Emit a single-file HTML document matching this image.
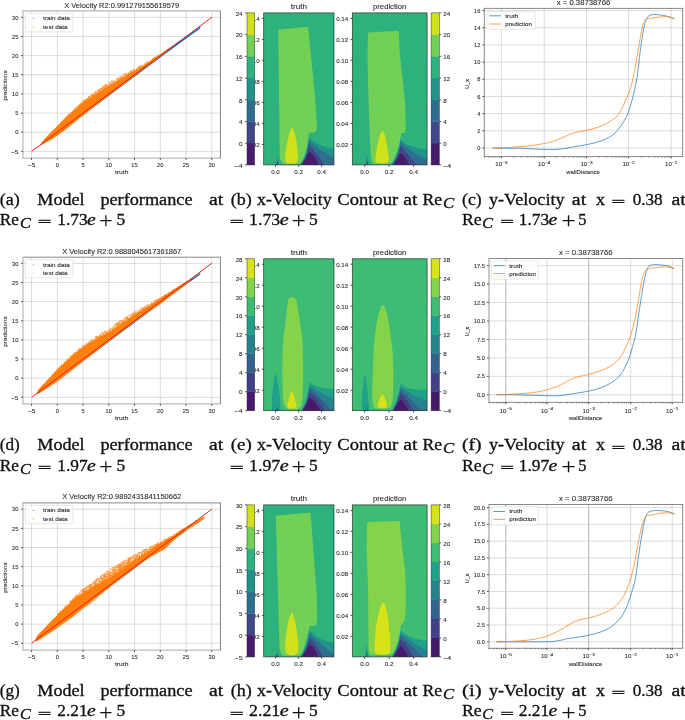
<!DOCTYPE html>
<html lang="en">
<head>
<meta charset="utf-8">
<title>Velocity model results</title>
<style>
html,body{margin:0;padding:0;background:#fff;}
body{width:685px;height:720px;overflow:hidden;font-family:"Liberation Sans",sans-serif;}
svg{display:block;will-change:transform;font-family:"Liberation Sans",sans-serif;}
</style>
</head>
<body>
<svg width="685" height="720" viewBox="0 0 685 720">
<rect x="0" y="0" width="685" height="720" fill="#ffffff"/>
<g id="scatter1">
<rect x="23" y="10.9" width="197.4" height="147.2" fill="#ffffff"/>
<line x1="31.55" y1="10.9" x2="31.55" y2="158.1" stroke="#c4c4c4" stroke-width="0.6"/>
<line x1="23" y1="151.35" x2="220.4" y2="151.35" stroke="#c4c4c4" stroke-width="0.6"/>
<line x1="57.3" y1="10.9" x2="57.3" y2="158.1" stroke="#c4c4c4" stroke-width="0.6"/>
<line x1="23" y1="132.2" x2="220.4" y2="132.2" stroke="#c4c4c4" stroke-width="0.6"/>
<line x1="83.05" y1="10.9" x2="83.05" y2="158.1" stroke="#c4c4c4" stroke-width="0.6"/>
<line x1="23" y1="113.05" x2="220.4" y2="113.05" stroke="#c4c4c4" stroke-width="0.6"/>
<line x1="108.8" y1="10.9" x2="108.8" y2="158.1" stroke="#c4c4c4" stroke-width="0.6"/>
<line x1="23" y1="93.9" x2="220.4" y2="93.9" stroke="#c4c4c4" stroke-width="0.6"/>
<line x1="134.55" y1="10.9" x2="134.55" y2="158.1" stroke="#c4c4c4" stroke-width="0.6"/>
<line x1="23" y1="74.75" x2="220.4" y2="74.75" stroke="#c4c4c4" stroke-width="0.6"/>
<line x1="160.3" y1="10.9" x2="160.3" y2="158.1" stroke="#c4c4c4" stroke-width="0.6"/>
<line x1="23" y1="55.6" x2="220.4" y2="55.6" stroke="#c4c4c4" stroke-width="0.6"/>
<line x1="186.05" y1="10.9" x2="186.05" y2="158.1" stroke="#c4c4c4" stroke-width="0.6"/>
<line x1="23" y1="36.45" x2="220.4" y2="36.45" stroke="#c4c4c4" stroke-width="0.6"/>
<line x1="211.8" y1="10.9" x2="211.8" y2="158.1" stroke="#c4c4c4" stroke-width="0.6"/>
<line x1="23" y1="17.3" x2="220.4" y2="17.3" stroke="#c4c4c4" stroke-width="0.6"/>
<clipPath id="cs1"><rect x="23" y="10.9" width="197.4" height="147.2"/></clipPath>
<g clip-path="url(#cs1)">
<polygon points="42.36,142.92 83.05,111.9 119.1,85.09 150,62.49 170.6,47.56 186.05,36.45 199.95,26.87 200.47,26.87 200.47,27.83 199.95,28.79 186.05,38.75 170.6,50.05 150,65.17 119.1,88.15 83.05,115.16 42.36,143.69" fill="#1f77b4"/>
<path d="M40.56 144.26C40.71 143.93 41.34 142.83 41.85 142.16C42.36 141.49 44.04 139.5 44.94 138.52C45.84 137.54 48.13 135.18 49.57 133.73C51.02 132.28 54.9 128.4 57.3 126.07C59.7 123.75 67.17 116.54 70.17 113.82C73.18 111.09 80.05 105.03 83.05 102.71C86.05 100.39 92.92 95.82 95.92 93.9C98.93 91.98 105.8 88.03 108.8 86.24C111.8 84.45 118.67 80.39 121.67 78.58C124.68 76.77 131.55 72.56 134.55 70.73C137.55 68.9 144.42 64.8 147.43 62.88C150.43 60.96 157.9 55.89 160.3 54.26C162.7 52.63 166.34 50.04 168.03 48.9C169.71 47.76 173.94 44.94 174.72 44.49C175.5 44.05 175.5 44.37 174.72 45.07C173.94 45.76 169.71 49.07 168.03 50.43C166.34 51.79 162.7 54.89 160.3 56.75C157.9 58.6 150.43 64.09 147.43 66.32C144.42 68.56 137.55 73.62 134.55 75.9C131.55 78.18 124.68 83.56 121.67 85.86C118.67 88.16 111.8 93.32 108.8 95.62C105.8 97.92 98.93 103.26 95.92 105.58C92.92 107.91 86.05 113.17 83.05 115.54C80.05 117.91 73.18 123.53 70.17 125.88C67.17 128.23 59.7 133.95 57.3 135.65C54.9 137.34 51.02 139.59 49.57 140.43C48.13 141.28 45.84 142.43 44.94 142.92C44.04 143.42 42.36 144.4 41.85 144.65C41.34 144.89 40.71 145.08 40.56 145.03C40.41 144.99 40.41 144.6 40.56 144.26Z" fill="#ff7f0e"/>
<path d="M51.41 132.19h0M52.43 131.11h0M54.41 129.49h0M49.68 133.75h0M51.58 132.22h0M57.27 126.33h0M68.07 115.81h0M65.53 118.7h0M65.47 117.67h0M64.04 119.33h0M65.94 118.38h0M67.06 116.6h0M61.18 122.94h0M68.44 115.45h0M66.55 116.57h0M66.49 116.55h0M62.39 120.87h0M63.02 120.01h0M68.62 115.8h0M59.05 124.85h0M69.73 114.26h0M65.37 118.68h0M63.83 120.06h0M61.82 121.75h0M64.82 118.26h0M66.08 116.95h0M68.33 114.56h0M65.94 118.29h0M68.38 114.56h0M68.95 114.79h0M66.49 117.71h0M68.01 115.7h0M60.97 123.13h0M68.29 114.59h0M58.44 124.8h0M62.58 121.52h0M61.08 122.22h0M81.41 104.66h0M78.09 107.53h0M79.42 105.84h0M81.52 101.94h0M76.68 106.48h0M74.16 110.89h0M77.9 107.71h0M72.72 111.62h0M78.03 107.41h0M70.72 112.46h0M74.22 108.94h0M81.72 103.69h0M76.1 108.34h0M78.47 106.01h0M77.38 106.94h0M82.29 102.82h0M75.73 108.18h0M73.23 111.36h0M82.76 102.35h0M77.24 108.29h0M75.52 108.72h0M70.43 113.26h0M78.31 107.31h0M78.25 106.55h0M78.92 106.23h0M79.28 104.86h0M70.46 114.1h0M78.88 104.5h0M73.41 110.9h0M77.81 107.29h0M74.86 109.9h0M74.93 109.22h0M74.04 110.5h0M80.12 105.79h0M77.5 106.5h0M74.17 110.67h0M80.52 105.08h0M72.59 111.68h0M79.16 106.52h0M74.32 110.34h0M80.91 104.25h0M81.19 104.64h0M74.51 109.47h0M81.57 103.63h0M73.07 111.78h0M76.99 108.26h0M80.56 103.34h0M72.54 112.01h0M80.57 103.97h0M80.56 104.8h0M71.84 112.59h0M80.4 105.12h0M74.63 109.89h0M75.58 109.07h0M82.03 103.94h0M70.24 112.74h0M81.5 101.93h0M75.77 107.49h0M82.11 103.72h0M79.77 104.08h0M78.71 106h0M73.9 110.7h0M85.98 101.2h0M90.63 97.48h0M93.48 96.09h0M94.68 93.15h0M94.94 92.06h0M94.63 93.66h0M83.22 101.23h0M85.26 101.18h0M91.58 96.03h0M88.38 96.71h0M90.93 97.11h0M86.3 98.55h0M89.19 96.76h0M87.58 99.83h0M89.93 96.08h0M85.26 99.58h0M94.92 92.49h0M93.65 96.02h0M91.14 95h0M83.69 102.34h0M86.51 99.62h0M88.5 98.39h0M93.05 96.44h0M83.76 102.62h0M84.65 102.11h0M95.6 91.77h0M84.16 101.37h0M87.12 99.85h0M87.57 98.44h0M90.6 97.28h0M85.51 100.93h0M84.64 100.85h0M92.27 96.05h0M84.08 102.29h0M87.86 98.39h0M93.13 95.45h0M93.36 94.39h0M88.61 98.64h0M89.44 96.89h0M88.46 97.63h0M88.98 98.74h0M89.95 96.55h0M83.97 101.73h0M88.53 96.84h0M95.11 94.08h0M94.61 92.78h0M86.43 99.88h0M84.64 99.95h0M91.58 94.57h0M93.25 94.29h0M92.5 95.24h0M84.38 100.93h0M83.11 103.03h0M93.02 96.41h0M84.23 102.34h0M94.39 95.18h0M83.35 100.79h0M84.61 99.86h0M91.72 94.69h0M95.31 93.17h0M93.33 96.21h0M92.93 95.12h0M92.26 96.82h0M92.69 93.54h0M83.84 102.11h0M90.31 95.75h0M86.17 100.85h0M86.27 99.49h0M92.75 95.67h0M87.78 99.14h0M87.56 99.23h0M84.12 101.4h0M95.58 93.62h0M92.67 96.41h0M91.94 94.87h0M91.73 95.96h0M89.28 97.24h0M94.6 95.11h0M84.28 100.45h0M94.85 93.74h0M88.75 97.32h0M85.45 101.14h0M85.61 100.06h0M99.98 91.52h0M104.82 85.27h0M99.73 89.8h0M101.24 88.12h0M103.45 89.31h0M98.73 92.78h0M102.1 89.71h0M98.14 92.2h0M100.07 89.26h0M97.77 89.67h0M102.1 88.8h0M101.95 87.76h0M106.5 86.24h0M102.12 88.21h0M106.95 86.66h0M105.37 84.88h0M101.94 90.35h0M98.95 90.24h0M104.62 85.38h0M106.92 87.3h0M98.37 92.41h0M98.34 90.68h0M106.98 84.17h0M99.21 89.37h0M99.96 90.86h0M105.31 88.74h0M97.12 90.86h0M99.68 91.28h0M103.4 87.63h0M96.01 93.59h0M101.54 89.63h0M98.63 91.02h0M108.22 85.93h0M102.93 90.08h0M99.46 90.15h0M97.37 90.44h0M107.63 87.33h0M108.04 86.11h0M105.87 85.65h0M99.73 89.93h0M104.35 86.37h0M99.34 89.81h0M108.3 84.55h0M102.83 90.15h0M102.28 89.71h0M105.17 86.49h0M103.22 89.73h0M104.24 87.31h0M98.23 89.88h0M104.36 89.21h0M107.92 87.03h0M100.19 89.43h0M103.62 88.05h0M104.26 88.08h0M99.95 91.71h0M96.81 91.6h0M105.64 86.85h0M105.45 87.75h0M99.35 91.39h0M107.16 87.73h0M102.42 90h0M105.82 87.54h0M100.21 90.78h0M102.9 87.47h0M100.47 88.65h0M97.37 92.98h0M97.21 93.52h0M105.95 85.75h0M98.3 92.66h0M101.29 88.63h0M106.43 85.34h0M103.55 89.63h0M101.05 90.99h0M102.72 88.55h0M98.53 92.34h0M105.99 88.45h0M106.27 84.68h0M108.15 86.01h0M103.04 88.28h0M104.08 85.62h0M104.77 88.4h0M107 86.27h0M103.67 87.2h0M95.96 91.9h0M104.45 87.81h0M102.67 89.05h0M98.42 91.39h0M96.4 92.75h0M104.24 88.14h0M103.21 86.29h0M107.41 87.35h0M106.13 86.16h0M96.58 93.16h0M98.93 92.56h0M102.86 86.67h0M100.09 88.78h0M104.87 88.88h0M106.98 85.74h0M107.86 84.6h0M105.45 87.81h0M106.31 84.43h0M107.02 86.47h0M105.67 87.09h0M97.33 93.59h0M96.93 93.46h0M110.87 83.92h0M117.8 79.78h0M114.23 81.3h0M112.72 83h0M118.55 79.9h0M111.13 81.73h0M118.07 80.31h0M113.58 82.23h0M116.48 81.72h0M108.83 86.26h0M118.88 80.54h0M114.72 82.84h0M111.49 84.82h0M114 83.35h0M109.15 86.38h0M110.97 83.89h0M109.57 86.33h0M114.57 82.17h0M117.86 81.36h0M113.99 82.55h0M109.14 82.43h0M111.62 84.96h0M114.91 82.82h0M116.81 81.11h0M110.4 85.79h0M118.17 80.57h0M118.94 79.43h0M120.81 78.94h0M112.02 84.2h0M119.29 78.55h0M113.24 84h0M117.59 77.87h0M116.43 82.28h0M109.19 86.41h0M110.99 85.46h0M109.49 83.94h0M120.39 79.49h0M121.34 78.01h0M119.15 77.29h0M120.9 79.57h0M112.72 82.35h0M120.99 79.43h0M112.58 81.21h0M110.28 84.73h0M113.1 81.79h0M120.75 79.35h0M118.32 78.62h0M119.56 78.72h0M120.69 78.8h0M114.14 83.08h0M118.84 79.43h0M112.27 84.37h0M118.08 79.34h0M117.95 80.3h0M115.07 82.76h0M117.95 81.35h0M114.81 80.45h0M117.52 81.46h0M111.85 81.64h0M117.07 78.61h0M120.03 78.86h0M120.35 77.5h0M113.1 83.17h0M109.73 85h0M121.1 79.32h0M116.12 82.25h0M109.84 83.77h0M111.9 84.9h0M110.77 83.28h0M116.34 82.32h0M111.76 81.01h0M111.63 83.18h0M114.2 80.67h0M116.58 79.32h0M115.69 82.3h0M111.09 85.32h0M119.43 80.29h0M109.11 82.44h0M111.37 81.64h0M109.9 84.61h0M111.67 81.82h0M116.72 79.94h0M118.6 77.81h0M113.26 82.07h0M114.54 83.19h0M119.56 78.55h0M119.29 80.13h0M115.74 81.27h0M118.17 81.12h0M113.26 82.61h0M109.72 84.31h0M118.27 79.98h0M117.15 79.86h0M111.56 84.14h0M121.62 78.35h0M114.35 83.37h0M111.61 84.77h0M120.79 77.29h0M120.06 76.45h0M116.68 78.55h0M115.7 81.48h0M121.01 76.35h0M121.03 78.16h0M118.76 79.76h0M121.64 75.92h0M125.44 73.9h0M124.05 77.56h0M130.98 72.97h0M128.36 73.47h0M122.2 76.43h0M125.23 75.93h0M126.11 74.32h0M131.29 72.8h0M123.01 77.66h0M126.97 75.83h0M123.65 75.57h0M130.69 71.04h0M134.29 69.52h0M126.47 75.96h0M125.69 75.57h0M128.45 73.74h0M126.31 73.78h0M125.35 75.76h0M133.09 70.36h0M125.5 76.34h0M132.06 72.82h0M123.37 76.65h0M128.57 74.69h0M122.32 78.34h0M131.59 72.18h0M134.28 69.79h0M134.28 71.44h0M124.06 77.69h0M127.24 75.05h0M122.34 77.17h0M122.88 77.69h0M124.86 74.76h0M127.06 75.37h0M122.24 77.67h0M129.75 72.58h0M133.42 70.18h0M124.86 76.99h0M131.44 71.29h0M128.23 72.86h0M128.78 74.3h0M123.85 77.82h0M129.95 71.71h0M133.34 71.17h0M130.24 71.44h0M132.16 71.48h0M127.01 74.63h0M123.87 77.47h0M130.48 71.09h0M128.72 73.99h0M126.21 75.3h0M132.01 71.97h0M134.03 71.43h0M125.73 75.34h0M126.98 73.44h0M132.33 70.36h0M129.56 74.32h0M129.07 73.36h0M127.95 74.79h0M130.81 71.21h0M122.99 76.32h0M126.46 74.96h0M133.21 69.81h0M129.96 73.8h0M133.53 71.69h0M126.61 73.72h0M125.75 76.12h0M133.91 69.51h0M125.76 75.75h0M125.31 76.73h0M124.9 73.97h0M122.7 78.05h0M124.25 77.47h0M128.45 73.06h0M132.47 71.22h0M132.2 72.73h0M125.31 73.85h0M122.57 78.01h0M127.89 74.86h0M128.71 74.82h0M124.71 74.17h0M123.53 75.01h0M123.97 74.39h0M130.36 72.34h0M136.38 70.14h0M144.33 65.16h0M136.99 68.13h0M145.81 64.4h0M146.92 63.01h0M139.47 68.2h0M139.57 66.2h0M138.16 68.96h0M136.42 70.03h0M139.09 66.68h0M135.54 70.46h0M146.64 62.18h0M147.17 63.35h0M139.11 66.56h0M140.8 66.24h0M138.58 68.83h0M139 67.17h0M144.62 64.3h0M140.52 66.78h0M140.24 66.95h0M145.27 64.56h0M142.2 64.86h0M145.47 64.46h0M146.95 62.36h0M136.71 69.62h0M137.16 69.67h0M147.15 63.1h0M145.79 64.35h0M134.73 69.3h0M144.77 63.25h0M143.38 65.12h0M144.41 65.21h0M141.51 66.4h0M136.43 69.04h0M138.71 67.92h0M139.36 67.93h0M139.16 67.44h0M147.17 62.02h0M145.65 63.12h0M138.24 66.98h0M138.02 69.06h0M141 66.05h0M138.94 67.46h0M138.19 67.04h0M140.38 67h0M141.39 65.47h0M147.25 62.83h0M153.11 58.88h0M148.32 62.32h0M158.34 55.27h0M148.19 61.57h0M152.37 58.68h0M152.15 60.1h0M154.49 57.53h0M152.98 58.52h0M156.58 56.99h0M151.3 60.24h0M152.56 59.62h0M155.82 56.71h0M154.95 58.31h0M150.26 61.14h0M155.34 58.06h0M148.47 62.39h0M151.07 61h0M154.36 57.54h0M154.3 57.91h0M158.09 55.33h0M159.18 55.19h0M156.21 57.49h0M158.75 55.54h0M153.55 58.12h0M151.12 60.81h0M158.03 55.73h0M148.52 62.71h0M151.95 60.42h0M158.14 56.15h0M150.95 60.65h0M154.01 58.58h0M165.16 50.95h0M163.67 52.45h0M167.86 49.11h0M160.95 54.02h0M166.12 49.94h0M160.81 54.48h0M164.01 51.96h0M167.21 49.41h0M162.86 52.74h0M171.93 46.35h0M169.38 48.38h0" stroke="#ff7f0e" stroke-width="0.75" stroke-linecap="round" fill="none" opacity="0.9"/>
<line x1="31.55" y1="151.35" x2="211.8" y2="17.3" stroke="#ee1414" stroke-width="0.95" stroke-linecap="butt"/>
</g>
<line x1="22.38" y1="10.9" x2="220.78" y2="10.9" stroke="#b4b4b4" stroke-width="1.2"/>
<line x1="22.38" y1="158.1" x2="220.78" y2="158.1" stroke="#bababa" stroke-width="1.25"/>
<line x1="23" y1="10.9" x2="23" y2="158.1" stroke="#bababa" stroke-width="1.25"/>
<line x1="220.4" y1="10.9" x2="220.4" y2="158.1" stroke="#5a5a5a" stroke-width="0.75"/>
<line x1="31.55" y1="158.1" x2="31.55" y2="160" stroke="#222222" stroke-width="0.75"/>
<text x="31.55" y="166.7" font-size="5.4" fill="#2a2a2a" text-anchor="middle" textLength="7.37" lengthAdjust="spacingAndGlyphs" stroke="#2a2a2a" stroke-width="0.09">−5</text>
<line x1="21.1" y1="151.35" x2="23" y2="151.35" stroke="#222222" stroke-width="0.75"/>
<text x="18.4" y="153.55" font-size="5.4" fill="#2a2a2a" text-anchor="end" textLength="7.37" lengthAdjust="spacingAndGlyphs" stroke="#2a2a2a" stroke-width="0.09">−5</text>
<line x1="57.3" y1="158.1" x2="57.3" y2="160" stroke="#222222" stroke-width="0.75"/>
<text x="57.3" y="166.7" font-size="5.4" fill="#2a2a2a" text-anchor="middle" textLength="3.18" lengthAdjust="spacingAndGlyphs" stroke="#2a2a2a" stroke-width="0.09">0</text>
<line x1="21.1" y1="132.2" x2="23" y2="132.2" stroke="#222222" stroke-width="0.75"/>
<text x="18.4" y="134.4" font-size="5.4" fill="#2a2a2a" text-anchor="end" textLength="3.18" lengthAdjust="spacingAndGlyphs" stroke="#2a2a2a" stroke-width="0.09">0</text>
<line x1="83.05" y1="158.1" x2="83.05" y2="160" stroke="#222222" stroke-width="0.75"/>
<text x="83.05" y="166.7" font-size="5.4" fill="#2a2a2a" text-anchor="middle" textLength="3.18" lengthAdjust="spacingAndGlyphs" stroke="#2a2a2a" stroke-width="0.09">5</text>
<line x1="21.1" y1="113.05" x2="23" y2="113.05" stroke="#222222" stroke-width="0.75"/>
<text x="18.4" y="115.25" font-size="5.4" fill="#2a2a2a" text-anchor="end" textLength="3.18" lengthAdjust="spacingAndGlyphs" stroke="#2a2a2a" stroke-width="0.09">5</text>
<line x1="108.8" y1="158.1" x2="108.8" y2="160" stroke="#222222" stroke-width="0.75"/>
<text x="108.8" y="166.7" font-size="5.4" fill="#2a2a2a" text-anchor="middle" textLength="6.36" lengthAdjust="spacingAndGlyphs" stroke="#2a2a2a" stroke-width="0.09">10</text>
<line x1="21.1" y1="93.9" x2="23" y2="93.9" stroke="#222222" stroke-width="0.75"/>
<text x="18.4" y="96.1" font-size="5.4" fill="#2a2a2a" text-anchor="end" textLength="6.36" lengthAdjust="spacingAndGlyphs" stroke="#2a2a2a" stroke-width="0.09">10</text>
<line x1="134.55" y1="158.1" x2="134.55" y2="160" stroke="#222222" stroke-width="0.75"/>
<text x="134.55" y="166.7" font-size="5.4" fill="#2a2a2a" text-anchor="middle" textLength="6.36" lengthAdjust="spacingAndGlyphs" stroke="#2a2a2a" stroke-width="0.09">15</text>
<line x1="21.1" y1="74.75" x2="23" y2="74.75" stroke="#222222" stroke-width="0.75"/>
<text x="18.4" y="76.95" font-size="5.4" fill="#2a2a2a" text-anchor="end" textLength="6.36" lengthAdjust="spacingAndGlyphs" stroke="#2a2a2a" stroke-width="0.09">15</text>
<line x1="160.3" y1="158.1" x2="160.3" y2="160" stroke="#222222" stroke-width="0.75"/>
<text x="160.3" y="166.7" font-size="5.4" fill="#2a2a2a" text-anchor="middle" textLength="6.36" lengthAdjust="spacingAndGlyphs" stroke="#2a2a2a" stroke-width="0.09">20</text>
<line x1="21.1" y1="55.6" x2="23" y2="55.6" stroke="#222222" stroke-width="0.75"/>
<text x="18.4" y="57.8" font-size="5.4" fill="#2a2a2a" text-anchor="end" textLength="6.36" lengthAdjust="spacingAndGlyphs" stroke="#2a2a2a" stroke-width="0.09">20</text>
<line x1="186.05" y1="158.1" x2="186.05" y2="160" stroke="#222222" stroke-width="0.75"/>
<text x="186.05" y="166.7" font-size="5.4" fill="#2a2a2a" text-anchor="middle" textLength="6.36" lengthAdjust="spacingAndGlyphs" stroke="#2a2a2a" stroke-width="0.09">25</text>
<line x1="21.1" y1="36.45" x2="23" y2="36.45" stroke="#222222" stroke-width="0.75"/>
<text x="18.4" y="38.65" font-size="5.4" fill="#2a2a2a" text-anchor="end" textLength="6.36" lengthAdjust="spacingAndGlyphs" stroke="#2a2a2a" stroke-width="0.09">25</text>
<line x1="211.8" y1="158.1" x2="211.8" y2="160" stroke="#222222" stroke-width="0.75"/>
<text x="211.8" y="166.7" font-size="5.4" fill="#2a2a2a" text-anchor="middle" textLength="6.36" lengthAdjust="spacingAndGlyphs" stroke="#2a2a2a" stroke-width="0.09">30</text>
<line x1="21.1" y1="17.3" x2="23" y2="17.3" stroke="#222222" stroke-width="0.75"/>
<text x="18.4" y="19.5" font-size="5.4" fill="#2a2a2a" text-anchor="end" textLength="6.36" lengthAdjust="spacingAndGlyphs" stroke="#2a2a2a" stroke-width="0.09">30</text>
<text x="121.7" y="174.3" font-size="5.89" fill="#2a2a2a" text-anchor="middle" textLength="13.42" lengthAdjust="spacingAndGlyphs" stroke="#2a2a2a" stroke-width="0.09">truth</text>
<text x="7.4" y="85.5" font-size="5.89" fill="#2a2a2a" text-anchor="middle" textLength="30.18" lengthAdjust="spacingAndGlyphs" stroke="#2a2a2a" stroke-width="0.09" transform="rotate(-90 7.4 85.5)">predictions</text>
<text x="121.7" y="7.8" font-size="7.13" fill="#2a2a2a" text-anchor="middle" textLength="114.9" lengthAdjust="spacingAndGlyphs" stroke="#2a2a2a" stroke-width="0.09">X Velocity R2:0.991279155619579</text>
<rect x="25.3" y="13.4" width="47.6" height="18.3" rx="1.2" fill="#ffffff" fill-opacity="0.8" stroke="#d0d0d0" stroke-width="0.5"/>
<circle cx="33.6" cy="18.5" r="0.55" fill="#1f77b4"/>
<circle cx="33.6" cy="26.9" r="0.55" fill="#ff7f0e"/>
<text x="43.1" y="20.4" font-size="5.89" fill="#2a2a2a" textLength="26.69" lengthAdjust="spacingAndGlyphs" stroke="#2a2a2a" stroke-width="0.09">train data</text>
<text x="43.1" y="28.8" font-size="5.89" fill="#2a2a2a" textLength="24.47" lengthAdjust="spacingAndGlyphs" stroke="#2a2a2a" stroke-width="0.09">test data</text>
</g>
<g id="scatter2">
<rect x="23" y="257.2" width="197.4" height="146.7" fill="#ffffff"/>
<line x1="31.55" y1="257.2" x2="31.55" y2="403.9" stroke="#c4c4c4" stroke-width="0.6"/>
<line x1="23" y1="397.35" x2="220.4" y2="397.35" stroke="#c4c4c4" stroke-width="0.6"/>
<line x1="57.3" y1="257.2" x2="57.3" y2="403.9" stroke="#c4c4c4" stroke-width="0.6"/>
<line x1="23" y1="378.2" x2="220.4" y2="378.2" stroke="#c4c4c4" stroke-width="0.6"/>
<line x1="83.05" y1="257.2" x2="83.05" y2="403.9" stroke="#c4c4c4" stroke-width="0.6"/>
<line x1="23" y1="359.05" x2="220.4" y2="359.05" stroke="#c4c4c4" stroke-width="0.6"/>
<line x1="108.8" y1="257.2" x2="108.8" y2="403.9" stroke="#c4c4c4" stroke-width="0.6"/>
<line x1="23" y1="339.9" x2="220.4" y2="339.9" stroke="#c4c4c4" stroke-width="0.6"/>
<line x1="134.55" y1="257.2" x2="134.55" y2="403.9" stroke="#c4c4c4" stroke-width="0.6"/>
<line x1="23" y1="320.75" x2="220.4" y2="320.75" stroke="#c4c4c4" stroke-width="0.6"/>
<line x1="160.3" y1="257.2" x2="160.3" y2="403.9" stroke="#c4c4c4" stroke-width="0.6"/>
<line x1="23" y1="301.6" x2="220.4" y2="301.6" stroke="#c4c4c4" stroke-width="0.6"/>
<line x1="186.05" y1="257.2" x2="186.05" y2="403.9" stroke="#c4c4c4" stroke-width="0.6"/>
<line x1="23" y1="282.45" x2="220.4" y2="282.45" stroke="#c4c4c4" stroke-width="0.6"/>
<line x1="211.8" y1="257.2" x2="211.8" y2="403.9" stroke="#c4c4c4" stroke-width="0.6"/>
<line x1="23" y1="263.3" x2="220.4" y2="263.3" stroke="#c4c4c4" stroke-width="0.6"/>
<clipPath id="cs2"><rect x="23" y="257.2" width="197.4" height="146.7"/></clipPath>
<g clip-path="url(#cs2)">
<polygon points="38.76,391.61 83.05,357.9 119.1,331.09 150,308.49 170.6,293.56 186.05,282.45 199.95,272.88 200.47,272.88 200.47,273.83 199.95,274.79 186.05,284.75 170.6,296.05 150,311.17 119.1,334.15 83.05,361.16 38.76,392.37" fill="#1f77b4"/>
<path d="M37.21 391.99C37.37 391.43 37.96 390.04 38.5 389.31C39.04 388.57 40.86 386.7 41.85 385.67C42.84 384.64 45.2 382.35 47 380.5C48.8 378.64 54.6 372.45 57.3 369.77C60 367.09 67.17 360.11 70.17 357.52C73.18 354.93 80.05 349.66 83.05 347.56C86.05 345.46 92.92 341.26 95.92 339.52C98.93 337.77 105.8 334.46 108.8 332.62C111.8 330.79 118.67 325.87 121.67 323.81C124.68 321.76 131.55 316.93 134.55 315C137.55 313.08 144.42 309.27 147.43 307.34C150.43 305.42 157.3 300.55 160.3 298.54C163.3 296.53 170.47 291.9 173.18 290.11C175.88 288.32 181.55 284.44 183.48 283.22C185.4 281.99 188.93 279.78 189.66 279.58C190.38 279.38 190.38 280.69 189.66 281.49C188.93 282.3 185.4 284.97 183.48 286.47C181.55 287.97 175.88 292.27 173.18 294.32C170.47 296.38 163.3 301.94 160.3 304.09C157.3 306.23 150.43 310.61 147.43 312.71C144.42 314.81 137.55 319.86 134.55 322.09C131.55 324.32 124.68 329.58 121.67 331.86C118.67 334.14 111.8 339.32 108.8 341.62C105.8 343.92 98.93 349.26 95.92 351.58C92.92 353.91 86.05 359.19 83.05 361.54C80.05 363.89 73.18 369.37 70.17 371.69C67.17 374.01 60 379.51 57.3 381.46C54.6 383.4 48.8 387.14 47 388.35C45.2 389.56 42.84 391.15 41.85 391.8C40.86 392.44 39.04 393.63 38.5 393.9C37.96 394.17 37.37 394.32 37.21 394.09C37.06 393.87 37.06 392.55 37.21 391.99Z" fill="#ff7f0e"/>
<path d="M53.42 373.69h0M55.19 371.45h0M54.62 372.11h0M47.3 380.55h0M56.72 370.23h0M56.28 371.34h0M51.83 375.9h0M52.6 374.77h0M47.14 380.86h0M49.88 377.37h0M54.89 372.76h0M55.21 372.44h0M53.36 374.39h0M47.02 380.58h0M49.16 378.73h0M57.12 369.43h0M61.02 365.43h0M64.24 362.82h0M59.94 366.53h0M66.19 360.35h0M68.81 359.07h0M61.95 365.79h0M59.18 368.53h0M61.18 365.92h0M57.34 369.51h0M61.65 365.9h0M67.84 359.7h0M61.37 365.93h0M66.37 361.68h0M69.85 358.39h0M66.95 359.86h0M57.53 369.15h0M62.01 365.15h0M57.42 370.22h0M59.63 366.81h0M59.83 366.97h0M69.27 357.39h0M61.73 365.76h0M64.06 362.82h0M58.69 368.09h0M67.56 359.24h0M57.77 368.64h0M58.47 368.91h0M65.16 361.46h0M61.68 364.86h0M64.32 363.35h0M61.38 366.32h0M71.18 357.18h0M79.05 348.99h0M72.25 356.45h0M82.88 347.21h0M75.4 353.76h0M77.82 350.49h0M76.04 352.91h0M70.89 355.97h0M70.6 357.09h0M80.97 349.59h0M79.6 348.68h0M78.29 350.22h0M71.55 356.44h0M72.1 355.14h0M73.97 354.49h0M83.04 346.14h0M82.74 347.52h0M76.46 351.86h0M76.34 352.93h0M75.37 353.92h0M75.03 352.36h0M82.53 347.23h0M76.6 352.63h0M71.32 356.9h0M80.24 348.39h0M74.83 353.05h0M80.15 348.96h0M78.72 349.94h0M74.85 353.23h0M73.79 354.56h0M80.09 349.02h0M73.96 353.36h0M78.54 350.56h0M70.32 357.21h0M73.4 354.48h0M76.14 351.9h0M78.51 350.01h0M74.65 353.53h0M79.67 348.97h0M74.68 353.03h0M81.38 347.99h0M82.74 346.05h0M76.85 352.03h0M72.31 354.98h0M82.24 347.86h0M79.08 349.76h0M79.58 350.61h0M80.22 349.21h0M78.74 350.77h0M78.21 350.32h0M78.37 350.33h0M70.53 357.67h0M88.73 342.91h0M85.87 344.72h0M91.17 343.02h0M89.12 343.93h0M83.75 347.53h0M87.14 345.3h0M85.54 346.55h0M89.04 343.57h0M90.93 341.65h0M86.11 343.81h0M83.06 347.39h0M86.64 345.05h0M84.53 345.17h0M87.86 345.09h0M90.95 343.07h0M90.07 343.02h0M90.53 340.48h0M93.59 340.49h0M93.52 339.71h0M87.81 344.95h0M90.72 341.88h0M95.37 337h0M90.89 342.46h0M94.55 340.95h0M84.44 346.05h0M90.97 342.96h0M91.15 340.32h0M87.89 344.17h0M85.96 345.79h0M95.57 339.34h0M95.42 337.22h0M90.72 342.83h0M95.68 338.84h0M88.4 344.16h0M95.72 338.83h0M86.74 344.79h0M84.62 345.77h0M88.76 344h0M93.11 339.23h0M83.22 346.96h0M86.58 343.37h0M93.12 341.34h0M86.5 345.76h0M95.78 339.49h0M90.88 342.08h0M91.35 341.31h0M92.62 341.97h0M92.84 341.35h0M89.92 343.13h0M86.87 344.55h0M89.03 343.64h0M92.64 340.5h0M83.52 347.45h0M88.92 341.79h0M94.48 339.44h0M83.24 346.23h0M88.56 343.28h0M92.17 340.66h0M89.25 341.57h0M88.01 344.21h0M94.02 340.9h0M86.87 343.55h0M83.9 345.59h0M91.99 341.49h0M86.74 343.81h0M94.77 340.55h0M89.21 342.93h0M89.46 343.44h0M85.03 345.6h0M93.5 341.51h0M86.01 344.18h0M93.24 339.81h0M83.38 346.3h0M95.65 336.66h0M92.08 342.44h0M93.89 340.92h0M91.36 339.92h0M92.22 342.18h0M86.82 343.26h0M84.98 345.56h0M88.38 344.55h0M91.06 343.08h0M84.44 346.56h0M96.85 339.52h0M103.33 333.25h0M107.24 333.73h0M101.48 336.25h0M103.65 334.3h0M108.01 332.37h0M96.64 337.43h0M97.87 337h0M102.44 332.89h0M103.07 334.02h0M99.31 336.51h0M99.2 335.67h0M102.58 336.25h0M98.94 337.45h0M105.41 334.57h0M105.11 332.66h0M97.02 337.34h0M97.1 339.24h0M103.57 335.37h0M107.22 332.32h0M100.09 334.91h0M96.3 337.51h0M96.62 339.43h0M108.18 330.71h0M98.8 338.34h0M108.45 330.64h0M106.49 334.11h0M103.97 334.71h0M98.95 337.58h0M103.83 334.81h0M100.89 337.15h0M106.63 331.81h0M106.28 333.07h0M106.89 332.32h0M103.56 333.97h0M105.45 333.71h0M97.17 339.39h0M98.53 338.65h0M107.37 332.23h0M105.71 334.85h0M101.98 333.28h0M103.9 334.43h0M101.92 336.7h0M97.92 338.71h0M100.75 336.38h0M107.26 333.66h0M99.2 337.64h0M98 338.27h0M98.95 337.01h0M96.34 336.56h0M100.68 333.82h0M104.78 332.75h0M102 332.96h0M97.44 337.09h0M99.67 335.75h0M105.31 334.68h0M98.51 338.68h0M98.89 338.38h0M101.09 333.37h0M100.61 336.74h0M101.95 336.1h0M105.35 332.18h0M98.03 338.41h0M104.58 331.4h0M104.24 334.23h0M108.48 333.36h0M96.71 337.02h0M101.21 337.2h0M102.99 332.1h0M102.61 335.49h0M97.13 339.34h0M107.5 332.11h0M107.97 333.55h0M99.06 338.34h0M101.04 337.26h0M99.21 337.16h0M99.86 337.91h0M96.41 336.29h0M98.23 337.31h0M101.11 335.57h0M97.01 338.73h0M97.32 337.7h0M107.79 331.39h0M106.96 333.61h0M96.15 338.38h0M102.19 334.77h0M100.77 335.34h0M105.27 331.13h0M99.89 336.62h0M106.57 333.79h0M97.41 338.51h0M97.05 336.85h0M106.48 333.49h0M97.6 339.07h0M99.08 338.26h0M101.44 335.17h0M99.08 338.31h0M104.95 335.19h0M98.5 338h0M100.74 337.34h0M101.34 336.33h0M105.61 332.87h0M107.46 331.28h0M105.71 332.72h0M101.62 333.89h0M104.36 331.45h0M105.3 332.3h0M99.37 335.27h0M100.85 337.19h0M96.77 339.3h0M99.31 335.96h0M99.6 338.03h0M105.76 332.78h0M96.28 339.84h0M97.6 338.25h0M119.87 321.16h0M116.68 327.14h0M114.32 328.2h0M113.05 330.27h0M116.32 324.35h0M118.16 326.59h0M115.63 328.08h0M117.93 325.34h0M120.88 321.42h0M110.32 331.14h0M120.58 323.45h0M114.39 327.79h0M118.68 322.06h0M115.66 323.91h0M116.47 327.72h0M119.28 324.54h0M109.47 328.09h0M109.22 330.63h0M115.01 324.91h0M113.86 329.13h0M112.37 330.21h0M116.04 327.05h0M118.47 325.88h0M113.33 329.37h0M121.45 320.76h0M119.74 323.21h0M113.96 329.32h0M119.51 324.04h0M109.29 332.43h0M110.07 329.27h0M120.39 324.73h0M119.06 325.13h0M117.59 323.26h0M116.82 324.16h0M113.65 329.87h0M115.39 326.36h0M111.18 330.23h0M112.88 330.37h0M112.82 329.14h0M114.93 326.03h0M113.94 325.01h0M119.3 321.71h0M117.72 324.31h0M115.71 324.94h0M113.47 327.63h0M117.55 325.22h0M112.46 330.54h0M109.92 331.24h0M116.27 324.78h0M118 325.93h0M120.76 324.18h0M118.02 326.75h0M118.5 323.77h0M121.12 320.63h0M117.65 323.37h0M118.31 324.23h0M111.49 329.4h0M120.34 324.61h0M121.35 322.51h0M113.87 329.73h0M113.82 329.29h0M117.21 323.29h0M120.52 322.7h0M113.78 329.55h0M117.67 324.98h0M118.01 325.63h0M120.22 324.79h0M112.73 329.7h0M116.81 323.58h0M110.96 329.14h0M118.67 325.81h0M109.61 330.43h0M119.49 321.86h0M118.17 325.32h0M114.28 327.42h0M120.45 324.28h0M112.41 328.29h0M121.24 324.18h0M109.19 332.67h0M116.04 325.82h0M111.17 331.07h0M116.45 325.3h0M117.69 323.99h0M109.59 330.86h0M119.55 321.33h0M112.9 326.55h0M117.11 323.19h0M111.75 328.24h0M119.62 324.03h0M110.1 331.79h0M110.82 331.62h0M110.76 329.37h0M110.15 328.98h0M118.28 323.07h0M119.15 323.08h0M120.7 320.55h0M116.85 323.13h0M110.13 332.07h0M109.63 332.06h0M113.62 328.23h0M117.56 324h0M109.88 331.05h0M115.8 327.14h0M110.31 329.78h0M113.62 327.03h0M115.18 324.28h0M120.97 324.73h0M118.58 323.42h0M112.61 330.33h0M114.97 327.8h0M118.29 322.43h0M113.72 328.93h0M115.22 325.86h0M118.96 323.98h0M112.61 329.49h0M132.59 315.21h0M122.32 322.47h0M124.74 319.63h0M122.62 322.93h0M122.91 321.8h0M134.35 313.95h0M126.65 316.89h0M122.86 322.41h0M132.11 317.24h0M131.54 316.58h0M121.89 323.51h0M127.57 319.14h0M128.33 319.75h0M124.49 318h0M127.37 318.88h0M122.77 322.79h0M133.97 313.53h0M128.21 319.83h0M126.73 317.73h0M127.27 318.36h0M133.29 314.17h0M129.86 318.74h0M121.98 320.83h0M127 317.02h0M132.31 313.43h0M126.55 316.56h0M131.41 314.12h0M123.58 319.74h0M127.11 316.37h0M134.47 315.12h0M127.1 319.91h0M127.72 319.43h0M130.26 318.26h0M123.85 321.28h0M122.63 322.45h0M133.23 313h0M124.21 322.64h0M132.34 313.16h0M129.39 318.82h0M124.72 318.19h0M133.75 316.09h0M124.05 321.28h0M125.11 318.91h0M126.48 317.91h0M123.63 321.13h0M134.23 313.29h0M122.83 323.35h0M129.96 317.58h0M126.42 319.48h0M129.16 315.12h0M124.78 320.12h0M125.06 320.05h0M131.09 317.67h0M127.87 317.39h0M121.78 320.95h0M127.07 318.93h0M129.54 315.85h0M122.4 322.03h0M122.17 322.74h0M126.13 321.32h0M125.51 320.21h0M130.11 314.76h0M126.44 319.21h0M130.86 314.22h0M133.9 312.03h0M125.56 321.32h0M133.67 316.05h0M127.45 317.5h0M128.48 318.51h0M133.58 315.44h0M128.78 316.14h0M123.45 322.03h0M128.04 317.99h0M124.34 320.97h0M122.45 323.68h0M126.08 321.04h0M134.13 315.2h0M125.23 318.67h0M131.22 317.17h0M132.35 314.88h0M126.68 318.57h0M124.84 321.46h0M132.96 315.31h0M133.23 316.09h0M123.44 323.09h0M131.2 315.94h0M121.8 324.23h0M132.28 315.52h0M132.89 316.66h0M129.26 318.96h0M130.96 315.86h0M129.56 318.43h0M133.89 315.82h0M122.5 320.99h0M122.87 323.45h0M127.6 317.86h0M133.16 313.89h0M122.57 321.17h0M132.54 316.72h0M131.39 317.06h0M125.52 321.76h0M131.44 315.99h0M133.29 314.98h0M123.68 322.43h0M125.07 317.81h0M124.32 322.41h0M126.22 321.13h0M127.15 318.29h0M130.05 318.25h0M123.46 321.37h0M130.52 316.9h0M129.06 315.5h0M123.54 322.32h0M128.03 318.14h0M133.26 314.61h0M143.08 309.42h0M144.65 306.89h0M138.33 313.14h0M137.89 312.64h0M146 308.21h0M142.65 308.82h0M146.86 308.07h0M144.46 308.89h0M135.88 312.67h0M145.42 307.48h0M135.19 311.36h0M139.5 310.61h0M143.87 309.47h0M139.81 311.62h0M135.79 314.75h0M143.78 309.04h0M145.75 308.84h0M138.43 312.9h0M146.7 305.95h0M146.09 307.38h0M135.89 313.57h0M137.46 313.82h0M141.82 310.58h0M135.94 313.16h0M146.56 305.36h0M140.55 311.84h0M144.45 309.51h0M141.47 311.34h0M147.26 306.59h0M140.18 311.59h0M141.64 307.89h0M140.06 311.85h0M141.18 308.4h0M139.47 310.64h0M146.38 307.81h0M144.99 307.93h0M136.35 314.44h0M146.64 307.21h0M140.26 308.91h0M141.94 309.78h0M138.21 310.85h0M137.85 312.23h0M144.32 308.02h0M136.28 314.1h0M143.5 307.98h0M135.87 310.86h0M136.27 314.21h0M135.71 313.56h0M142.53 307.95h0M136.65 311.93h0M135.9 312.88h0M137.79 312.7h0M135.23 312.62h0M136.12 311.91h0M138.88 311.15h0M142.78 309.34h0M145.8 305.89h0M138.18 312.55h0M145.84 308.64h0M139.96 311.23h0M147.12 307.9h0M142.98 308.14h0M143.93 310h0M146.7 307.67h0M145.53 307.12h0M139.97 309.44h0M143.25 309.59h0M143.97 308.6h0M143.71 308.33h0M144.8 309.2h0M140.92 311.79h0M144.73 307.12h0M145.33 309.12h0M141.44 310.14h0M136.09 314.21h0M147.09 305.47h0M137.62 310.77h0M142.93 309.62h0M142.85 310.16h0M138.07 313.47h0M143 308.86h0M144.12 308.52h0M140.15 311.5h0M144.02 309.03h0M142.23 308.56h0M140.27 309.96h0M135.34 314.46h0M145.37 308.89h0M135.28 315.13h0M144.41 309.54h0M140.45 310.86h0M144.89 308.18h0M141.27 311.56h0M144.79 307.1h0M155.45 300.62h0M155.33 301.04h0M158.38 299.41h0M147.69 305.01h0M160.17 299h0M148.28 306.6h0M148.71 306.23h0M148.57 306.73h0M147.47 306.85h0M151.29 303.45h0M152.43 304.26h0M159.7 297.98h0M156.3 301.57h0M152.61 303.47h0M152.69 304.3h0M153.29 302.12h0M156.35 300.02h0M156.22 300.37h0M158.64 298.54h0M157.64 300.31h0M155.92 300.83h0M158.79 298.94h0M153.13 303.74h0M151.64 304.61h0M156.2 300.36h0M149.9 304.96h0M158.24 300.01h0M148.64 305.5h0M152.09 304.53h0M151.13 305.38h0M149.34 305.65h0M148.78 306.99h0M154.51 300.8h0M158.16 300.14h0M159.33 299.72h0M149.36 306.59h0M148.18 305.81h0M157.17 300.48h0M157.77 300.15h0M159.25 298.88h0M154.34 302.97h0M152.92 303.3h0M158.02 300.4h0M151.22 303.19h0M148.34 305.94h0M150.25 304.3h0M155.08 302.59h0M156.83 300.85h0M151.55 302.85h0M157.45 300.64h0M156.15 301.82h0M154.11 303.26h0M155.67 300.26h0M155.62 302.28h0M154.03 302.51h0M153.13 303.82h0M151.01 304.51h0M148.34 305.44h0M150.56 305.23h0M148.59 306.5h0M159.41 299.37h0M148.66 306.33h0M159.59 299.53h0M151.83 304.57h0M156.2 301.13h0M148.69 304.51h0M151.65 303.37h0M153.26 301.8h0M148.17 306.98h0M151.1 304.94h0M158.01 299.89h0M151.89 303.78h0M158.31 299.55h0M166.11 294.48h0M168.22 293.52h0M165.79 295.42h0M165.95 294.17h0M164.24 296.13h0M168.07 293.35h0M162.56 297.09h0M169.75 292.91h0M161.7 297.06h0M171.95 291.45h0M161.35 297.53h0M163.96 295.83h0M160.74 298.23h0M162.38 297.38h0M169.23 292.73h0M171.29 290.94h0M168.27 292.8h0M162.58 297.02h0M164.41 295.6h0M161.73 296.76h0M165.07 294.9h0M172.44 290.08h0M165.32 294.61h0M173.14 290.64h0M169.92 291.97h0M166.19 294.99h0M162.53 297.16h0M172.3 290.91h0M163.59 296.13h0M165.93 294.66h0M166.15 295.01h0M173.54 289.58h0M179.96 286.03h0M178.32 286.83h0M178.36 286.47h0M181.19 285.17h0M176.66 287.86h0M174.85 288.6h0M173.64 289.93h0M175.99 288.38h0M173.64 290.22h0M183.36 283.44h0M175.45 288.81h0" stroke="#ff7f0e" stroke-width="0.75" stroke-linecap="round" fill="none" opacity="0.9"/>
<line x1="31.55" y1="397.35" x2="211.8" y2="263.3" stroke="#ee1414" stroke-width="0.95" stroke-linecap="butt"/>
</g>
<line x1="22.38" y1="257.2" x2="220.78" y2="257.2" stroke="#6a6a6a" stroke-width="0.8"/>
<line x1="22.38" y1="403.9" x2="220.78" y2="403.9" stroke="#bababa" stroke-width="1.25"/>
<line x1="23" y1="257.2" x2="23" y2="403.9" stroke="#bababa" stroke-width="1.25"/>
<line x1="220.4" y1="257.2" x2="220.4" y2="403.9" stroke="#5a5a5a" stroke-width="0.75"/>
<line x1="31.55" y1="403.9" x2="31.55" y2="405.8" stroke="#222222" stroke-width="0.75"/>
<text x="31.55" y="412.5" font-size="5.4" fill="#2a2a2a" text-anchor="middle" textLength="7.37" lengthAdjust="spacingAndGlyphs" stroke="#2a2a2a" stroke-width="0.09">−5</text>
<line x1="21.1" y1="397.35" x2="23" y2="397.35" stroke="#222222" stroke-width="0.75"/>
<text x="18.4" y="399.55" font-size="5.4" fill="#2a2a2a" text-anchor="end" textLength="7.37" lengthAdjust="spacingAndGlyphs" stroke="#2a2a2a" stroke-width="0.09">−5</text>
<line x1="57.3" y1="403.9" x2="57.3" y2="405.8" stroke="#222222" stroke-width="0.75"/>
<text x="57.3" y="412.5" font-size="5.4" fill="#2a2a2a" text-anchor="middle" textLength="3.18" lengthAdjust="spacingAndGlyphs" stroke="#2a2a2a" stroke-width="0.09">0</text>
<line x1="21.1" y1="378.2" x2="23" y2="378.2" stroke="#222222" stroke-width="0.75"/>
<text x="18.4" y="380.4" font-size="5.4" fill="#2a2a2a" text-anchor="end" textLength="3.18" lengthAdjust="spacingAndGlyphs" stroke="#2a2a2a" stroke-width="0.09">0</text>
<line x1="83.05" y1="403.9" x2="83.05" y2="405.8" stroke="#222222" stroke-width="0.75"/>
<text x="83.05" y="412.5" font-size="5.4" fill="#2a2a2a" text-anchor="middle" textLength="3.18" lengthAdjust="spacingAndGlyphs" stroke="#2a2a2a" stroke-width="0.09">5</text>
<line x1="21.1" y1="359.05" x2="23" y2="359.05" stroke="#222222" stroke-width="0.75"/>
<text x="18.4" y="361.25" font-size="5.4" fill="#2a2a2a" text-anchor="end" textLength="3.18" lengthAdjust="spacingAndGlyphs" stroke="#2a2a2a" stroke-width="0.09">5</text>
<line x1="108.8" y1="403.9" x2="108.8" y2="405.8" stroke="#222222" stroke-width="0.75"/>
<text x="108.8" y="412.5" font-size="5.4" fill="#2a2a2a" text-anchor="middle" textLength="6.36" lengthAdjust="spacingAndGlyphs" stroke="#2a2a2a" stroke-width="0.09">10</text>
<line x1="21.1" y1="339.9" x2="23" y2="339.9" stroke="#222222" stroke-width="0.75"/>
<text x="18.4" y="342.1" font-size="5.4" fill="#2a2a2a" text-anchor="end" textLength="6.36" lengthAdjust="spacingAndGlyphs" stroke="#2a2a2a" stroke-width="0.09">10</text>
<line x1="134.55" y1="403.9" x2="134.55" y2="405.8" stroke="#222222" stroke-width="0.75"/>
<text x="134.55" y="412.5" font-size="5.4" fill="#2a2a2a" text-anchor="middle" textLength="6.36" lengthAdjust="spacingAndGlyphs" stroke="#2a2a2a" stroke-width="0.09">15</text>
<line x1="21.1" y1="320.75" x2="23" y2="320.75" stroke="#222222" stroke-width="0.75"/>
<text x="18.4" y="322.95" font-size="5.4" fill="#2a2a2a" text-anchor="end" textLength="6.36" lengthAdjust="spacingAndGlyphs" stroke="#2a2a2a" stroke-width="0.09">15</text>
<line x1="160.3" y1="403.9" x2="160.3" y2="405.8" stroke="#222222" stroke-width="0.75"/>
<text x="160.3" y="412.5" font-size="5.4" fill="#2a2a2a" text-anchor="middle" textLength="6.36" lengthAdjust="spacingAndGlyphs" stroke="#2a2a2a" stroke-width="0.09">20</text>
<line x1="21.1" y1="301.6" x2="23" y2="301.6" stroke="#222222" stroke-width="0.75"/>
<text x="18.4" y="303.8" font-size="5.4" fill="#2a2a2a" text-anchor="end" textLength="6.36" lengthAdjust="spacingAndGlyphs" stroke="#2a2a2a" stroke-width="0.09">20</text>
<line x1="186.05" y1="403.9" x2="186.05" y2="405.8" stroke="#222222" stroke-width="0.75"/>
<text x="186.05" y="412.5" font-size="5.4" fill="#2a2a2a" text-anchor="middle" textLength="6.36" lengthAdjust="spacingAndGlyphs" stroke="#2a2a2a" stroke-width="0.09">25</text>
<line x1="21.1" y1="282.45" x2="23" y2="282.45" stroke="#222222" stroke-width="0.75"/>
<text x="18.4" y="284.65" font-size="5.4" fill="#2a2a2a" text-anchor="end" textLength="6.36" lengthAdjust="spacingAndGlyphs" stroke="#2a2a2a" stroke-width="0.09">25</text>
<line x1="211.8" y1="403.9" x2="211.8" y2="405.8" stroke="#222222" stroke-width="0.75"/>
<text x="211.8" y="412.5" font-size="5.4" fill="#2a2a2a" text-anchor="middle" textLength="6.36" lengthAdjust="spacingAndGlyphs" stroke="#2a2a2a" stroke-width="0.09">30</text>
<line x1="21.1" y1="263.3" x2="23" y2="263.3" stroke="#222222" stroke-width="0.75"/>
<text x="18.4" y="265.5" font-size="5.4" fill="#2a2a2a" text-anchor="end" textLength="6.36" lengthAdjust="spacingAndGlyphs" stroke="#2a2a2a" stroke-width="0.09">30</text>
<text x="121.7" y="420.1" font-size="5.89" fill="#2a2a2a" text-anchor="middle" textLength="13.42" lengthAdjust="spacingAndGlyphs" stroke="#2a2a2a" stroke-width="0.09">truth</text>
<text x="7.4" y="331.55" font-size="5.89" fill="#2a2a2a" text-anchor="middle" textLength="30.18" lengthAdjust="spacingAndGlyphs" stroke="#2a2a2a" stroke-width="0.09" transform="rotate(-90 7.4 331.55)">predictions</text>
<text x="121.7" y="253.6" font-size="7.13" fill="#2a2a2a" text-anchor="middle" textLength="119.1" lengthAdjust="spacingAndGlyphs" stroke="#2a2a2a" stroke-width="0.09">X Velocity R2:0.9888045617361867</text>
<rect x="25.3" y="259.7" width="47.6" height="18.3" rx="1.2" fill="#ffffff" fill-opacity="0.8" stroke="#d0d0d0" stroke-width="0.5"/>
<circle cx="33.6" cy="264.8" r="0.55" fill="#1f77b4"/>
<circle cx="33.6" cy="273.2" r="0.55" fill="#ff7f0e"/>
<text x="43.1" y="266.7" font-size="5.89" fill="#2a2a2a" textLength="26.69" lengthAdjust="spacingAndGlyphs" stroke="#2a2a2a" stroke-width="0.09">train data</text>
<text x="43.1" y="275.1" font-size="5.89" fill="#2a2a2a" textLength="24.47" lengthAdjust="spacingAndGlyphs" stroke="#2a2a2a" stroke-width="0.09">test data</text>
</g>
<g id="scatter3">
<rect x="23" y="502.9" width="197.4" height="147.3" fill="#ffffff"/>
<line x1="31.55" y1="502.9" x2="31.55" y2="650.2" stroke="#c4c4c4" stroke-width="0.6"/>
<line x1="23" y1="643.25" x2="220.4" y2="643.25" stroke="#c4c4c4" stroke-width="0.6"/>
<line x1="57.3" y1="502.9" x2="57.3" y2="650.2" stroke="#c4c4c4" stroke-width="0.6"/>
<line x1="23" y1="624.1" x2="220.4" y2="624.1" stroke="#c4c4c4" stroke-width="0.6"/>
<line x1="83.05" y1="502.9" x2="83.05" y2="650.2" stroke="#c4c4c4" stroke-width="0.6"/>
<line x1="23" y1="604.95" x2="220.4" y2="604.95" stroke="#c4c4c4" stroke-width="0.6"/>
<line x1="108.8" y1="502.9" x2="108.8" y2="650.2" stroke="#c4c4c4" stroke-width="0.6"/>
<line x1="23" y1="585.8" x2="220.4" y2="585.8" stroke="#c4c4c4" stroke-width="0.6"/>
<line x1="134.55" y1="502.9" x2="134.55" y2="650.2" stroke="#c4c4c4" stroke-width="0.6"/>
<line x1="23" y1="566.65" x2="220.4" y2="566.65" stroke="#c4c4c4" stroke-width="0.6"/>
<line x1="160.3" y1="502.9" x2="160.3" y2="650.2" stroke="#c4c4c4" stroke-width="0.6"/>
<line x1="23" y1="547.5" x2="220.4" y2="547.5" stroke="#c4c4c4" stroke-width="0.6"/>
<line x1="186.05" y1="502.9" x2="186.05" y2="650.2" stroke="#c4c4c4" stroke-width="0.6"/>
<line x1="23" y1="528.35" x2="220.4" y2="528.35" stroke="#c4c4c4" stroke-width="0.6"/>
<line x1="211.8" y1="502.9" x2="211.8" y2="650.2" stroke="#c4c4c4" stroke-width="0.6"/>
<line x1="23" y1="509.2" x2="220.4" y2="509.2" stroke="#c4c4c4" stroke-width="0.6"/>
<clipPath id="cs3"><rect x="23" y="502.9" width="197.4" height="147.3"/></clipPath>
<g clip-path="url(#cs3)">
<polygon points="37.21,638.65 83.05,603.8 119.1,576.99 150,554.39 170.6,539.46 186.05,528.35 196.35,521.46 196.87,521.46 196.87,522.41 196.35,523.37 186.05,530.65 170.6,541.95 150,557.08 119.1,580.06 83.05,607.06 37.21,639.42" fill="#1f77b4"/>
<path d="M35.67 638.85C35.82 638.22 36.36 636.8 36.96 635.97C37.56 635.15 39.65 632.97 40.82 631.76C41.99 630.55 45.08 627.55 47 625.63C48.92 623.71 54.6 617.93 57.3 615.29C60 612.65 67.17 605.63 70.17 603.03C73.18 600.44 80.05 595.11 83.05 593.08C86.05 591.04 92.92 587.37 95.92 585.61C98.93 583.84 105.8 579.87 108.8 577.95C111.8 576.03 118.67 571.17 121.67 569.14C124.68 567.11 131.55 562.51 134.55 560.52C137.55 558.53 144.72 553.91 147.43 552.1C150.13 550.29 155.62 546.4 157.73 545.01C159.83 543.63 163.65 541.3 165.45 540.22C167.25 539.15 170.77 537.34 173.18 535.82C175.58 534.3 183.35 528.97 186.05 527.2C188.75 525.44 194.31 521.92 196.35 520.69C198.39 519.46 202.6 517.12 203.56 516.67C204.52 516.22 204.47 516.7 204.59 516.86C204.71 517.02 204.71 517.72 204.59 518.01C204.47 518.3 204.52 518.61 203.56 519.35C202.6 520.09 198.39 522.99 196.35 524.33C194.31 525.67 188.75 528.9 186.05 530.84C183.35 532.78 175.58 538.93 173.18 540.99C170.77 543.04 167.25 547.05 165.45 548.46C163.65 549.87 159.83 551.82 157.73 553.05C155.62 554.28 150.13 557.23 147.43 558.99C144.72 560.75 137.55 565.97 134.55 568.18C131.55 570.39 124.68 575.65 121.67 577.95C118.67 580.25 111.8 585.54 108.8 587.91C105.8 590.27 98.93 595.83 95.92 598.25C92.92 600.66 86.05 606.22 83.05 608.59C80.05 610.96 73.18 616.29 70.17 618.55C67.17 620.8 60 626.03 57.3 627.93C54.6 629.83 48.92 633.55 47 634.82C45.08 636.1 41.99 638.11 40.82 638.85C39.65 639.58 37.56 640.85 36.96 641.14C36.36 641.43 35.82 641.6 35.67 641.34C35.52 641.07 35.52 639.47 35.67 638.85Z" fill="#ff7f0e"/>
<path d="M51.77 621.17h0M48.43 624.21h0M47.07 625.91h0M56.25 616.87h0M52.71 619.95h0M47.42 625.62h0M54.25 618.55h0M54.47 618.62h0M49.45 623.71h0M52.21 620.11h0M53.08 619.37h0M50.95 621.65h0M48.05 625.03h0M53.94 618.53h0M51.34 621.81h0M49.75 623.35h0M60.92 611.17h0M59.87 612.09h0M68.62 605.04h0M62.18 610.54h0M57.6 615.15h0M68.97 604.63h0M64.98 608.43h0M64.75 607.05h0M59.91 613.37h0M58.38 614.22h0M57.52 615.6h0M63.7 608.07h0M62.71 610.19h0M65.52 607.95h0M64.76 608.57h0M65.14 606.48h0M58 614.57h0M65.11 608.28h0M60.75 610.94h0M70.15 603.49h0M66.38 605.21h0M60.35 612.13h0M57.85 614.98h0M65.98 606.57h0M67.27 606.29h0M61.77 610.18h0M64.82 608.02h0M62.48 609.17h0M64.7 608.82h0M67.59 605.57h0M62.88 610.32h0M63.02 610.02h0M58.44 614h0M58.63 613.55h0M57.63 614.57h0M67.7 605.08h0M66.43 606.84h0M66.8 606.14h0M60.27 611.51h0M62.46 610.48h0M68.37 604.72h0M65.89 607.49h0M68.16 605.16h0M57.95 613.89h0M59.52 612.32h0M70 602.52h0M57.45 615.69h0M59.99 612.87h0M65.17 606.42h0M61.86 611.4h0M64.53 608.84h0M58.41 614.15h0M79.14 596.58h0M75.99 596.92h0M80.01 594.84h0M81.6 594.36h0M79.39 593.57h0M81.51 593.1h0M71.45 602.58h0M76.98 598h0M78.28 597.2h0M80.22 595.28h0M70.34 603.24h0M76.05 597.45h0M75.17 599.43h0M76.38 595.47h0M77.07 594.85h0M70.55 600.79h0M81.62 592.76h0M76.92 596.8h0M81.89 594.44h0M78.45 595.47h0M74.04 598.56h0M79.45 596.24h0M79.18 595.23h0M76.49 596.76h0M70.86 601.76h0M74.98 597.08h0M73.15 598.99h0M79.57 594.14h0M81.45 594.84h0M77.86 595.67h0M78.9 595.66h0M71.06 602.64h0M78 597.17h0M71.01 602.31h0M76.23 597.39h0M70.51 601.54h0M74.47 597.95h0M70.29 601.17h0M77.77 594.01h0M82.87 590.07h0M71.54 601.89h0M73.15 599.15h0M72.65 601.31h0M71.6 602.35h0M82.25 589.77h0M74.97 597.67h0M76.19 597.47h0M74.93 598.12h0M73.22 600.78h0M76.84 598.04h0M75.83 596h0M70.46 603.27h0M80.47 595.55h0M73.41 598.64h0M77.97 597.08h0M70.93 602.57h0M74.04 598.27h0M82.74 590.47h0M81.79 590.49h0M81.46 590.86h0M82.63 593.78h0M74.27 599.96h0M77.95 596.11h0M74.64 597.57h0M75.31 599.22h0M73.73 599.76h0M78.03 595.71h0M75.84 598.87h0M75.35 598.86h0M72.37 600.64h0M72.6 599.89h0M78.66 596.77h0M78.23 596.47h0M75.93 597.37h0M79.98 592.44h0M79.62 595.79h0M77.15 597.36h0M70.42 602.28h0M76.23 595.98h0M74.34 597.86h0M76.79 598.33h0M79.41 595.71h0M77.04 598.19h0M70.31 601.25h0M70.72 602.99h0M72.28 601.86h0M80.78 591.05h0M78.53 596.01h0M81.61 592.96h0M71.91 600.57h0M74.8 599.47h0M74.3 599.53h0M72.52 600.29h0M81.36 592.86h0M70.3 602.01h0M70.43 602.47h0M81.32 592.34h0M81.87 591.44h0M73.69 600.67h0M75.99 597.02h0M73.16 600.62h0M79.81 595.15h0M77.91 595.92h0M82.13 594.33h0M72.58 599.67h0M78.79 596.78h0M71.91 601.93h0M77.17 594.95h0M72.96 601.11h0M79 595.51h0M81.08 590.75h0M82.23 591.33h0M76.56 598.59h0M80.58 594.31h0M76.14 597.08h0M95.46 583.53h0M94.87 580.73h0M84.14 591.8h0M94.49 582.6h0M95.53 585.75h0M89.89 584.49h0M90 586.29h0M95.6 585.76h0M83.78 589.28h0M90.53 588.65h0M93.77 586.3h0M84.72 591.71h0M83.51 591.95h0M93.09 585.72h0M95.47 586.36h0M85.28 591.99h0M90.45 588.7h0M91.64 586.19h0M90.53 584.7h0M93.22 582.24h0M85.01 591.15h0M95.42 584.63h0M86.73 589.55h0M85.38 588.22h0M91.24 588.66h0M95.47 583.78h0M86.32 589.06h0M95.28 585.02h0M83.23 593.01h0M83.81 591.15h0M87.06 587.04h0M85.71 592.09h0M89.03 589.85h0M87.05 590.62h0M85.34 589.55h0M95.1 584.99h0M91.27 587.6h0M94.83 583.96h0M83.43 590.2h0M85.75 592h0M83.3 589.7h0M92.19 586.85h0M90.23 585.9h0M84.02 590.02h0M92.18 582.81h0M83.81 590.91h0M89.59 585.34h0M87.74 587.83h0M94.6 585.42h0M89.69 584.93h0M83.49 588.72h0M87.08 589.46h0M86.75 587.61h0M89.91 585.82h0M84.39 588.69h0M93.62 583.83h0M85.92 591.15h0M88.87 590.14h0M95.33 584.61h0M95.32 585.88h0M91.39 584.45h0M91.35 586.99h0M83.3 591.94h0M88.07 585.68h0M95.58 580.29h0M95.67 585.74h0M83.43 592.51h0M83.15 593.32h0M90.48 588.68h0M90.91 587.5h0M86.58 586.56h0M85.45 587.95h0M89.83 586.45h0M84.9 589.19h0M94.5 586.3h0M89.14 586.97h0M89.16 586.29h0M91.35 587.6h0M91.82 584.35h0M89.02 587.45h0M91.22 586.75h0M84.19 591.52h0M93.07 583.88h0M84.01 591.28h0M90.62 586.78h0M84.98 589.73h0M92.03 585.86h0M95.15 583.58h0M83.21 592.68h0M92.09 588.21h0M95.47 582.47h0M92.9 587.38h0M83.14 589.61h0M89.63 587.95h0M89.72 585.8h0M87.85 587.04h0M85.13 587.51h0M92.01 587.18h0M89.19 585.36h0M87.24 587.92h0M94.76 580.84h0M86.34 587.91h0M90.89 584.72h0M83.94 591.65h0M88.86 586.06h0M88.87 590.2h0M85.74 588.08h0M94.42 584.08h0M84.08 589.58h0M94.2 586.02h0M89.25 588.99h0M83.74 590.04h0M85.1 592.28h0M94.76 586.59h0M92.83 583.35h0M86.28 590.4h0M85.92 588.74h0M95.58 582.04h0M89.4 587.53h0M88.3 587.12h0M86.52 590.85h0M92.02 587.5h0M95.77 582.05h0M85.42 592.25h0M90.75 588.8h0M89.49 587.08h0M93.46 585.89h0M90.08 585.23h0M84.78 591.49h0M93.46 586.07h0M95.03 586.48h0M84.14 591.76h0M89.02 588.74h0M85.89 590.26h0M94.56 581.17h0M91.11 588.04h0M90.55 588.82h0M83.86 589.59h0M86.49 591.21h0M93.61 587.16h0M86.1 591.48h0M94.54 583.22h0M85.38 592.15h0M94.73 586.48h0M92.25 584.67h0M90.62 587.11h0M88.4 589.55h0M91.37 588.36h0M89.19 589.18h0M87.78 586.27h0M90.35 586.22h0M91.38 588.82h0M93.13 582.68h0M92.66 585.55h0M93.94 581.56h0M86.61 591.13h0M87.4 591.11h0M86.08 591.72h0M83.16 592.19h0M83.13 591.82h0M94 583.34h0M83.72 590.08h0M98.37 579.54h0M104.21 577.74h0M101.54 575.53h0M98.63 578.52h0M98.56 584.33h0M98.7 584.45h0M106.62 578.96h0M103.3 580.43h0M100.54 578.14h0M103 580.67h0M105.52 579.88h0M96.45 581.83h0M106.9 573.75h0M104.9 573.48h0M107.85 575.07h0M98.21 581.51h0M101.42 578.21h0M100.42 583.3h0M98.42 584.2h0M105.36 575.62h0M102.79 580.45h0M105.31 577.83h0M102.29 581.55h0M108.76 575.62h0M101.99 581.66h0M101.69 580.02h0M101.4 577.9h0M100.24 579.77h0M104.55 580.51h0M106.52 579.65h0M99.24 578.68h0M97.46 584.08h0M101.24 576.1h0M108.4 577.65h0M104.18 575.07h0M102.54 580.63h0M97.89 584.83h0M96.5 585.73h0M105.25 576.62h0M96.79 579.57h0M108.62 575.96h0M100.59 577.27h0M104.49 575.68h0M98.27 580.27h0M101.62 582.64h0M96.54 584.72h0M98.94 583.19h0M107.66 576.72h0M98.6 584.26h0M96.64 583.79h0M101.34 582.72h0M102.58 580.4h0M96.17 583.65h0M97.95 584.3h0M105.61 577.8h0M100.52 580.14h0M105.37 576.2h0M108.15 573.38h0M100.32 576.73h0M96.13 585.38h0M97.49 583.4h0M100.48 581.43h0M104.07 579.42h0M102.14 577.98h0M107.85 570.94h0M100.67 581.33h0M108.69 571.65h0M107.22 579h0M99.65 581.71h0M99.9 581.26h0M108.08 576.54h0M102.44 580.63h0M103.51 578.2h0M98.27 584.64h0M105.61 574.01h0M100.28 582.76h0M97.23 581.85h0M103.38 574.59h0M104.65 577.18h0M103.58 574.7h0M107.78 578.36h0M97.5 584.82h0M96.09 580.82h0M108.33 575.38h0M105.71 575.62h0M104.37 578.89h0M108.25 577.08h0M97.21 585.29h0M106.07 574.19h0M106.9 573.39h0M98.84 582.66h0M99.54 578.15h0M95.95 584.86h0M104.34 576.82h0M95.96 585.82h0M98.1 584h0M102.51 582.19h0M106.58 576.85h0M104.32 579.16h0M106.84 579.29h0M107.08 578.26h0M102.55 578.71h0M104.58 577.51h0M105.19 580.52h0M102.81 579.05h0M103.9 581.05h0M105.03 580.49h0M96.52 585.7h0M108.53 577.93h0M104.73 580.78h0M103.72 580.54h0M103.64 576.35h0M104.64 577.48h0M105.16 580.68h0M96.63 584.82h0M101.74 577.47h0M96.26 585.2h0M102.68 580.47h0M96.99 584.33h0M96.26 585.96h0M106.74 577.97h0M105.14 579.47h0M105.45 573.58h0M96.15 582.74h0M107.62 573.19h0M97.49 580.81h0M105.64 579.71h0M104.39 576.9h0M98.49 579.32h0M106.96 579.36h0M102 578.86h0M96.03 583.44h0M108 577.04h0M102.3 575.38h0M107.18 571.51h0M97.09 578.77h0M100.19 581.81h0M98.3 579.58h0M103.51 578.93h0M102.3 579.28h0M103.43 581.11h0M105.19 579.33h0M96.19 579.84h0M97.19 580.43h0M105.8 577.67h0M103.77 580.35h0M98.7 578.6h0M105.57 574.68h0M101.82 582.59h0M105.88 572.42h0M100.02 579.91h0M97.83 578.55h0M105.06 580.55h0M104.95 576.03h0M101.54 579.2h0M107.92 573.89h0M102.02 575.28h0M104.14 575.63h0M103.08 576.58h0M105.89 577.01h0M101.91 581.77h0M104.33 575.97h0M101.21 582.84h0M105.01 576.25h0M104.26 580.59h0M107.33 573.83h0M106.23 579.42h0M99.42 581.05h0M96 579.85h0M98.17 584.31h0M106.16 578.91h0M103.33 577.39h0M98.54 584.51h0M104.98 574.01h0M106.33 579.6h0M100.23 581.13h0M96.35 580.35h0M106.59 571.77h0M107.71 572.39h0M99.76 579.86h0M107.17 579.48h0M96.87 579.06h0M97.1 579.58h0M100.81 582.17h0M100.77 577.07h0M104.26 580.74h0M106.5 577.88h0M106.55 576.54h0M107.02 575.8h0M100.47 576.24h0M108.56 574.78h0M102.65 578.28h0M104.62 579.62h0M107.9 576.37h0M108.76 574.39h0M107.73 571.44h0M99.47 584h0M103.4 578.03h0M100.26 581.81h0M99.45 583.8h0M101.83 579.52h0M101.56 576.84h0M101.54 577.71h0M105.64 577.11h0M101.91 581.55h0M104.76 574.26h0M108.43 572.26h0M108.4 574.54h0M101.75 575.35h0M104.57 580.81h0M106.92 575.44h0M106.94 577.12h0M104.06 577.38h0M103.84 574.79h0M101.01 578.81h0M108.03 578.65h0M106.95 574.48h0M101.59 582.72h0M102.29 581.72h0M98.43 581.93h0M104 574.15h0M104.04 575.78h0M102.95 581.95h0M100.17 583.25h0M103.72 579.96h0M116.66 571.22h0M109.38 576.94h0M120.81 567.55h0M117.34 569.07h0M114.74 569.4h0M120.46 566.18h0M118.95 569.59h0M112.36 576.07h0M115.68 573.62h0M112.26 573.12h0M113.6 574.21h0M114.21 567.25h0M116.04 568.77h0M121.66 565.32h0M121.05 565.19h0M119.22 567.21h0M121.66 566.14h0M113.14 570.73h0M110 574.95h0M120.93 569.63h0M114.06 573.22h0M116.75 566.34h0M112.93 571.7h0M109.2 576.98h0M114.2 570.18h0M120.11 563.86h0M115.35 572.67h0M119.39 564.75h0M119 566.79h0M116.92 570.6h0M116.16 571.32h0M117.87 565.38h0M112.7 570.19h0M110.11 577.3h0M111.23 575.23h0M114.39 572.33h0M120.46 570.39h0M119.95 569.71h0M112.68 572.79h0M114.53 570.63h0M109.22 573.88h0M109.34 577.4h0M112.43 572.56h0M118.19 572.02h0M109.19 575.6h0M111.75 571h0M119.27 564.21h0M121.5 562.19h0M111.89 572.4h0M110.47 573.54h0M117.81 567.9h0M121.44 567.73h0M114.26 567.41h0M119.08 570.64h0M113.89 569.02h0M109.57 571.34h0M120.32 566.12h0M110.33 573.57h0M110.78 569.75h0M112.02 576.17h0M114.61 573.34h0M119.91 570.13h0M110.34 575.16h0M114.47 570.96h0M121.18 567.72h0M120.07 570.29h0M115 567.07h0M119.56 566.67h0M109.93 569.02h0M113.43 570.44h0M110.08 577.26h0M114.13 568.69h0M118.53 569.59h0M112.09 572.18h0M114.52 573.32h0M110.43 577.23h0M109.93 571.53h0M121.1 564.11h0M117.43 569.82h0M112.35 572.91h0M113.97 568.37h0M121.18 567.69h0M112.35 570.47h0M120.67 562.63h0M121.41 563.99h0M119.48 568.25h0M117.73 571.38h0M121.62 568.61h0M118.66 565.83h0M120.11 568.67h0M115.07 574.2h0M120.09 566.91h0M110.62 575.25h0M113.78 572h0M112.73 574.4h0M115.53 568.17h0M114.85 571.55h0M113.73 567.34h0M118.59 566.82h0M109.55 571.94h0M114.38 569.53h0M114.84 574.1h0M115.84 568.25h0M110.99 572.53h0M112.27 576.13h0M109.42 575.64h0M111.99 575.51h0M113.04 569.46h0M115.41 570.03h0M120.43 569.4h0M120.3 565.85h0M118.08 564.8h0M110.85 574.59h0M115.73 570.21h0M121.5 568.69h0M112.29 570.02h0M119.01 569.76h0M109.48 574.64h0M116.04 566.76h0M116.19 569.79h0M118.85 566.93h0M116.87 572.97h0M117.9 569.57h0M115.78 570.08h0M118.86 570.93h0M120.06 570.24h0M119.36 564.77h0M109.26 574.29h0M119.38 569.56h0M110.78 569.16h0M111.64 568.01h0M113.19 567.61h0M115.96 573.36h0M111.79 572.05h0M108.94 577.22h0M113.54 574.87h0M120.95 566.88h0M113.48 573.14h0M110.22 573.15h0M117.39 567.05h0M119.91 564.23h0M113.6 574.06h0M109.98 572.38h0M117.08 572.43h0M118.07 565.16h0M109.18 573.58h0M118.83 566.2h0M112.32 573.82h0M109.89 576.64h0M116.26 566.22h0M113.19 570.6h0M120.86 565.14h0M111.57 574.68h0M120.82 570.27h0M115.14 572.02h0M111.08 572.99h0M112.84 574.26h0M119.43 566.18h0M120.22 570.7h0M119.17 568.45h0M115.28 566.57h0M115.54 566.63h0M119.01 571.31h0M119.98 569.21h0M115.73 570.41h0M116.89 572.78h0M115.54 569.05h0M112.47 569.78h0M115.42 571.1h0M111.22 576.12h0M113.37 572.23h0M120.81 565.4h0M110.88 575.85h0M120.63 570.36h0M120.8 564.28h0M119.89 570.08h0M119.69 567.99h0M114.44 573.22h0M113.17 570.38h0M112.38 567.85h0M118.86 564.68h0M117.47 567.16h0M112.04 575.72h0M110.04 572.98h0M120.45 568.47h0M115.77 572.35h0M117.22 565.56h0M118.02 569.14h0M120.5 567.81h0M121.03 564.01h0M118.12 567.36h0M113.93 572.67h0M113.15 570.47h0M120.04 569.83h0M115.11 572.61h0M112.65 574.89h0M119.91 568.12h0M119.09 570.73h0M118.44 568.11h0M120.91 567.73h0M112.75 575.59h0M119 565.75h0M109.02 574.82h0M117.74 570.37h0M110.27 575.22h0M116.39 570.22h0M116.89 572.98h0M114.81 572h0M120.42 564.43h0M120.26 567.88h0M118.23 567.33h0M120.22 568.49h0M117.81 569.21h0M114.19 573.38h0M109.85 575.93h0M116.06 565.76h0M111.06 569.61h0M118.94 566.09h0M114.95 571.18h0M116.36 567.51h0M120.24 570.68h0M120.27 564.62h0M120.1 569.14h0M112.8 568.93h0M119.84 568.5h0M127.1 564.8h0M123.69 567.67h0M125.66 566.25h0M129.39 559.71h0M128.5 563.82h0M124.63 565.06h0M123.81 565.93h0M123.72 563.45h0M131.36 562.94h0M123.72 566.63h0M124.36 561.2h0M127.71 565.64h0M126.21 562.46h0M133.42 560.33h0M133.48 561.19h0M124.85 562.78h0M129.36 562.6h0M123.38 565.28h0M124.66 561.16h0M134.17 557.72h0M129.64 564.05h0M122.84 566.49h0M126.57 561.91h0M133.72 559.37h0M130.83 556.97h0M124.5 567.72h0M123.29 563.12h0M128.88 560.44h0M134.2 560.94h0M129.33 561.85h0M127.66 562.87h0M128.74 559.93h0M128.3 559.8h0M126.2 560.17h0M129.12 560.44h0M128.17 560.97h0M127.5 561.34h0M132.27 562.61h0M127.68 564.12h0M122.64 568.9h0M131.21 563.26h0M130.17 563.88h0M123.82 565.66h0M130.97 559.24h0M127.16 563.11h0M129.81 564.15h0M127.02 563.39h0M121.82 566.32h0M128.18 560.89h0M123.3 562.66h0M129.98 562.52h0M122.06 563.22h0M130 557.26h0M134.23 560.31h0M129.68 561.69h0M131.75 560.89h0M128.86 564.77h0M133.58 561.62h0M127.77 560.18h0M124.48 566.44h0M130.09 563.83h0M128.12 558.35h0M125.14 562.46h0M128.25 563.11h0M128.04 558.43h0M123.37 564.85h0M126.24 566.16h0M125.75 560.59h0M127.62 563.28h0M133.98 561.4h0M129.14 558.49h0M134.49 559.81h0M125.64 562.14h0M127.64 565.57h0M123.49 562.05h0M128.87 559.01h0M132 561.47h0M126.95 564.03h0M127.86 564.42h0M126.42 565.41h0M126.2 562.44h0M127.61 565.59h0M129.45 558.19h0M133.86 556.79h0M132.87 561.57h0M132.1 561.09h0M125.61 564.9h0M133.65 557.65h0M130.56 562.31h0M130.85 562.73h0M127.46 560.39h0M134.37 558.15h0M128.8 562.69h0M123.2 564.5h0M129.63 564.25h0M126.09 565.21h0M133.23 557.21h0M125.4 565.71h0M126.18 566.27h0M124.83 566.32h0M124.08 563.66h0M122.42 563.43h0M131.21 562.31h0M126.25 562.78h0M134.01 561.09h0M131.55 561.86h0M131.61 558.69h0M126.37 565.86h0M126.12 562.34h0M129.79 563.46h0M124.95 565.44h0M121.84 565.85h0M132.88 561.97h0M122.53 563.9h0M130.81 558.02h0M127.86 558.71h0M132.6 561.11h0M126.31 566.49h0M128.44 561.33h0M128.87 561.68h0M133.5 556.24h0M125.45 567.11h0M123.16 561.36h0M124.9 560.28h0M129.8 564.27h0M127.9 564.74h0M125.91 565.05h0M124.2 568.01h0M122.35 561.79h0M126.82 563.24h0M122.97 565.91h0M131.69 557.22h0M124.86 560.2h0M131.2 562.01h0M123.3 567.46h0M124.46 567.35h0M129.55 558.58h0M127.98 560.42h0M132.93 555.75h0M128.39 561.39h0M130.43 557.78h0M130.04 559.45h0M129 559.59h0M132.34 562.21h0M133.63 559.86h0M129.98 558.96h0M122.49 564.95h0M130.23 560.79h0M128.38 560.97h0M127.27 562.91h0M132.53 557.78h0M129.85 557.69h0M130.24 559.38h0M129.38 561.19h0M131.42 557.71h0M128.23 565.22h0M126.76 564.72h0M132.48 558.06h0M130.51 558.61h0M128.52 562.49h0M122.12 567.02h0M131.66 562.4h0M128.33 563.94h0M124.68 566.52h0M124.84 562.66h0M124.88 560.8h0M122.25 561.58h0M132.3 556.85h0M125.08 567.44h0M131.6 560.2h0M123.86 561.65h0M125.59 566.45h0M131.82 558.62h0M123.77 566.83h0M129.32 560.68h0M132.46 561.84h0M133.79 560.28h0M123.78 563.48h0M129.19 561.67h0M128.76 560.66h0M129.25 562.65h0M126.14 566.16h0M122.98 567.07h0M122.85 563.01h0M122.32 565.17h0M128.25 559.56h0M130.28 561.75h0M124.42 563.85h0M123.2 567.6h0M133 556.89h0M133.81 555.81h0M128.8 564.66h0M130.92 557.88h0M122.75 566.49h0M132.38 561.64h0M125.39 565.88h0M132.95 562.1h0M123.6 566.85h0M127.63 562.83h0M133.86 561.47h0M125.56 564.01h0M122.54 567.73h0M134.2 555.14h0M128.99 558.1h0M137.87 554.49h0M144.27 549.94h0M137.18 556.56h0M146.8 549.7h0M142.27 554.25h0M145.95 549.5h0M136.69 554.95h0M138.59 554.02h0M137.75 556h0M146.96 552.52h0M141.4 556.11h0M135.68 560.35h0M138.29 558.03h0M144.62 554.26h0M139.8 557.62h0M135.11 557.11h0M144.33 552.03h0M142.19 556.09h0M139.95 556.77h0M143.98 551.76h0M139.85 556.04h0M134.84 558.69h0M135.03 555.22h0M135.42 556.11h0M142.16 553.48h0M137.39 557.27h0M139.62 556.56h0M143.51 554.57h0M136.5 556.54h0M135.87 554.56h0M142.02 555.98h0M146.2 551.27h0M136.14 557.67h0M145.23 553.2h0M142.68 554.69h0M135.43 558.31h0M139.59 556.1h0M145.88 549.33h0M141.18 553.19h0M145.17 552.85h0M144.2 554.59h0M137.55 558.04h0M142.24 555.92h0M146.97 550.72h0M145.03 552.84h0M145.89 550.8h0M144.2 553.13h0M139.53 553.94h0M136.42 558.72h0M139.8 555.51h0M135.45 559.35h0M137.85 554.41h0M144.94 550.21h0M145.48 549.38h0M146.33 551.62h0M136.62 558.45h0M139.95 556.43h0M134.86 558.9h0M147.31 552.61h0M139.52 557.3h0M138.24 554.18h0M141.63 552.88h0M136.25 557.86h0M141.45 556.09h0M139.44 555.98h0M144.72 549.49h0M143.76 550.29h0M141.28 555.56h0M134.9 560.22h0M145.52 550.22h0M144.28 554.7h0M142.11 555.91h0M137.02 556.53h0M141.88 551.96h0M141.04 552.11h0M145.82 550.39h0M135.97 557.71h0M135.05 559.41h0M144.65 553.25h0M146.2 550.07h0M141.95 555.26h0M138.88 553.46h0M144.26 552.7h0M139.09 556.01h0M139.28 557.95h0M139.44 552.41h0M146.13 551.85h0M143.55 551.91h0M136.45 554.47h0M142.23 556.06h0M141.69 555.65h0M142.87 550.32h0M137.55 555.4h0M145.07 551.79h0M140.61 552.87h0M141.43 554.56h0M142.36 555.68h0M145.54 549.37h0M139.05 555.93h0M136.94 557.22h0M136.52 559.25h0M139.27 552.62h0M143.64 554.64h0M141.69 553.26h0M139.36 552.43h0M146.76 551.58h0M143.11 550.46h0M146.27 549.31h0M138.98 552.53h0M143.46 554.33h0M141.67 554.56h0M142.6 551.58h0M135.6 556.29h0M146.85 552.76h0M144.46 552.14h0M142.59 553.92h0M143.07 554.61h0M135 560.14h0M134.96 560.55h0M135.98 560.03h0M142.04 552.22h0M137.25 555.76h0M141.87 556.16h0M137.01 556.81h0M144.06 550.16h0M135.25 558.56h0M144.42 552.84h0M138.64 557.9h0M137.6 555.65h0M135.96 559.6h0M137.1 555.42h0M135.45 555.33h0M142.31 550.8h0M141.82 554.27h0M141.79 552.15h0M136.8 559.48h0M139.34 557.15h0M147.29 548.05h0M141.47 553.98h0M136.17 559.47h0M138.06 556.96h0M144.46 553.44h0M139.85 557.53h0M144.55 552.2h0M143.78 554.52h0M139.57 555.83h0M142.99 555.44h0M143.22 553.11h0M138.49 557.22h0M147.01 552.73h0M144.58 551.24h0M140.56 557h0M138.56 552.95h0M147.05 552.65h0M143.29 550.18h0M136.23 554.15h0M142.36 555.57h0M150.41 548.55h0M148.72 551.04h0M156 546.4h0M155.39 544.33h0M156.87 546.1h0M150.54 549.49h0M152.07 549.45h0M152.82 548.71h0M156.48 544.77h0M150.63 548.34h0M149.35 547.52h0M152.38 548.04h0M152.68 548.47h0M150.14 546.89h0M155.82 545.45h0M147.77 550.02h0M156.47 546.43h0M150.74 546.42h0M157 545.52h0M147.59 551.61h0M150.76 549.99h0M152.79 546.96h0M155.44 545h0M154.31 547.79h0M151.16 548.77h0M154.26 547.97h0M153.3 546.77h0M153.56 545.48h0M155.46 547.11h0M156.82 545.73h0M150.22 549.27h0M156.69 545.72h0M149.64 550.27h0M147.51 551.62h0M150.87 546.97h0M155.7 546.86h0M152.8 546.27h0M147.91 551.95h0M153.51 547.62h0M156.33 545.35h0M156.65 545.1h0M154.19 548h0M153.34 547.68h0M151.69 548.88h0M155.31 546.54h0M151.75 547h0M152.68 548.11h0M153.3 548.61h0M153.35 548.59h0M154.65 547.29h0M148.64 549.84h0M154 545.32h0M155.68 546.81h0M149.84 549.19h0M156.84 545.29h0M154.22 547.21h0M154.82 547.57h0M150.63 548.35h0M155.13 546.28h0M149.33 549.29h0M157.6 544.58h0M153.65 545.65h0M155.15 544.82h0M154.12 546.54h0M156.54 544.45h0M153.13 548.46h0M149.03 550.39h0M157.65 543.44h0M154.21 546.28h0M150.67 550.19h0M148.24 549.55h0M151.55 549.77h0M153.86 547.22h0M155.59 544.68h0M147.43 552.65h0M152.5 548.9h0M152.13 546.24h0M150.72 550.09h0M154.58 547.53h0M157.46 543.67h0M155.86 545.53h0M150.37 547.55h0M148.72 549.35h0M148.62 551.83h0M157.2 543.25h0M157.58 544.95h0M150.75 547.76h0M150.64 547.16h0M156.85 545.93h0M147.78 551.45h0M151.29 547.16h0M152.38 548.23h0M165.06 541.03h0M158.28 545.23h0M157.73 543.32h0M163.15 540.11h0M159.34 542.42h0M158.9 543.82h0M164.94 540.28h0M158.06 544.29h0M160.83 542.68h0M159.16 544.25h0M163.23 542.1h0M158.16 542.8h0M160.7 543.26h0M160.56 542.61h0M157.96 544.19h0M165.41 540.02h0M164.94 539.15h0M160.9 543.04h0M157.98 544.36h0M164.44 539.29h0M162.64 542.48h0M163.01 542.22h0M160.84 542.2h0M162.44 541.35h0M161.07 542.43h0M163.5 540.09h0M159.02 544.14h0M162.98 542.32h0M160.58 543.29h0M164.9 540.65h0M161.24 541.5h0M158.79 543.64h0M157.95 545.3h0M164.45 541.27h0M165.85 540.28h0M172.38 536.74h0M172.02 536.66h0M166.97 539.65h0M171.2 536.51h0M168.63 538.79h0M165.49 539.94h0M171.89 537.03h0M167.34 539.04h0M170.46 537.91h0M166.35 538.94h0M169.47 536.51h0M167.01 539.38h0M168.26 537.93h0M166.85 538.94h0M167.06 539.43h0M168.35 537.78h0M171.35 536.49h0M167.56 539.37h0M168.49 537.45h0M172.74 534.99h0M171.53 536.93h0M165.63 539.91h0M169.4 538.38h0M171.5 536.43h0M175.3 533.85h0M180.81 530.33h0M176.13 532.98h0M182.84 529.73h0M180.83 531.11h0M178.83 531.72h0M183.9 528.58h0M177.69 533.21h0M181.35 530.17h0M182.47 529.28h0M182.46 529.08h0M180.74 531.21h0M177.32 533.49h0M182.91 529.15h0M173.33 535.27h0M180.49 531.24h0M183.4 529.38h0M182.82 529.75h0M181.14 530.7h0M176.94 532.76h0M179.18 530.98h0M174.86 534.53h0M176.56 532.77h0M182.81 529.61h0M176.41 534.05h0M174.35 534.69h0M185.44 528.04h0M180.11 531.47h0M181.9 529.73h0M184.5 528.32h0M185.08 528.42h0M183.22 529.63h0M179.16 532.35h0M181.85 530.32h0M178.32 531.55h0M178.79 532.2h0M188.93 525.94h0M187.27 526.41h0M191.15 524.55h0M195.09 522.01h0M188.4 526h0M194.8 521.89h0M188.2 526.25h0M189.88 525.27h0" stroke="#ff7f0e" stroke-width="0.75" stroke-linecap="round" fill="none" opacity="0.9"/>
<path d="M93.15 598.05h0M79.96 607.31h0M69.82 615.48h0M90.68 603.43h0M89.5 602.19h0M92.13 600.75h0M58.91 624.99h0M60.42 622.15h0M90.33 602.01h0M57.69 624h0M59.03 625.71h0M103.55 589.94h0M86.68 606.12h0M90.45 601.8h0M93.04 597.68h0M100.6 594.15h0M94.08 600.4h0M74.69 615.09h0M65.49 622.02h0M59.74 623.96h0M58.82 624.17h0M100.51 594.63h0M67.45 620.26h0M85.29 604.2h0M62.44 620.59h0M78.35 609.37h0M69.04 615.91h0M68.86 618.57h0M70.43 618.75h0M78.35 609.8h0M71.86 617.4h0M65.79 618.51h0M80.71 608.75h0M69.37 618.17h0M73.87 614.64h0M65.56 619.66h0M95.59 596.97h0M94.03 598.2h0M71.29 616.9h0M94.59 600.39h0M60.6 624.11h0M96.2 598.66h0M76.19 614.27h0M64.46 620.53h0M73.06 616.58h0M85.2 606.08h0M89.3 600.4h0M66.53 618.39h0M80.7 607.24h0M76.64 610.48h0M80.31 610.26h0M65.71 620.26h0M74.62 612.43h0M58.46 623.58h0M95.72 599.98h0M63.73 622.42h0M68.09 616.45h0M72.55 616.46h0M72.5 613.2h0M86.49 605.95h0" stroke="#ff7f0e" stroke-width="0.8" stroke-linecap="round" fill="none"/>
<line x1="31.55" y1="643.25" x2="211.8" y2="509.2" stroke="#ee1414" stroke-width="0.95" stroke-linecap="butt"/>
</g>
<line x1="22.38" y1="502.9" x2="220.78" y2="502.9" stroke="#6a6a6a" stroke-width="0.8"/>
<line x1="22.38" y1="650.2" x2="220.78" y2="650.2" stroke="#bababa" stroke-width="1.25"/>
<line x1="23" y1="502.9" x2="23" y2="650.2" stroke="#bababa" stroke-width="1.25"/>
<line x1="220.4" y1="502.9" x2="220.4" y2="650.2" stroke="#5a5a5a" stroke-width="0.75"/>
<line x1="31.55" y1="650.2" x2="31.55" y2="652.1" stroke="#222222" stroke-width="0.75"/>
<text x="31.55" y="658.8" font-size="5.4" fill="#2a2a2a" text-anchor="middle" textLength="7.37" lengthAdjust="spacingAndGlyphs" stroke="#2a2a2a" stroke-width="0.09">−5</text>
<line x1="21.1" y1="643.25" x2="23" y2="643.25" stroke="#222222" stroke-width="0.75"/>
<text x="18.4" y="645.45" font-size="5.4" fill="#2a2a2a" text-anchor="end" textLength="7.37" lengthAdjust="spacingAndGlyphs" stroke="#2a2a2a" stroke-width="0.09">−5</text>
<line x1="57.3" y1="650.2" x2="57.3" y2="652.1" stroke="#222222" stroke-width="0.75"/>
<text x="57.3" y="658.8" font-size="5.4" fill="#2a2a2a" text-anchor="middle" textLength="3.18" lengthAdjust="spacingAndGlyphs" stroke="#2a2a2a" stroke-width="0.09">0</text>
<line x1="21.1" y1="624.1" x2="23" y2="624.1" stroke="#222222" stroke-width="0.75"/>
<text x="18.4" y="626.3" font-size="5.4" fill="#2a2a2a" text-anchor="end" textLength="3.18" lengthAdjust="spacingAndGlyphs" stroke="#2a2a2a" stroke-width="0.09">0</text>
<line x1="83.05" y1="650.2" x2="83.05" y2="652.1" stroke="#222222" stroke-width="0.75"/>
<text x="83.05" y="658.8" font-size="5.4" fill="#2a2a2a" text-anchor="middle" textLength="3.18" lengthAdjust="spacingAndGlyphs" stroke="#2a2a2a" stroke-width="0.09">5</text>
<line x1="21.1" y1="604.95" x2="23" y2="604.95" stroke="#222222" stroke-width="0.75"/>
<text x="18.4" y="607.15" font-size="5.4" fill="#2a2a2a" text-anchor="end" textLength="3.18" lengthAdjust="spacingAndGlyphs" stroke="#2a2a2a" stroke-width="0.09">5</text>
<line x1="108.8" y1="650.2" x2="108.8" y2="652.1" stroke="#222222" stroke-width="0.75"/>
<text x="108.8" y="658.8" font-size="5.4" fill="#2a2a2a" text-anchor="middle" textLength="6.36" lengthAdjust="spacingAndGlyphs" stroke="#2a2a2a" stroke-width="0.09">10</text>
<line x1="21.1" y1="585.8" x2="23" y2="585.8" stroke="#222222" stroke-width="0.75"/>
<text x="18.4" y="588" font-size="5.4" fill="#2a2a2a" text-anchor="end" textLength="6.36" lengthAdjust="spacingAndGlyphs" stroke="#2a2a2a" stroke-width="0.09">10</text>
<line x1="134.55" y1="650.2" x2="134.55" y2="652.1" stroke="#222222" stroke-width="0.75"/>
<text x="134.55" y="658.8" font-size="5.4" fill="#2a2a2a" text-anchor="middle" textLength="6.36" lengthAdjust="spacingAndGlyphs" stroke="#2a2a2a" stroke-width="0.09">15</text>
<line x1="21.1" y1="566.65" x2="23" y2="566.65" stroke="#222222" stroke-width="0.75"/>
<text x="18.4" y="568.85" font-size="5.4" fill="#2a2a2a" text-anchor="end" textLength="6.36" lengthAdjust="spacingAndGlyphs" stroke="#2a2a2a" stroke-width="0.09">15</text>
<line x1="160.3" y1="650.2" x2="160.3" y2="652.1" stroke="#222222" stroke-width="0.75"/>
<text x="160.3" y="658.8" font-size="5.4" fill="#2a2a2a" text-anchor="middle" textLength="6.36" lengthAdjust="spacingAndGlyphs" stroke="#2a2a2a" stroke-width="0.09">20</text>
<line x1="21.1" y1="547.5" x2="23" y2="547.5" stroke="#222222" stroke-width="0.75"/>
<text x="18.4" y="549.7" font-size="5.4" fill="#2a2a2a" text-anchor="end" textLength="6.36" lengthAdjust="spacingAndGlyphs" stroke="#2a2a2a" stroke-width="0.09">20</text>
<line x1="186.05" y1="650.2" x2="186.05" y2="652.1" stroke="#222222" stroke-width="0.75"/>
<text x="186.05" y="658.8" font-size="5.4" fill="#2a2a2a" text-anchor="middle" textLength="6.36" lengthAdjust="spacingAndGlyphs" stroke="#2a2a2a" stroke-width="0.09">25</text>
<line x1="21.1" y1="528.35" x2="23" y2="528.35" stroke="#222222" stroke-width="0.75"/>
<text x="18.4" y="530.55" font-size="5.4" fill="#2a2a2a" text-anchor="end" textLength="6.36" lengthAdjust="spacingAndGlyphs" stroke="#2a2a2a" stroke-width="0.09">25</text>
<line x1="211.8" y1="650.2" x2="211.8" y2="652.1" stroke="#222222" stroke-width="0.75"/>
<text x="211.8" y="658.8" font-size="5.4" fill="#2a2a2a" text-anchor="middle" textLength="6.36" lengthAdjust="spacingAndGlyphs" stroke="#2a2a2a" stroke-width="0.09">30</text>
<line x1="21.1" y1="509.2" x2="23" y2="509.2" stroke="#222222" stroke-width="0.75"/>
<text x="18.4" y="511.4" font-size="5.4" fill="#2a2a2a" text-anchor="end" textLength="6.36" lengthAdjust="spacingAndGlyphs" stroke="#2a2a2a" stroke-width="0.09">30</text>
<text x="121.7" y="666.4" font-size="5.89" fill="#2a2a2a" text-anchor="middle" textLength="13.42" lengthAdjust="spacingAndGlyphs" stroke="#2a2a2a" stroke-width="0.09">truth</text>
<text x="7.4" y="577.55" font-size="5.89" fill="#2a2a2a" text-anchor="middle" textLength="30.18" lengthAdjust="spacingAndGlyphs" stroke="#2a2a2a" stroke-width="0.09" transform="rotate(-90 7.4 577.55)">predictions</text>
<text x="121.7" y="499.4" font-size="7.13" fill="#2a2a2a" text-anchor="middle" textLength="119.1" lengthAdjust="spacingAndGlyphs" stroke="#2a2a2a" stroke-width="0.09">X Velocity R2:0.9892431841150662</text>
<rect x="25.3" y="505.4" width="47.6" height="18.3" rx="1.2" fill="#ffffff" fill-opacity="0.8" stroke="#d0d0d0" stroke-width="0.5"/>
<circle cx="33.6" cy="510.5" r="0.55" fill="#1f77b4"/>
<circle cx="33.6" cy="518.9" r="0.55" fill="#ff7f0e"/>
<text x="43.1" y="512.4" font-size="5.89" fill="#2a2a2a" textLength="26.69" lengthAdjust="spacingAndGlyphs" stroke="#2a2a2a" stroke-width="0.09">train data</text>
<text x="43.1" y="520.8" font-size="5.89" fill="#2a2a2a" textLength="24.47" lengthAdjust="spacingAndGlyphs" stroke="#2a2a2a" stroke-width="0.09">test data</text>
</g>
<g id="contour1" transform="translate(0 -0.4)">
<clipPath id="cc1"><rect x="263.7" y="13.3" width="70.3" height="152"/></clipPath>
<rect x="263.7" y="13.3" width="70.3" height="152" fill="#2db27d"/>
<g clip-path="url(#cc1)">
<path d="M278.2 30.1L308.1 27.2L315.3 100C315.52 103.58 316.33 116.92 316.6 121.5C316.87 126.08 316.98 125.92 316.9 127.5C316.82 129.08 316.63 130.03 316.1 131C315.57 131.97 314.48 133 313.7 133.3C312.92 133.6 312.22 132.75 311.4 132.8C310.58 132.85 309.23 133.47 308.8 133.6C308.65 134.92 308.28 139.02 307.9 141.5C307.52 143.98 307.12 145.97 306.5 148.5C305.88 151.03 305.03 154.45 304.2 156.7C303.37 158.95 302.37 160.73 301.5 162C300.63 163.27 299.42 163.92 299 164.3L283.2 164.3C282.72 163.58 280.88 162.38 280.3 160C279.72 157.62 279.87 158.33 279.7 150C279.53 141.67 279.55 129.98 279.3 110C279.05 90.02 278.38 43.42 278.2 30.1Z" fill="#73d056"/>
<path d="M291.8 128.1C292.63 127.87 293.57 130.55 294.3 132.6C295.03 134.65 295.67 137.35 296.2 140.4C296.73 143.45 297.2 147.83 297.5 150.9C297.8 153.97 298.1 156.82 298 158.8C297.9 160.78 297.65 161.95 296.9 162.8C296.15 163.65 294.85 163.72 293.5 163.9C292.15 164.08 290.07 164.08 288.8 163.9C287.53 163.72 286.53 163.65 285.9 162.8C285.27 161.95 285.05 160.6 285 158.8C284.95 157 285.25 154.55 285.6 152C285.95 149.45 286.48 146.5 287.1 143.5C287.72 140.5 288.52 136.57 289.3 134C290.08 131.43 290.97 128.33 291.8 128.1Z" fill="#d0e11c"/>
<path d="M309 138C310.17 138.88 313.27 141.73 316 143.3C318.73 144.87 322.4 146.43 325.4 147.4C328.4 148.37 332.57 148.82 334 149.1L334 165.3L300.4 165.3C301.13 164 303.67 160.13 304.8 157.5C305.93 154.87 306.6 151.92 307.2 149.5C307.8 147.08 308.1 144.92 308.4 143C308.7 141.08 308.9 138.83 309 138Z" fill="#21918c"/>
<path d="M308.9 141.5C309.9 142.28 312.55 144.45 314.9 146.2C317.25 147.95 320.48 150.25 323 152C325.52 153.75 328.17 155.53 330 156.7C331.83 157.87 333.33 158.62 334 159L334 165.3L300.8 165.3C301.52 164.03 304 160.17 305.1 157.7C306.2 155.23 306.83 152.62 307.4 150.5C307.97 148.38 308.25 146.5 308.5 145C308.75 143.5 308.83 142.08 308.9 141.5Z" fill="#2e6e8e"/>
<path d="M308.8 145C309.43 145.78 311 147.75 312.6 149.7C314.2 151.65 316.67 154.47 318.4 156.7C320.13 158.93 322.03 161.67 323 163.1C323.97 164.53 324 164.93 324.2 165.3L301.2 165.3C301.9 164.08 304.33 160.3 305.4 158C306.47 155.7 307.03 153.67 307.6 151.5C308.17 149.33 308.6 146.08 308.8 145Z" fill="#3f4788"/>
<path d="M309.1 152C309.68 152.5 311.43 153.63 312.6 155C313.77 156.37 315.13 158.48 316.1 160.2C317.07 161.92 318.02 164.45 318.4 165.3L301.8 165.3C302.47 164.22 304.58 161.02 305.8 158.8C307.02 156.58 308.55 153.13 309.1 152Z" fill="#481b6d"/>
<path d="M277.5 155.5C277.6 156.33 277.85 158.87 278.1 160.5C278.35 162.13 278.85 164.5 279 165.3L275.2 165.3C275.47 164.67 276.42 163.13 276.8 161.5C277.18 159.87 277.38 156.5 277.5 155.5Z" fill="#21918c"/>
<polygon points="277.5,161.5 278.4,165.3 276.4,165.3" fill="#3f4788"/>
</g>
<rect x="263.7" y="13.3" width="70.3" height="152" fill="none" stroke="#333333" stroke-width="0.7"/>
<line x1="275.5" y1="165.3" x2="275.5" y2="167.2" stroke="#222222" stroke-width="0.75"/>
<text x="275.5" y="174.5" font-size="5.89" fill="#2a2a2a" text-anchor="middle" textLength="8.67" lengthAdjust="spacingAndGlyphs" stroke="#2a2a2a" stroke-width="0.09">0.0</text>
<line x1="298.7" y1="165.3" x2="298.7" y2="167.2" stroke="#222222" stroke-width="0.75"/>
<text x="298.7" y="174.5" font-size="5.89" fill="#2a2a2a" text-anchor="middle" textLength="8.67" lengthAdjust="spacingAndGlyphs" stroke="#2a2a2a" stroke-width="0.09">0.2</text>
<line x1="321.6" y1="165.3" x2="321.6" y2="167.2" stroke="#222222" stroke-width="0.75"/>
<text x="321.6" y="174.5" font-size="5.89" fill="#2a2a2a" text-anchor="middle" textLength="8.67" lengthAdjust="spacingAndGlyphs" stroke="#2a2a2a" stroke-width="0.09">0.4</text>
<line x1="261.8" y1="144.8" x2="263.7" y2="144.8" stroke="#222222" stroke-width="0.75"/>
<text x="259.7" y="147.55" font-size="5.89" fill="#2a2a2a" text-anchor="end" textLength="12.13" lengthAdjust="spacingAndGlyphs" stroke="#2a2a2a" stroke-width="0.09">0.02</text>
<line x1="261.8" y1="123.8" x2="263.7" y2="123.8" stroke="#222222" stroke-width="0.75"/>
<text x="259.7" y="126.55" font-size="5.89" fill="#2a2a2a" text-anchor="end" textLength="12.13" lengthAdjust="spacingAndGlyphs" stroke="#2a2a2a" stroke-width="0.09">0.04</text>
<line x1="261.8" y1="102.8" x2="263.7" y2="102.8" stroke="#222222" stroke-width="0.75"/>
<text x="259.7" y="105.55" font-size="5.89" fill="#2a2a2a" text-anchor="end" textLength="12.13" lengthAdjust="spacingAndGlyphs" stroke="#2a2a2a" stroke-width="0.09">0.06</text>
<line x1="261.8" y1="81.8" x2="263.7" y2="81.8" stroke="#222222" stroke-width="0.75"/>
<text x="259.7" y="84.55" font-size="5.89" fill="#2a2a2a" text-anchor="end" textLength="12.13" lengthAdjust="spacingAndGlyphs" stroke="#2a2a2a" stroke-width="0.09">0.08</text>
<line x1="261.8" y1="60.8" x2="263.7" y2="60.8" stroke="#222222" stroke-width="0.75"/>
<text x="259.7" y="63.55" font-size="5.89" fill="#2a2a2a" text-anchor="end" textLength="12.13" lengthAdjust="spacingAndGlyphs" stroke="#2a2a2a" stroke-width="0.09">0.10</text>
<line x1="261.8" y1="39.8" x2="263.7" y2="39.8" stroke="#222222" stroke-width="0.75"/>
<text x="259.7" y="42.55" font-size="5.89" fill="#2a2a2a" text-anchor="end" textLength="12.13" lengthAdjust="spacingAndGlyphs" stroke="#2a2a2a" stroke-width="0.09">0.12</text>
<line x1="261.8" y1="18.8" x2="263.7" y2="18.8" stroke="#222222" stroke-width="0.75"/>
<text x="259.7" y="21.55" font-size="5.89" fill="#2a2a2a" text-anchor="end" textLength="12.13" lengthAdjust="spacingAndGlyphs" stroke="#2a2a2a" stroke-width="0.09">0.14</text>
<text x="298.85" y="9.3" font-size="7.18" fill="#2a2a2a" text-anchor="middle" textLength="16.38" lengthAdjust="spacingAndGlyphs" stroke="#2a2a2a" stroke-width="0.09">truth</text>
<rect x="246.4" y="12.9" width="8.6" height="152.8" fill="#ffffff"/>
<rect x="247" y="143.44" width="7.7" height="22.01" fill="#481b6d"/>
<rect x="247" y="121.72" width="7.7" height="22.01" fill="#3f4788"/>
<rect x="247" y="100.01" width="7.7" height="22.01" fill="#2e6e8e"/>
<rect x="247" y="78.29" width="7.7" height="22.01" fill="#21918c"/>
<rect x="247" y="56.58" width="7.7" height="22.01" fill="#2db27d"/>
<rect x="247" y="34.86" width="7.7" height="22.01" fill="#73d056"/>
<rect x="247" y="13.15" width="7.7" height="22.01" fill="#d0e11c"/>
<rect x="247" y="13.3" width="7.7" height="152" fill="none" stroke="#333333" stroke-width="0.5"/>
<line x1="245.1" y1="165.3" x2="247" y2="165.3" stroke="#222222" stroke-width="0.75"/>
<text x="242.6" y="168.05" font-size="5.89" fill="#2a2a2a" text-anchor="end" textLength="8.03" lengthAdjust="spacingAndGlyphs" stroke="#2a2a2a" stroke-width="0.09">−4</text>
<line x1="245.1" y1="143.59" x2="247" y2="143.59" stroke="#222222" stroke-width="0.75"/>
<text x="242.6" y="146.34" font-size="5.89" fill="#2a2a2a" text-anchor="end" textLength="3.47" lengthAdjust="spacingAndGlyphs" stroke="#2a2a2a" stroke-width="0.09">0</text>
<line x1="245.1" y1="121.87" x2="247" y2="121.87" stroke="#222222" stroke-width="0.75"/>
<text x="242.6" y="124.62" font-size="5.89" fill="#2a2a2a" text-anchor="end" textLength="3.47" lengthAdjust="spacingAndGlyphs" stroke="#2a2a2a" stroke-width="0.09">4</text>
<line x1="245.1" y1="100.16" x2="247" y2="100.16" stroke="#222222" stroke-width="0.75"/>
<text x="242.6" y="102.91" font-size="5.89" fill="#2a2a2a" text-anchor="end" textLength="3.47" lengthAdjust="spacingAndGlyphs" stroke="#2a2a2a" stroke-width="0.09">8</text>
<line x1="245.1" y1="78.44" x2="247" y2="78.44" stroke="#222222" stroke-width="0.75"/>
<text x="242.6" y="81.19" font-size="5.89" fill="#2a2a2a" text-anchor="end" textLength="6.93" lengthAdjust="spacingAndGlyphs" stroke="#2a2a2a" stroke-width="0.09">12</text>
<line x1="245.1" y1="56.73" x2="247" y2="56.73" stroke="#222222" stroke-width="0.75"/>
<text x="242.6" y="59.48" font-size="5.89" fill="#2a2a2a" text-anchor="end" textLength="6.93" lengthAdjust="spacingAndGlyphs" stroke="#2a2a2a" stroke-width="0.09">16</text>
<line x1="245.1" y1="35.01" x2="247" y2="35.01" stroke="#222222" stroke-width="0.75"/>
<text x="242.6" y="37.76" font-size="5.89" fill="#2a2a2a" text-anchor="end" textLength="6.93" lengthAdjust="spacingAndGlyphs" stroke="#2a2a2a" stroke-width="0.09">20</text>
<line x1="245.1" y1="13.3" x2="247" y2="13.3" stroke="#222222" stroke-width="0.75"/>
<text x="242.6" y="16.05" font-size="5.89" fill="#2a2a2a" text-anchor="end" textLength="6.93" lengthAdjust="spacingAndGlyphs" stroke="#2a2a2a" stroke-width="0.09">24</text>
<clipPath id="cc2"><rect x="352.3" y="13.3" width="74.8" height="152"/></clipPath>
<rect x="352.3" y="13.3" width="74.8" height="152" fill="#2db27d"/>
<g clip-path="url(#cc2)">
<path d="M368 32.8L398.7 31.2C398.98 36 399.38 48.53 400.4 60C401.42 71.47 403.92 89.17 404.8 100C405.68 110.83 405.6 119.83 405.7 125C405.8 130.17 405.68 129.57 405.4 131C405.12 132.43 404.53 133.23 404 133.6C403.47 133.97 402.7 133 402.2 133.2C401.7 133.4 401.2 134.53 401 134.8C400.87 135.67 400.73 137.53 400.2 140C399.67 142.47 398.78 146.55 397.8 149.6C396.82 152.65 395.27 156.17 394.3 158.3C393.33 160.43 392.72 161.42 392 162.4C391.28 163.38 390.33 163.9 390 164.2L373 164.2C372.72 163.58 371.72 162.87 371.3 160.5C370.88 158.13 370.78 155.08 370.5 150C370.22 144.92 369.95 139.17 369.6 130C369.25 120.83 368.73 106.67 368.4 95C368.07 83.33 367.67 70.37 367.6 60C367.53 49.63 367.93 37.33 368 32.8Z" fill="#73d056"/>
<path d="M382.4 131.2C383.25 131.2 384.17 133.7 384.9 136C385.63 138.3 386.25 142 386.8 145C387.35 148 387.87 151.53 388.2 154C388.53 156.47 388.87 158.33 388.8 159.8C388.73 161.27 388.5 162.13 387.8 162.8C387.1 163.47 386 163.63 384.6 163.8C383.2 163.97 380.8 163.97 379.4 163.8C378 163.63 376.88 163.47 376.2 162.8C375.52 162.13 375.32 161.27 375.3 159.8C375.28 158.33 375.72 156.47 376.1 154C376.48 151.53 376.98 148 377.6 145C378.22 142 379 138.3 379.8 136C380.6 133.7 381.55 131.2 382.4 131.2Z" fill="#d0e11c"/>
<path d="M400.4 140C401.5 140.83 404.23 143.58 407 145C409.77 146.42 413.65 147.73 417 148.5C420.35 149.27 425.42 149.42 427.1 149.6L427.1 165.3L391.6 165.3C392.33 164 394.83 160.12 396 157.5C397.17 154.88 397.95 151.85 398.6 149.6C399.25 147.35 399.6 145.6 399.9 144C400.2 142.4 400.32 140.67 400.4 140Z" fill="#21918c"/>
<path d="M400.4 142.5C401.33 143.33 403.4 145.5 406 147.5C408.6 149.5 412.48 152.42 416 154.5C419.52 156.58 425.25 159.08 427.1 160L427.1 165.3L392.1 165.3C392.82 164.03 395.27 160.17 396.4 157.7C397.53 155.23 398.3 152.45 398.9 150.5C399.5 148.55 399.75 147.33 400 146C400.25 144.67 400.33 143.08 400.4 142.5Z" fill="#2e6e8e"/>
<path d="M400.4 146C401.17 146.92 403.07 149.25 405 151.5C406.93 153.75 410 157.2 412 159.5C414 161.8 416.17 164.33 417 165.3L392.6 165.3C393.3 164.08 395.7 160.3 396.8 158C397.9 155.7 398.6 153.5 399.2 151.5C399.8 149.5 400.2 146.92 400.4 146Z" fill="#3f4788"/>
<path d="M400.4 153.4C401 154 402.9 155.73 404 157C405.1 158.27 406.13 159.62 407 161C407.87 162.38 408.83 164.58 409.2 165.3L393.4 165.3C394.03 164.28 396.03 161.18 397.2 159.2C398.37 157.22 399.87 154.37 400.4 153.4Z" fill="#481b6d"/>
<path d="M367.2 155.2C367.32 156.08 367.62 158.82 367.9 160.5C368.18 162.18 368.73 164.5 368.9 165.3L364.3 165.3C364.65 164.67 365.92 163.18 366.4 161.5C366.88 159.82 367.07 156.25 367.2 155.2Z" fill="#21918c"/>
<polygon points="367.2,161.5 368.2,165.3 366,165.3" fill="#3f4788"/>
</g>
<rect x="352.3" y="13.3" width="74.8" height="152" fill="none" stroke="#333333" stroke-width="0.7"/>
<line x1="364.7" y1="165.3" x2="364.7" y2="167.2" stroke="#222222" stroke-width="0.75"/>
<text x="364.7" y="174.5" font-size="5.89" fill="#2a2a2a" text-anchor="middle" textLength="8.67" lengthAdjust="spacingAndGlyphs" stroke="#2a2a2a" stroke-width="0.09">0.0</text>
<line x1="389.1" y1="165.3" x2="389.1" y2="167.2" stroke="#222222" stroke-width="0.75"/>
<text x="389.1" y="174.5" font-size="5.89" fill="#2a2a2a" text-anchor="middle" textLength="8.67" lengthAdjust="spacingAndGlyphs" stroke="#2a2a2a" stroke-width="0.09">0.2</text>
<line x1="413.6" y1="165.3" x2="413.6" y2="167.2" stroke="#222222" stroke-width="0.75"/>
<text x="413.6" y="174.5" font-size="5.89" fill="#2a2a2a" text-anchor="middle" textLength="8.67" lengthAdjust="spacingAndGlyphs" stroke="#2a2a2a" stroke-width="0.09">0.4</text>
<line x1="350.4" y1="144.8" x2="352.3" y2="144.8" stroke="#222222" stroke-width="0.75"/>
<text x="348.3" y="147.55" font-size="5.89" fill="#2a2a2a" text-anchor="end" textLength="12.13" lengthAdjust="spacingAndGlyphs" stroke="#2a2a2a" stroke-width="0.09">0.02</text>
<line x1="350.4" y1="123.8" x2="352.3" y2="123.8" stroke="#222222" stroke-width="0.75"/>
<text x="348.3" y="126.55" font-size="5.89" fill="#2a2a2a" text-anchor="end" textLength="12.13" lengthAdjust="spacingAndGlyphs" stroke="#2a2a2a" stroke-width="0.09">0.04</text>
<line x1="350.4" y1="102.8" x2="352.3" y2="102.8" stroke="#222222" stroke-width="0.75"/>
<text x="348.3" y="105.55" font-size="5.89" fill="#2a2a2a" text-anchor="end" textLength="12.13" lengthAdjust="spacingAndGlyphs" stroke="#2a2a2a" stroke-width="0.09">0.06</text>
<line x1="350.4" y1="81.8" x2="352.3" y2="81.8" stroke="#222222" stroke-width="0.75"/>
<text x="348.3" y="84.55" font-size="5.89" fill="#2a2a2a" text-anchor="end" textLength="12.13" lengthAdjust="spacingAndGlyphs" stroke="#2a2a2a" stroke-width="0.09">0.08</text>
<line x1="350.4" y1="60.8" x2="352.3" y2="60.8" stroke="#222222" stroke-width="0.75"/>
<text x="348.3" y="63.55" font-size="5.89" fill="#2a2a2a" text-anchor="end" textLength="12.13" lengthAdjust="spacingAndGlyphs" stroke="#2a2a2a" stroke-width="0.09">0.10</text>
<line x1="350.4" y1="39.8" x2="352.3" y2="39.8" stroke="#222222" stroke-width="0.75"/>
<text x="348.3" y="42.55" font-size="5.89" fill="#2a2a2a" text-anchor="end" textLength="12.13" lengthAdjust="spacingAndGlyphs" stroke="#2a2a2a" stroke-width="0.09">0.12</text>
<line x1="350.4" y1="18.8" x2="352.3" y2="18.8" stroke="#222222" stroke-width="0.75"/>
<text x="348.3" y="21.55" font-size="5.89" fill="#2a2a2a" text-anchor="end" textLength="12.13" lengthAdjust="spacingAndGlyphs" stroke="#2a2a2a" stroke-width="0.09">0.14</text>
<text x="389.7" y="9.3" font-size="7.18" fill="#2a2a2a" text-anchor="middle" textLength="33.36" lengthAdjust="spacingAndGlyphs" stroke="#2a2a2a" stroke-width="0.09">prediction</text>
<rect x="431.1" y="143.44" width="8.2" height="22.01" fill="#481b6d"/>
<rect x="431.1" y="121.72" width="8.2" height="22.01" fill="#3f4788"/>
<rect x="431.1" y="100.01" width="8.2" height="22.01" fill="#2e6e8e"/>
<rect x="431.1" y="78.29" width="8.2" height="22.01" fill="#21918c"/>
<rect x="431.1" y="56.58" width="8.2" height="22.01" fill="#2db27d"/>
<rect x="431.1" y="34.86" width="8.2" height="22.01" fill="#73d056"/>
<rect x="431.1" y="13.15" width="8.2" height="22.01" fill="#d0e11c"/>
<rect x="431.1" y="13.3" width="8.2" height="152" fill="none" stroke="#333333" stroke-width="0.5"/>
<line x1="439.3" y1="165.3" x2="441.2" y2="165.3" stroke="#222222" stroke-width="0.75"/>
<text x="443.2" y="168.05" font-size="5.89" fill="#2a2a2a" textLength="8.03" lengthAdjust="spacingAndGlyphs" stroke="#2a2a2a" stroke-width="0.09">−4</text>
<line x1="439.3" y1="143.59" x2="441.2" y2="143.59" stroke="#222222" stroke-width="0.75"/>
<text x="443.2" y="146.34" font-size="5.89" fill="#2a2a2a" textLength="3.47" lengthAdjust="spacingAndGlyphs" stroke="#2a2a2a" stroke-width="0.09">0</text>
<line x1="439.3" y1="121.87" x2="441.2" y2="121.87" stroke="#222222" stroke-width="0.75"/>
<text x="443.2" y="124.62" font-size="5.89" fill="#2a2a2a" textLength="3.47" lengthAdjust="spacingAndGlyphs" stroke="#2a2a2a" stroke-width="0.09">4</text>
<line x1="439.3" y1="100.16" x2="441.2" y2="100.16" stroke="#222222" stroke-width="0.75"/>
<text x="443.2" y="102.91" font-size="5.89" fill="#2a2a2a" textLength="3.47" lengthAdjust="spacingAndGlyphs" stroke="#2a2a2a" stroke-width="0.09">8</text>
<line x1="439.3" y1="78.44" x2="441.2" y2="78.44" stroke="#222222" stroke-width="0.75"/>
<text x="443.2" y="81.19" font-size="5.89" fill="#2a2a2a" textLength="6.93" lengthAdjust="spacingAndGlyphs" stroke="#2a2a2a" stroke-width="0.09">12</text>
<line x1="439.3" y1="56.73" x2="441.2" y2="56.73" stroke="#222222" stroke-width="0.75"/>
<text x="443.2" y="59.48" font-size="5.89" fill="#2a2a2a" textLength="6.93" lengthAdjust="spacingAndGlyphs" stroke="#2a2a2a" stroke-width="0.09">16</text>
<line x1="439.3" y1="35.01" x2="441.2" y2="35.01" stroke="#222222" stroke-width="0.75"/>
<text x="443.2" y="37.76" font-size="5.89" fill="#2a2a2a" textLength="6.93" lengthAdjust="spacingAndGlyphs" stroke="#2a2a2a" stroke-width="0.09">20</text>
<line x1="439.3" y1="13.3" x2="441.2" y2="13.3" stroke="#222222" stroke-width="0.75"/>
<text x="443.2" y="16.05" font-size="5.89" fill="#2a2a2a" textLength="6.93" lengthAdjust="spacingAndGlyphs" stroke="#2a2a2a" stroke-width="0.09">24</text>
</g>
<g id="contour2" transform="translate(0 -0.3)">
<clipPath id="cc3"><rect x="263.7" y="259.1" width="70.3" height="151.9"/></clipPath>
<rect x="263.7" y="259.1" width="70.3" height="151.9" fill="#3fbc73"/>
<g clip-path="url(#cc3)">
<path d="M289.6 297.8C290.37 297.05 291.6 297.65 292.6 297.9C293.6 298.15 294.82 298.03 295.6 299.3C296.38 300.57 296.55 301.45 297.3 305.5C298.05 309.55 299.28 317.85 300.1 323.6C300.92 329.35 301.68 332.88 302.2 340C302.72 347.12 303.1 357.53 303.2 366.3C303.3 375.07 303.1 386.23 302.8 392.6C302.5 398.97 302.15 401.73 301.4 404.5C300.65 407.27 299.7 408.35 298.3 409.2C296.9 410.05 294.75 409.6 293 409.6C291.25 409.6 289.27 410.05 287.8 409.2C286.33 408.35 285.05 407.27 284.2 404.5C283.35 401.73 282.98 400.43 282.7 392.6C282.42 384.77 282.38 366.27 282.5 357.5C282.62 348.73 282.87 346.25 283.4 340C283.93 333.75 284.93 326.27 285.7 320C286.47 313.73 287.35 306.1 288 302.4C288.65 298.7 288.83 298.55 289.6 297.8Z" fill="#84d44b"/>
<path d="M290.4 393.8C290.78 393.07 291.27 392.1 291.7 392.1C292.13 392.1 292.62 393.07 293 393.8C293.38 394.53 293.62 395.22 294 396.5C294.38 397.78 294.93 399.92 295.3 401.5C295.67 403.08 296.28 404.83 296.2 406C296.12 407.17 295.53 408.02 294.8 408.5C294.07 408.98 292.8 408.9 291.8 408.9C290.8 408.9 289.53 408.98 288.8 408.5C288.07 408.02 287.5 407.17 287.4 406C287.3 404.83 287.87 403.08 288.2 401.5C288.53 399.92 289.03 397.78 289.4 396.5C289.77 395.22 290.02 394.53 290.4 393.8Z" fill="#d8e219"/>
<path d="M274.7 375.6C274.97 374.4 275.23 373.8 275.5 373.8C275.77 373.8 276 374.23 276.3 375.6C276.6 376.97 276.82 379.27 277.3 382C277.78 384.73 278.77 389 279.2 392C279.63 395 279.77 396.5 279.9 400C280.03 403.5 281.17 410.83 280 413C278.83 415.17 274.23 415.23 272.9 413C271.57 410.77 272.03 403.43 272 399.6C271.97 395.77 272.38 393.1 272.7 390C273.02 386.9 273.57 383.4 273.9 381C274.23 378.6 274.43 376.8 274.7 375.6Z" fill="#1fa088"/>
<path d="M277.3 404.5C277.45 405.08 277.88 406.92 278.2 408C278.52 409.08 279.03 410.5 279.2 411L275.2 411C275.43 410.5 276.25 409.08 276.6 408C276.95 406.92 277.18 405.08 277.3 404.5Z" fill="#26828e"/>
<polygon points="277.4,408.4 278.3,411 276.5,411" fill="#424086"/>
<path d="M309.2 382.4C310.33 383.08 313.37 385.48 316 386.5C318.63 387.52 322 388.08 325 388.5C328 388.92 332.5 388.92 334 389L334 411L301.3 411C302.02 409.5 304.53 405 305.6 402C306.67 399 307.18 395.5 307.7 393C308.22 390.5 308.45 388.77 308.7 387C308.95 385.23 309.12 383.17 309.2 382.4Z" fill="#1fa088"/>
<path d="M309.6 385.6C310.67 386.33 313.43 388.43 316 390C318.57 391.57 322 393.55 325 395C328 396.45 332.5 398.08 334 398.7L334 411L301.7 411C302.4 409.53 304.85 405.03 305.9 402.2C306.95 399.37 307.48 396.2 308 394C308.52 391.8 308.73 390.4 309 389C309.27 387.6 309.5 386.17 309.6 385.6Z" fill="#26828e"/>
<path d="M309.7 388.2C310.58 389 312.62 390.7 315 393C317.38 395.3 321.08 399 324 402C326.92 405 331.08 409.5 332.5 411L302 411C302.7 409.58 305.15 405.17 306.2 402.5C307.25 399.83 307.72 397.38 308.3 395C308.88 392.62 309.47 389.33 309.7 388.2Z" fill="#33638d"/>
<path d="M309.7 391.7C310.42 392.42 312.28 394.03 314 396C315.72 397.97 318.08 401 320 403.5C321.92 406 324.58 409.75 325.5 411L302.3 411C303 409.67 305.45 405.42 306.5 403C307.55 400.58 308.07 398.38 308.6 396.5C309.13 394.62 309.52 392.5 309.7 391.7Z" fill="#424086"/>
<path d="M309.7 397.8C310.33 398.33 312.2 399.63 313.5 401C314.8 402.37 316.38 404.33 317.5 406C318.62 407.67 319.75 410.17 320.2 411L302.8 411C303.43 409.88 305.45 406.5 306.6 404.3C307.75 402.1 309.18 398.88 309.7 397.8Z" fill="#48186a"/>
<polygon points="332.4,259.1 334,259.1 334,267.8" fill="#1fa088"/>
</g>
<rect x="263.7" y="259.1" width="70.3" height="151.9" fill="none" stroke="#333333" stroke-width="0.7"/>
<line x1="275.5" y1="411" x2="275.5" y2="412.9" stroke="#222222" stroke-width="0.75"/>
<text x="275.5" y="420.2" font-size="5.89" fill="#2a2a2a" text-anchor="middle" textLength="8.67" lengthAdjust="spacingAndGlyphs" stroke="#2a2a2a" stroke-width="0.09">0.0</text>
<line x1="298.7" y1="411" x2="298.7" y2="412.9" stroke="#222222" stroke-width="0.75"/>
<text x="298.7" y="420.2" font-size="5.89" fill="#2a2a2a" text-anchor="middle" textLength="8.67" lengthAdjust="spacingAndGlyphs" stroke="#2a2a2a" stroke-width="0.09">0.2</text>
<line x1="321.6" y1="411" x2="321.6" y2="412.9" stroke="#222222" stroke-width="0.75"/>
<text x="321.6" y="420.2" font-size="5.89" fill="#2a2a2a" text-anchor="middle" textLength="8.67" lengthAdjust="spacingAndGlyphs" stroke="#2a2a2a" stroke-width="0.09">0.4</text>
<line x1="261.8" y1="390.5" x2="263.7" y2="390.5" stroke="#222222" stroke-width="0.75"/>
<text x="259.7" y="393.25" font-size="5.89" fill="#2a2a2a" text-anchor="end" textLength="12.13" lengthAdjust="spacingAndGlyphs" stroke="#2a2a2a" stroke-width="0.09">0.02</text>
<line x1="261.8" y1="369.5" x2="263.7" y2="369.5" stroke="#222222" stroke-width="0.75"/>
<text x="259.7" y="372.25" font-size="5.89" fill="#2a2a2a" text-anchor="end" textLength="12.13" lengthAdjust="spacingAndGlyphs" stroke="#2a2a2a" stroke-width="0.09">0.04</text>
<line x1="261.8" y1="348.5" x2="263.7" y2="348.5" stroke="#222222" stroke-width="0.75"/>
<text x="259.7" y="351.25" font-size="5.89" fill="#2a2a2a" text-anchor="end" textLength="12.13" lengthAdjust="spacingAndGlyphs" stroke="#2a2a2a" stroke-width="0.09">0.06</text>
<line x1="261.8" y1="327.5" x2="263.7" y2="327.5" stroke="#222222" stroke-width="0.75"/>
<text x="259.7" y="330.25" font-size="5.89" fill="#2a2a2a" text-anchor="end" textLength="12.13" lengthAdjust="spacingAndGlyphs" stroke="#2a2a2a" stroke-width="0.09">0.08</text>
<line x1="261.8" y1="306.5" x2="263.7" y2="306.5" stroke="#222222" stroke-width="0.75"/>
<text x="259.7" y="309.25" font-size="5.89" fill="#2a2a2a" text-anchor="end" textLength="12.13" lengthAdjust="spacingAndGlyphs" stroke="#2a2a2a" stroke-width="0.09">0.10</text>
<line x1="261.8" y1="285.5" x2="263.7" y2="285.5" stroke="#222222" stroke-width="0.75"/>
<text x="259.7" y="288.25" font-size="5.89" fill="#2a2a2a" text-anchor="end" textLength="12.13" lengthAdjust="spacingAndGlyphs" stroke="#2a2a2a" stroke-width="0.09">0.12</text>
<line x1="261.8" y1="264.5" x2="263.7" y2="264.5" stroke="#222222" stroke-width="0.75"/>
<text x="259.7" y="267.25" font-size="5.89" fill="#2a2a2a" text-anchor="end" textLength="12.13" lengthAdjust="spacingAndGlyphs" stroke="#2a2a2a" stroke-width="0.09">0.14</text>
<text x="298.85" y="255.3" font-size="7.18" fill="#2a2a2a" text-anchor="middle" textLength="16.38" lengthAdjust="spacingAndGlyphs" stroke="#2a2a2a" stroke-width="0.09">truth</text>
<rect x="246.4" y="258.7" width="8.6" height="152.7" fill="#ffffff"/>
<rect x="247" y="391.86" width="7.7" height="19.29" fill="#48186a"/>
<rect x="247" y="372.88" width="7.7" height="19.29" fill="#424086"/>
<rect x="247" y="353.89" width="7.7" height="19.29" fill="#33638d"/>
<rect x="247" y="334.9" width="7.7" height="19.29" fill="#26828e"/>
<rect x="247" y="315.91" width="7.7" height="19.29" fill="#1fa088"/>
<rect x="247" y="296.93" width="7.7" height="19.29" fill="#3fbc73"/>
<rect x="247" y="277.94" width="7.7" height="19.29" fill="#84d44b"/>
<rect x="247" y="258.95" width="7.7" height="19.29" fill="#d8e219"/>
<rect x="247" y="259.1" width="7.7" height="151.9" fill="none" stroke="#333333" stroke-width="0.5"/>
<line x1="245.1" y1="411" x2="247" y2="411" stroke="#222222" stroke-width="0.75"/>
<text x="242.6" y="413.75" font-size="5.89" fill="#2a2a2a" text-anchor="end" textLength="8.03" lengthAdjust="spacingAndGlyphs" stroke="#2a2a2a" stroke-width="0.09">−4</text>
<line x1="245.1" y1="392.01" x2="247" y2="392.01" stroke="#222222" stroke-width="0.75"/>
<text x="242.6" y="394.76" font-size="5.89" fill="#2a2a2a" text-anchor="end" textLength="3.47" lengthAdjust="spacingAndGlyphs" stroke="#2a2a2a" stroke-width="0.09">0</text>
<line x1="245.1" y1="373.02" x2="247" y2="373.02" stroke="#222222" stroke-width="0.75"/>
<text x="242.6" y="375.77" font-size="5.89" fill="#2a2a2a" text-anchor="end" textLength="3.47" lengthAdjust="spacingAndGlyphs" stroke="#2a2a2a" stroke-width="0.09">4</text>
<line x1="245.1" y1="354.04" x2="247" y2="354.04" stroke="#222222" stroke-width="0.75"/>
<text x="242.6" y="356.79" font-size="5.89" fill="#2a2a2a" text-anchor="end" textLength="3.47" lengthAdjust="spacingAndGlyphs" stroke="#2a2a2a" stroke-width="0.09">8</text>
<line x1="245.1" y1="335.05" x2="247" y2="335.05" stroke="#222222" stroke-width="0.75"/>
<text x="242.6" y="337.8" font-size="5.89" fill="#2a2a2a" text-anchor="end" textLength="6.93" lengthAdjust="spacingAndGlyphs" stroke="#2a2a2a" stroke-width="0.09">12</text>
<line x1="245.1" y1="316.06" x2="247" y2="316.06" stroke="#222222" stroke-width="0.75"/>
<text x="242.6" y="318.81" font-size="5.89" fill="#2a2a2a" text-anchor="end" textLength="6.93" lengthAdjust="spacingAndGlyphs" stroke="#2a2a2a" stroke-width="0.09">16</text>
<line x1="245.1" y1="297.08" x2="247" y2="297.08" stroke="#222222" stroke-width="0.75"/>
<text x="242.6" y="299.83" font-size="5.89" fill="#2a2a2a" text-anchor="end" textLength="6.93" lengthAdjust="spacingAndGlyphs" stroke="#2a2a2a" stroke-width="0.09">20</text>
<line x1="245.1" y1="278.09" x2="247" y2="278.09" stroke="#222222" stroke-width="0.75"/>
<text x="242.6" y="280.84" font-size="5.89" fill="#2a2a2a" text-anchor="end" textLength="6.93" lengthAdjust="spacingAndGlyphs" stroke="#2a2a2a" stroke-width="0.09">24</text>
<line x1="245.1" y1="259.1" x2="247" y2="259.1" stroke="#222222" stroke-width="0.75"/>
<text x="242.6" y="261.85" font-size="5.89" fill="#2a2a2a" text-anchor="end" textLength="6.93" lengthAdjust="spacingAndGlyphs" stroke="#2a2a2a" stroke-width="0.09">28</text>
<clipPath id="cc4"><rect x="352.3" y="259.1" width="74.8" height="151.9"/></clipPath>
<rect x="352.3" y="259.1" width="74.8" height="151.9" fill="#3fbc73"/>
<g clip-path="url(#cc4)">
<path d="M382.6 305.2C383.63 304.92 384.67 307.33 385.6 309.8C386.53 312.27 387.33 315.37 388.2 320C389.07 324.63 390.03 331.77 390.8 337.6C391.57 343.43 392.37 348.77 392.8 355C393.23 361.23 393.38 368 393.4 375C393.42 382 393.2 391.92 392.9 397C392.6 402.08 392.33 403.57 391.6 405.5C390.87 407.43 390.1 408.05 388.5 408.6C386.9 409.15 384.15 408.8 382 408.8C379.85 408.8 377.07 409.15 375.6 408.6C374.13 408.05 373.75 407.43 373.2 405.5C372.65 403.57 372.37 402.08 372.3 397C372.23 391.92 372.55 382.85 372.8 375C373.05 367.15 373.28 357.6 373.8 349.9C374.32 342.2 374.97 335.2 375.9 328.8C376.83 322.4 378.28 315.43 379.4 311.5C380.52 307.57 381.57 305.48 382.6 305.2Z" fill="#84d44b"/>
<path d="M381.1 396.1C381.52 395.4 381.97 394.4 382.4 394.4C382.83 394.4 383.28 395.4 383.7 396.1C384.12 396.8 384.47 397.45 384.9 398.6C385.33 399.75 385.97 401.72 386.3 403C386.63 404.28 387.08 405.42 386.9 406.3C386.72 407.18 385.95 407.92 385.2 408.3C384.45 408.68 383.35 408.6 382.4 408.6C381.45 408.6 380.27 408.68 379.5 408.3C378.73 407.92 377.97 407.18 377.8 406.3C377.63 405.42 378.15 404.28 378.5 403C378.85 401.72 379.47 399.75 379.9 398.6C380.33 397.45 380.68 396.8 381.1 396.1Z" fill="#d8e219"/>
<path d="M364.3 376.8C364.6 375.13 364.77 375 365 375C365.23 375 365.4 375.13 365.7 376.8C366 378.47 366.4 381.5 366.8 385C367.2 388.5 367.73 393.13 368.1 397.8C368.47 402.47 369.95 410.47 369 413C368.05 415.53 363.58 415.53 362.4 413C361.22 410.47 361.77 402.47 361.9 397.8C362.03 393.13 362.8 388.5 363.2 385C363.6 381.5 364 378.47 364.3 376.8Z" fill="#1fa088"/>
<path d="M366.8 404.5C366.93 405.08 367.3 406.92 367.6 408C367.9 409.08 368.43 410.5 368.6 411L364.6 411C364.83 410.5 365.63 409.08 366 408C366.37 406.92 366.67 405.08 366.8 404.5Z" fill="#26828e"/>
<path d="M400.8 383.8C401.83 384.5 404.3 386.97 407 388C409.7 389.03 413.65 389.67 417 390C420.35 390.33 425.42 390 427.1 390L427.1 411L391.8 411C392.52 409.5 394.97 405 396.1 402C397.23 399 397.97 395.42 398.6 393C399.23 390.58 399.53 389.03 399.9 387.5C400.27 385.97 400.65 384.42 400.8 383.8Z" fill="#1fa088"/>
<path d="M400.5 387C401.58 387.75 404.25 389.83 407 391.5C409.75 393.17 413.65 395.37 417 397C420.35 398.63 425.42 400.58 427.1 401.3L427.1 411L392.2 411C392.9 409.53 395.28 405.03 396.4 402.2C397.52 399.37 398.3 396.12 398.9 394C399.5 391.88 399.73 390.67 400 389.5C400.27 388.33 400.42 387.42 400.5 387Z" fill="#26828e"/>
<path d="M400.4 390C401.25 390.75 403.32 392.33 405.5 394.5C407.68 396.67 410.83 400.25 413.5 403C416.17 405.75 420.17 409.67 421.5 411L392.6 411C393.3 409.58 395.7 405.17 396.8 402.5C397.9 399.83 398.6 397.08 399.2 395C399.8 392.92 400.2 390.83 400.4 390Z" fill="#33638d"/>
<path d="M400.4 393.4C401 394 402.57 395.23 404 397C405.43 398.77 407.4 401.67 409 404C410.6 406.33 412.83 409.83 413.6 411L393 411C393.68 409.67 396.02 405.37 397.1 403C398.18 400.63 398.95 398.4 399.5 396.8C400.05 395.2 400.25 393.97 400.4 393.4Z" fill="#424086"/>
<path d="M400.4 399.6C400.92 400.08 402.52 401.35 403.5 402.5C404.48 403.65 405.5 405.08 406.3 406.5C407.1 407.92 407.97 410.25 408.3 411L393.4 411C394.05 409.97 396.13 406.7 397.3 404.8C398.47 402.9 399.88 400.47 400.4 399.6Z" fill="#48186a"/>
</g>
<rect x="352.3" y="259.1" width="74.8" height="151.9" fill="none" stroke="#333333" stroke-width="0.7"/>
<line x1="364.7" y1="411" x2="364.7" y2="412.9" stroke="#222222" stroke-width="0.75"/>
<text x="364.7" y="420.2" font-size="5.89" fill="#2a2a2a" text-anchor="middle" textLength="8.67" lengthAdjust="spacingAndGlyphs" stroke="#2a2a2a" stroke-width="0.09">0.0</text>
<line x1="389.1" y1="411" x2="389.1" y2="412.9" stroke="#222222" stroke-width="0.75"/>
<text x="389.1" y="420.2" font-size="5.89" fill="#2a2a2a" text-anchor="middle" textLength="8.67" lengthAdjust="spacingAndGlyphs" stroke="#2a2a2a" stroke-width="0.09">0.2</text>
<line x1="413.6" y1="411" x2="413.6" y2="412.9" stroke="#222222" stroke-width="0.75"/>
<text x="413.6" y="420.2" font-size="5.89" fill="#2a2a2a" text-anchor="middle" textLength="8.67" lengthAdjust="spacingAndGlyphs" stroke="#2a2a2a" stroke-width="0.09">0.4</text>
<line x1="350.4" y1="390.5" x2="352.3" y2="390.5" stroke="#222222" stroke-width="0.75"/>
<text x="348.3" y="393.25" font-size="5.89" fill="#2a2a2a" text-anchor="end" textLength="12.13" lengthAdjust="spacingAndGlyphs" stroke="#2a2a2a" stroke-width="0.09">0.02</text>
<line x1="350.4" y1="369.5" x2="352.3" y2="369.5" stroke="#222222" stroke-width="0.75"/>
<text x="348.3" y="372.25" font-size="5.89" fill="#2a2a2a" text-anchor="end" textLength="12.13" lengthAdjust="spacingAndGlyphs" stroke="#2a2a2a" stroke-width="0.09">0.04</text>
<line x1="350.4" y1="348.5" x2="352.3" y2="348.5" stroke="#222222" stroke-width="0.75"/>
<text x="348.3" y="351.25" font-size="5.89" fill="#2a2a2a" text-anchor="end" textLength="12.13" lengthAdjust="spacingAndGlyphs" stroke="#2a2a2a" stroke-width="0.09">0.06</text>
<line x1="350.4" y1="327.5" x2="352.3" y2="327.5" stroke="#222222" stroke-width="0.75"/>
<text x="348.3" y="330.25" font-size="5.89" fill="#2a2a2a" text-anchor="end" textLength="12.13" lengthAdjust="spacingAndGlyphs" stroke="#2a2a2a" stroke-width="0.09">0.08</text>
<line x1="350.4" y1="306.5" x2="352.3" y2="306.5" stroke="#222222" stroke-width="0.75"/>
<text x="348.3" y="309.25" font-size="5.89" fill="#2a2a2a" text-anchor="end" textLength="12.13" lengthAdjust="spacingAndGlyphs" stroke="#2a2a2a" stroke-width="0.09">0.10</text>
<line x1="350.4" y1="285.5" x2="352.3" y2="285.5" stroke="#222222" stroke-width="0.75"/>
<text x="348.3" y="288.25" font-size="5.89" fill="#2a2a2a" text-anchor="end" textLength="12.13" lengthAdjust="spacingAndGlyphs" stroke="#2a2a2a" stroke-width="0.09">0.12</text>
<line x1="350.4" y1="264.5" x2="352.3" y2="264.5" stroke="#222222" stroke-width="0.75"/>
<text x="348.3" y="267.25" font-size="5.89" fill="#2a2a2a" text-anchor="end" textLength="12.13" lengthAdjust="spacingAndGlyphs" stroke="#2a2a2a" stroke-width="0.09">0.14</text>
<text x="389.7" y="255.3" font-size="7.18" fill="#2a2a2a" text-anchor="middle" textLength="33.36" lengthAdjust="spacingAndGlyphs" stroke="#2a2a2a" stroke-width="0.09">prediction</text>
<rect x="431.1" y="391.86" width="8.2" height="19.29" fill="#48186a"/>
<rect x="431.1" y="372.88" width="8.2" height="19.29" fill="#424086"/>
<rect x="431.1" y="353.89" width="8.2" height="19.29" fill="#33638d"/>
<rect x="431.1" y="334.9" width="8.2" height="19.29" fill="#26828e"/>
<rect x="431.1" y="315.91" width="8.2" height="19.29" fill="#1fa088"/>
<rect x="431.1" y="296.93" width="8.2" height="19.29" fill="#3fbc73"/>
<rect x="431.1" y="277.94" width="8.2" height="19.29" fill="#84d44b"/>
<rect x="431.1" y="258.95" width="8.2" height="19.29" fill="#d8e219"/>
<rect x="431.1" y="259.1" width="8.2" height="151.9" fill="none" stroke="#333333" stroke-width="0.5"/>
<line x1="439.3" y1="411" x2="441.2" y2="411" stroke="#222222" stroke-width="0.75"/>
<text x="443.2" y="413.75" font-size="5.89" fill="#2a2a2a" textLength="8.03" lengthAdjust="spacingAndGlyphs" stroke="#2a2a2a" stroke-width="0.09">−4</text>
<line x1="439.3" y1="392.01" x2="441.2" y2="392.01" stroke="#222222" stroke-width="0.75"/>
<text x="443.2" y="394.76" font-size="5.89" fill="#2a2a2a" textLength="3.47" lengthAdjust="spacingAndGlyphs" stroke="#2a2a2a" stroke-width="0.09">0</text>
<line x1="439.3" y1="373.02" x2="441.2" y2="373.02" stroke="#222222" stroke-width="0.75"/>
<text x="443.2" y="375.77" font-size="5.89" fill="#2a2a2a" textLength="3.47" lengthAdjust="spacingAndGlyphs" stroke="#2a2a2a" stroke-width="0.09">4</text>
<line x1="439.3" y1="354.04" x2="441.2" y2="354.04" stroke="#222222" stroke-width="0.75"/>
<text x="443.2" y="356.79" font-size="5.89" fill="#2a2a2a" textLength="3.47" lengthAdjust="spacingAndGlyphs" stroke="#2a2a2a" stroke-width="0.09">8</text>
<line x1="439.3" y1="335.05" x2="441.2" y2="335.05" stroke="#222222" stroke-width="0.75"/>
<text x="443.2" y="337.8" font-size="5.89" fill="#2a2a2a" textLength="6.93" lengthAdjust="spacingAndGlyphs" stroke="#2a2a2a" stroke-width="0.09">12</text>
<line x1="439.3" y1="316.06" x2="441.2" y2="316.06" stroke="#222222" stroke-width="0.75"/>
<text x="443.2" y="318.81" font-size="5.89" fill="#2a2a2a" textLength="6.93" lengthAdjust="spacingAndGlyphs" stroke="#2a2a2a" stroke-width="0.09">16</text>
<line x1="439.3" y1="297.08" x2="441.2" y2="297.08" stroke="#222222" stroke-width="0.75"/>
<text x="443.2" y="299.83" font-size="5.89" fill="#2a2a2a" textLength="6.93" lengthAdjust="spacingAndGlyphs" stroke="#2a2a2a" stroke-width="0.09">20</text>
<line x1="439.3" y1="278.09" x2="441.2" y2="278.09" stroke="#222222" stroke-width="0.75"/>
<text x="443.2" y="280.84" font-size="5.89" fill="#2a2a2a" textLength="6.93" lengthAdjust="spacingAndGlyphs" stroke="#2a2a2a" stroke-width="0.09">24</text>
<line x1="439.3" y1="259.1" x2="441.2" y2="259.1" stroke="#222222" stroke-width="0.75"/>
<text x="443.2" y="261.85" font-size="5.89" fill="#2a2a2a" textLength="6.93" lengthAdjust="spacingAndGlyphs" stroke="#2a2a2a" stroke-width="0.09">28</text>
</g>
<g id="contour3" transform="translate(0 -0.3)">
<clipPath id="cc5"><rect x="263.7" y="505.2" width="70.3" height="152"/></clipPath>
<rect x="263.7" y="505.2" width="70.3" height="152" fill="#2db27d"/>
<g clip-path="url(#cc5)">
<path d="M275.9 516L310.6 512.9L316.7 595C316.78 598.33 317.17 610.5 317.2 615C317.23 619.5 317.17 620.23 316.9 622C316.63 623.77 316.25 624.87 315.6 625.6C314.95 626.33 313.77 626.32 313 626.4C312.23 626.48 311.57 625.97 311 626.1C310.43 626.23 309.83 627.02 309.6 627.2C309.22 628.63 308.12 632.62 307.3 635.8C306.48 638.98 305.65 643.35 304.7 646.3C303.75 649.25 302.52 651.88 301.6 653.5C300.68 655.12 299.6 655.58 299.2 656L282.6 656C282.17 655.08 280.55 653.17 280 650.5C279.45 647.83 279.6 648 279.3 640C279 632 278.47 612.07 278.2 602.5C277.93 592.93 278.08 597.02 277.7 582.6C277.32 568.18 276.2 527.1 275.9 516Z" fill="#73d056"/>
<path d="M291.7 613C292.48 613 293.33 615.5 294.1 618C294.87 620.5 295.67 624.33 296.3 628C296.93 631.67 297.53 636.42 297.9 640C298.27 643.58 298.58 647.2 298.5 649.5C298.42 651.8 298.07 652.83 297.4 653.8C296.73 654.77 295.82 655.05 294.5 655.3C293.18 655.55 290.85 655.55 289.5 655.3C288.15 655.05 287.12 654.77 286.4 653.8C285.68 652.83 285.33 651.8 285.2 649.5C285.07 647.2 285.27 643.58 285.6 640C285.93 636.42 286.57 631.67 287.2 628C287.83 624.33 288.65 620.5 289.4 618C290.15 615.5 290.92 613 291.7 613Z" fill="#d0e11c"/>
<path d="M309.7 630.9C310.75 631.83 313.45 634.82 316 636.5C318.55 638.18 322 639.95 325 641C328 642.05 332.5 642.5 334 642.8L334 657.2L300.6 657.2C301.3 655.83 303.65 651.87 304.8 649C305.95 646.13 306.8 642.42 307.5 640C308.2 637.58 308.63 636.02 309 634.5C309.37 632.98 309.58 631.5 309.7 630.9Z" fill="#21918c"/>
<path d="M309.7 634C310.58 634.83 312.78 637 315 639C317.22 641 320.5 643.83 323 646C325.5 648.17 328.17 650.47 330 652C331.83 653.53 333.33 654.67 334 655.2L334 657.2L301 657.2C301.7 655.88 304.07 651.92 305.2 649.3C306.33 646.68 307.05 644.05 307.8 641.5C308.55 638.95 309.38 635.25 309.7 634Z" fill="#2e6e8e"/>
<path d="M309.7 637.6C310.33 638.33 312.03 640.02 313.5 642C314.97 643.98 316.93 646.97 318.5 649.5C320.07 652.03 322.17 655.92 322.9 657.2L301.4 657.2C302.1 655.97 304.47 652.17 305.6 649.8C306.73 647.43 307.52 645.03 308.2 643C308.88 640.97 309.45 638.5 309.7 637.6Z" fill="#3f4788"/>
<path d="M309.7 644.6C310.25 645.08 311.95 646.27 313 647.5C314.05 648.73 315.08 650.38 316 652C316.92 653.62 318.08 656.33 318.5 657.2L301.9 657.2C302.55 656.17 304.5 653.1 305.8 651C307.1 648.9 309.05 645.67 309.7 644.6Z" fill="#481b6d"/>
<path d="M277.3 649.5C277.4 650.17 277.63 652.22 277.9 653.5C278.17 654.78 278.73 656.58 278.9 657.2L275.2 657.2C275.43 656.58 276.25 654.78 276.6 653.5C276.95 652.22 277.18 650.17 277.3 649.5Z" fill="#21918c"/>
<polygon points="277.4,654.2 278.2,657.2 276.4,657.2" fill="#3f4788"/>
</g>
<rect x="263.7" y="505.2" width="70.3" height="152" fill="none" stroke="#333333" stroke-width="0.7"/>
<line x1="275.5" y1="657.2" x2="275.5" y2="659.1" stroke="#222222" stroke-width="0.75"/>
<text x="275.5" y="666.4" font-size="5.89" fill="#2a2a2a" text-anchor="middle" textLength="8.67" lengthAdjust="spacingAndGlyphs" stroke="#2a2a2a" stroke-width="0.09">0.0</text>
<line x1="298.7" y1="657.2" x2="298.7" y2="659.1" stroke="#222222" stroke-width="0.75"/>
<text x="298.7" y="666.4" font-size="5.89" fill="#2a2a2a" text-anchor="middle" textLength="8.67" lengthAdjust="spacingAndGlyphs" stroke="#2a2a2a" stroke-width="0.09">0.2</text>
<line x1="321.6" y1="657.2" x2="321.6" y2="659.1" stroke="#222222" stroke-width="0.75"/>
<text x="321.6" y="666.4" font-size="5.89" fill="#2a2a2a" text-anchor="middle" textLength="8.67" lengthAdjust="spacingAndGlyphs" stroke="#2a2a2a" stroke-width="0.09">0.4</text>
<line x1="261.8" y1="636.7" x2="263.7" y2="636.7" stroke="#222222" stroke-width="0.75"/>
<text x="259.7" y="639.45" font-size="5.89" fill="#2a2a2a" text-anchor="end" textLength="12.13" lengthAdjust="spacingAndGlyphs" stroke="#2a2a2a" stroke-width="0.09">0.02</text>
<line x1="261.8" y1="615.7" x2="263.7" y2="615.7" stroke="#222222" stroke-width="0.75"/>
<text x="259.7" y="618.45" font-size="5.89" fill="#2a2a2a" text-anchor="end" textLength="12.13" lengthAdjust="spacingAndGlyphs" stroke="#2a2a2a" stroke-width="0.09">0.04</text>
<line x1="261.8" y1="594.7" x2="263.7" y2="594.7" stroke="#222222" stroke-width="0.75"/>
<text x="259.7" y="597.45" font-size="5.89" fill="#2a2a2a" text-anchor="end" textLength="12.13" lengthAdjust="spacingAndGlyphs" stroke="#2a2a2a" stroke-width="0.09">0.06</text>
<line x1="261.8" y1="573.7" x2="263.7" y2="573.7" stroke="#222222" stroke-width="0.75"/>
<text x="259.7" y="576.45" font-size="5.89" fill="#2a2a2a" text-anchor="end" textLength="12.13" lengthAdjust="spacingAndGlyphs" stroke="#2a2a2a" stroke-width="0.09">0.08</text>
<line x1="261.8" y1="552.7" x2="263.7" y2="552.7" stroke="#222222" stroke-width="0.75"/>
<text x="259.7" y="555.45" font-size="5.89" fill="#2a2a2a" text-anchor="end" textLength="12.13" lengthAdjust="spacingAndGlyphs" stroke="#2a2a2a" stroke-width="0.09">0.10</text>
<line x1="261.8" y1="531.7" x2="263.7" y2="531.7" stroke="#222222" stroke-width="0.75"/>
<text x="259.7" y="534.45" font-size="5.89" fill="#2a2a2a" text-anchor="end" textLength="12.13" lengthAdjust="spacingAndGlyphs" stroke="#2a2a2a" stroke-width="0.09">0.12</text>
<line x1="261.8" y1="510.7" x2="263.7" y2="510.7" stroke="#222222" stroke-width="0.75"/>
<text x="259.7" y="513.45" font-size="5.89" fill="#2a2a2a" text-anchor="end" textLength="12.13" lengthAdjust="spacingAndGlyphs" stroke="#2a2a2a" stroke-width="0.09">0.14</text>
<text x="298.85" y="501.3" font-size="7.18" fill="#2a2a2a" text-anchor="middle" textLength="16.38" lengthAdjust="spacingAndGlyphs" stroke="#2a2a2a" stroke-width="0.09">truth</text>
<rect x="246.4" y="504.8" width="8.6" height="152.8" fill="#ffffff"/>
<rect x="247" y="635.34" width="7.7" height="22.01" fill="#481b6d"/>
<rect x="247" y="613.62" width="7.7" height="22.01" fill="#3f4788"/>
<rect x="247" y="591.91" width="7.7" height="22.01" fill="#2e6e8e"/>
<rect x="247" y="570.19" width="7.7" height="22.01" fill="#21918c"/>
<rect x="247" y="548.48" width="7.7" height="22.01" fill="#2db27d"/>
<rect x="247" y="526.76" width="7.7" height="22.01" fill="#73d056"/>
<rect x="247" y="505.05" width="7.7" height="22.01" fill="#d0e11c"/>
<rect x="247" y="505.2" width="7.7" height="152" fill="none" stroke="#333333" stroke-width="0.5"/>
<line x1="245.1" y1="657.2" x2="247" y2="657.2" stroke="#222222" stroke-width="0.75"/>
<text x="242.6" y="659.95" font-size="5.89" fill="#2a2a2a" text-anchor="end" textLength="8.03" lengthAdjust="spacingAndGlyphs" stroke="#2a2a2a" stroke-width="0.09">−5</text>
<line x1="245.1" y1="635.49" x2="247" y2="635.49" stroke="#222222" stroke-width="0.75"/>
<text x="242.6" y="638.24" font-size="5.89" fill="#2a2a2a" text-anchor="end" textLength="3.47" lengthAdjust="spacingAndGlyphs" stroke="#2a2a2a" stroke-width="0.09">0</text>
<line x1="245.1" y1="613.77" x2="247" y2="613.77" stroke="#222222" stroke-width="0.75"/>
<text x="242.6" y="616.52" font-size="5.89" fill="#2a2a2a" text-anchor="end" textLength="3.47" lengthAdjust="spacingAndGlyphs" stroke="#2a2a2a" stroke-width="0.09">5</text>
<line x1="245.1" y1="592.06" x2="247" y2="592.06" stroke="#222222" stroke-width="0.75"/>
<text x="242.6" y="594.81" font-size="5.89" fill="#2a2a2a" text-anchor="end" textLength="6.93" lengthAdjust="spacingAndGlyphs" stroke="#2a2a2a" stroke-width="0.09">10</text>
<line x1="245.1" y1="570.34" x2="247" y2="570.34" stroke="#222222" stroke-width="0.75"/>
<text x="242.6" y="573.09" font-size="5.89" fill="#2a2a2a" text-anchor="end" textLength="6.93" lengthAdjust="spacingAndGlyphs" stroke="#2a2a2a" stroke-width="0.09">15</text>
<line x1="245.1" y1="548.63" x2="247" y2="548.63" stroke="#222222" stroke-width="0.75"/>
<text x="242.6" y="551.38" font-size="5.89" fill="#2a2a2a" text-anchor="end" textLength="6.93" lengthAdjust="spacingAndGlyphs" stroke="#2a2a2a" stroke-width="0.09">20</text>
<line x1="245.1" y1="526.91" x2="247" y2="526.91" stroke="#222222" stroke-width="0.75"/>
<text x="242.6" y="529.66" font-size="5.89" fill="#2a2a2a" text-anchor="end" textLength="6.93" lengthAdjust="spacingAndGlyphs" stroke="#2a2a2a" stroke-width="0.09">25</text>
<line x1="245.1" y1="505.2" x2="247" y2="505.2" stroke="#222222" stroke-width="0.75"/>
<text x="242.6" y="507.95" font-size="5.89" fill="#2a2a2a" text-anchor="end" textLength="6.93" lengthAdjust="spacingAndGlyphs" stroke="#2a2a2a" stroke-width="0.09">30</text>
<clipPath id="cc6"><rect x="352.3" y="505.2" width="74.8" height="152"/></clipPath>
<rect x="352.3" y="505.2" width="74.8" height="152" fill="#3fbc73"/>
<g clip-path="url(#cc6)">
<path d="M367.2 522.2L399.6 521.3C400.03 525.68 401.27 538.85 402.2 547.6C403.13 556.35 404.6 564.65 405.2 573.8C405.8 582.95 405.83 595.13 405.8 602.5C405.77 609.87 405.4 614.72 405 618C404.6 621.28 404 621.15 403.4 622.2C402.8 623.25 401.88 623.5 401.4 624.3C400.92 625.1 400.65 626.55 400.5 627C400.42 627.88 400.57 629.37 400 632.3C399.43 635.23 398.17 641.28 397.1 644.6C396.03 647.92 394.53 650.57 393.6 652.2C392.67 653.83 392.17 653.93 391.5 654.4C390.83 654.87 389.92 654.9 389.6 655L370.7 655C370.42 654.33 369.37 653.5 369 651C368.63 648.5 368.67 651 368.5 640C368.33 629 368.32 599.53 368 585C367.68 570.47 366.73 563.27 366.6 552.8C366.47 542.33 367.1 527.3 367.2 522.2Z" fill="#84d44b"/>
<path d="M382.9 603C384 602.42 385.02 604.97 385.9 607.8C386.78 610.63 387.53 615.03 388.2 620C388.87 624.97 389.52 632.85 389.9 637.6C390.28 642.35 390.58 645.93 390.5 648.5C390.42 651.07 390.07 651.93 389.4 653C388.73 654.07 388.23 654.58 386.5 654.9C384.77 655.22 380.82 655.17 379 654.9C377.18 654.63 376.32 654.73 375.6 653.3C374.88 651.87 374.65 650.38 374.7 646.3C374.75 642.22 375.13 634.63 375.9 628.8C376.67 622.97 378.13 615.6 379.3 611.3C380.47 607 381.8 603.58 382.9 603Z" fill="#d8e219"/>
<path d="M400.8 630.9C401.83 631.67 404.3 634.07 407 635.5C409.7 636.93 413.65 638.58 417 639.5C420.35 640.42 425.42 640.75 427.1 641L427.1 657.2L391.8 657.2C392.5 655.83 394.85 651.87 396 649C397.15 646.13 398.05 642.42 398.7 640C399.35 637.58 399.55 636.02 399.9 634.5C400.25 632.98 400.65 631.5 400.8 630.9Z" fill="#1fa088"/>
<path d="M400.5 633.2C401.58 634 404.25 636.03 407 638C409.75 639.97 413.65 642.73 417 645C420.35 647.27 425.42 650.5 427.1 651.6L427.1 657.2L392.2 657.2C392.9 655.87 395.27 651.9 396.4 649.2C397.53 646.5 398.4 643.2 399 641C399.6 638.8 399.75 637.3 400 636C400.25 634.7 400.42 633.67 400.5 633.2Z" fill="#26828e"/>
<path d="M400.4 635.8C401.25 636.58 403.23 638.3 405.5 640.5C407.77 642.7 411.2 646.22 414 649C416.8 651.78 420.92 655.83 422.3 657.2L392.6 657.2C393.3 655.92 395.68 652.03 396.8 649.5C397.92 646.97 398.7 644.28 399.3 642C399.9 639.72 400.22 636.83 400.4 635.8Z" fill="#33638d"/>
<path d="M400.4 639.3C401 639.92 402.57 641.22 404 643C405.43 644.78 407.4 647.63 409 650C410.6 652.37 412.83 656 413.6 657.2L393 657.2C393.68 655.97 396.02 652.08 397.1 649.8C398.18 647.52 398.95 645.25 399.5 643.5C400.05 641.75 400.25 640 400.4 639.3Z" fill="#424086"/>
<path d="M400.4 646.3C400.92 646.75 402.52 647.88 403.5 649C404.48 650.12 405.5 651.63 406.3 653C407.1 654.37 407.97 656.5 408.3 657.2L393.4 657.2C394.05 656.27 396.13 653.42 397.3 651.6C398.47 649.78 399.88 647.18 400.4 646.3Z" fill="#48186a"/>
<path d="M366.6 643.2C366.73 644.33 367 647.67 367.4 650C367.8 652.33 368.73 656 369 657.2L364.3 657.2C364.57 656 365.52 652.33 365.9 650C366.28 647.67 366.48 644.33 366.6 643.2Z" fill="#1fa088"/>
<polygon points="366.8,652 367.8,657.2 365.8,657.2" fill="#33638d"/>
</g>
<rect x="352.3" y="505.2" width="74.8" height="152" fill="none" stroke="#333333" stroke-width="0.7"/>
<line x1="364.7" y1="657.2" x2="364.7" y2="659.1" stroke="#222222" stroke-width="0.75"/>
<text x="364.7" y="666.4" font-size="5.89" fill="#2a2a2a" text-anchor="middle" textLength="8.67" lengthAdjust="spacingAndGlyphs" stroke="#2a2a2a" stroke-width="0.09">0.0</text>
<line x1="389.1" y1="657.2" x2="389.1" y2="659.1" stroke="#222222" stroke-width="0.75"/>
<text x="389.1" y="666.4" font-size="5.89" fill="#2a2a2a" text-anchor="middle" textLength="8.67" lengthAdjust="spacingAndGlyphs" stroke="#2a2a2a" stroke-width="0.09">0.2</text>
<line x1="413.6" y1="657.2" x2="413.6" y2="659.1" stroke="#222222" stroke-width="0.75"/>
<text x="413.6" y="666.4" font-size="5.89" fill="#2a2a2a" text-anchor="middle" textLength="8.67" lengthAdjust="spacingAndGlyphs" stroke="#2a2a2a" stroke-width="0.09">0.4</text>
<line x1="350.4" y1="636.7" x2="352.3" y2="636.7" stroke="#222222" stroke-width="0.75"/>
<text x="348.3" y="639.45" font-size="5.89" fill="#2a2a2a" text-anchor="end" textLength="12.13" lengthAdjust="spacingAndGlyphs" stroke="#2a2a2a" stroke-width="0.09">0.02</text>
<line x1="350.4" y1="615.7" x2="352.3" y2="615.7" stroke="#222222" stroke-width="0.75"/>
<text x="348.3" y="618.45" font-size="5.89" fill="#2a2a2a" text-anchor="end" textLength="12.13" lengthAdjust="spacingAndGlyphs" stroke="#2a2a2a" stroke-width="0.09">0.04</text>
<line x1="350.4" y1="594.7" x2="352.3" y2="594.7" stroke="#222222" stroke-width="0.75"/>
<text x="348.3" y="597.45" font-size="5.89" fill="#2a2a2a" text-anchor="end" textLength="12.13" lengthAdjust="spacingAndGlyphs" stroke="#2a2a2a" stroke-width="0.09">0.06</text>
<line x1="350.4" y1="573.7" x2="352.3" y2="573.7" stroke="#222222" stroke-width="0.75"/>
<text x="348.3" y="576.45" font-size="5.89" fill="#2a2a2a" text-anchor="end" textLength="12.13" lengthAdjust="spacingAndGlyphs" stroke="#2a2a2a" stroke-width="0.09">0.08</text>
<line x1="350.4" y1="552.7" x2="352.3" y2="552.7" stroke="#222222" stroke-width="0.75"/>
<text x="348.3" y="555.45" font-size="5.89" fill="#2a2a2a" text-anchor="end" textLength="12.13" lengthAdjust="spacingAndGlyphs" stroke="#2a2a2a" stroke-width="0.09">0.10</text>
<line x1="350.4" y1="531.7" x2="352.3" y2="531.7" stroke="#222222" stroke-width="0.75"/>
<text x="348.3" y="534.45" font-size="5.89" fill="#2a2a2a" text-anchor="end" textLength="12.13" lengthAdjust="spacingAndGlyphs" stroke="#2a2a2a" stroke-width="0.09">0.12</text>
<line x1="350.4" y1="510.7" x2="352.3" y2="510.7" stroke="#222222" stroke-width="0.75"/>
<text x="348.3" y="513.45" font-size="5.89" fill="#2a2a2a" text-anchor="end" textLength="12.13" lengthAdjust="spacingAndGlyphs" stroke="#2a2a2a" stroke-width="0.09">0.14</text>
<text x="389.7" y="501.3" font-size="7.18" fill="#2a2a2a" text-anchor="middle" textLength="33.36" lengthAdjust="spacingAndGlyphs" stroke="#2a2a2a" stroke-width="0.09">prediction</text>
<rect x="431.1" y="638.05" width="8.2" height="19.3" fill="#48186a"/>
<rect x="431.1" y="619.05" width="8.2" height="19.3" fill="#424086"/>
<rect x="431.1" y="600.05" width="8.2" height="19.3" fill="#33638d"/>
<rect x="431.1" y="581.05" width="8.2" height="19.3" fill="#26828e"/>
<rect x="431.1" y="562.05" width="8.2" height="19.3" fill="#1fa088"/>
<rect x="431.1" y="543.05" width="8.2" height="19.3" fill="#3fbc73"/>
<rect x="431.1" y="524.05" width="8.2" height="19.3" fill="#84d44b"/>
<rect x="431.1" y="505.05" width="8.2" height="19.3" fill="#d8e219"/>
<rect x="431.1" y="505.2" width="8.2" height="152" fill="none" stroke="#333333" stroke-width="0.5"/>
<line x1="439.3" y1="657.2" x2="441.2" y2="657.2" stroke="#222222" stroke-width="0.75"/>
<text x="443.2" y="659.95" font-size="5.89" fill="#2a2a2a" textLength="8.03" lengthAdjust="spacingAndGlyphs" stroke="#2a2a2a" stroke-width="0.09">−4</text>
<line x1="439.3" y1="638.2" x2="441.2" y2="638.2" stroke="#222222" stroke-width="0.75"/>
<text x="443.2" y="640.95" font-size="5.89" fill="#2a2a2a" textLength="3.47" lengthAdjust="spacingAndGlyphs" stroke="#2a2a2a" stroke-width="0.09">0</text>
<line x1="439.3" y1="619.2" x2="441.2" y2="619.2" stroke="#222222" stroke-width="0.75"/>
<text x="443.2" y="621.95" font-size="5.89" fill="#2a2a2a" textLength="3.47" lengthAdjust="spacingAndGlyphs" stroke="#2a2a2a" stroke-width="0.09">4</text>
<line x1="439.3" y1="600.2" x2="441.2" y2="600.2" stroke="#222222" stroke-width="0.75"/>
<text x="443.2" y="602.95" font-size="5.89" fill="#2a2a2a" textLength="3.47" lengthAdjust="spacingAndGlyphs" stroke="#2a2a2a" stroke-width="0.09">8</text>
<line x1="439.3" y1="581.2" x2="441.2" y2="581.2" stroke="#222222" stroke-width="0.75"/>
<text x="443.2" y="583.95" font-size="5.89" fill="#2a2a2a" textLength="6.93" lengthAdjust="spacingAndGlyphs" stroke="#2a2a2a" stroke-width="0.09">12</text>
<line x1="439.3" y1="562.2" x2="441.2" y2="562.2" stroke="#222222" stroke-width="0.75"/>
<text x="443.2" y="564.95" font-size="5.89" fill="#2a2a2a" textLength="6.93" lengthAdjust="spacingAndGlyphs" stroke="#2a2a2a" stroke-width="0.09">16</text>
<line x1="439.3" y1="543.2" x2="441.2" y2="543.2" stroke="#222222" stroke-width="0.75"/>
<text x="443.2" y="545.95" font-size="5.89" fill="#2a2a2a" textLength="6.93" lengthAdjust="spacingAndGlyphs" stroke="#2a2a2a" stroke-width="0.09">20</text>
<line x1="439.3" y1="524.2" x2="441.2" y2="524.2" stroke="#222222" stroke-width="0.75"/>
<text x="443.2" y="526.95" font-size="5.89" fill="#2a2a2a" textLength="6.93" lengthAdjust="spacingAndGlyphs" stroke="#2a2a2a" stroke-width="0.09">24</text>
<line x1="439.3" y1="505.2" x2="441.2" y2="505.2" stroke="#222222" stroke-width="0.75"/>
<text x="443.2" y="507.95" font-size="5.89" fill="#2a2a2a" textLength="6.93" lengthAdjust="spacingAndGlyphs" stroke="#2a2a2a" stroke-width="0.09">28</text>
</g>
<g id="line1">
<rect x="484.3" y="8.4" width="198.4" height="148.2" fill="#ffffff"/>
<line x1="501.4" y1="8.4" x2="501.4" y2="156.6" stroke="#c4c4c4" stroke-width="0.6"/>
<line x1="544.2" y1="8.4" x2="544.2" y2="156.6" stroke="#c4c4c4" stroke-width="0.6"/>
<line x1="586.5" y1="8.4" x2="586.5" y2="156.6" stroke="#c4c4c4" stroke-width="0.6"/>
<line x1="628.6" y1="8.4" x2="628.6" y2="156.6" stroke="#c4c4c4" stroke-width="0.6"/>
<line x1="671.2" y1="8.4" x2="671.2" y2="156.6" stroke="#c4c4c4" stroke-width="0.6"/>
<line x1="484.3" y1="148" x2="682.7" y2="148" stroke="#c4c4c4" stroke-width="0.6"/>
<line x1="484.3" y1="130.82" x2="682.7" y2="130.82" stroke="#c4c4c4" stroke-width="0.6"/>
<line x1="484.3" y1="113.64" x2="682.7" y2="113.64" stroke="#c4c4c4" stroke-width="0.6"/>
<line x1="484.3" y1="96.46" x2="682.7" y2="96.46" stroke="#c4c4c4" stroke-width="0.6"/>
<line x1="484.3" y1="79.28" x2="682.7" y2="79.28" stroke="#c4c4c4" stroke-width="0.6"/>
<line x1="484.3" y1="62.1" x2="682.7" y2="62.1" stroke="#c4c4c4" stroke-width="0.6"/>
<line x1="484.3" y1="44.92" x2="682.7" y2="44.92" stroke="#c4c4c4" stroke-width="0.6"/>
<line x1="484.3" y1="27.74" x2="682.7" y2="27.74" stroke="#c4c4c4" stroke-width="0.6"/>
<line x1="484.3" y1="10.56" x2="682.7" y2="10.56" stroke="#c4c4c4" stroke-width="0.6"/>
<clipPath id="cl1"><rect x="484.3" y="8.4" width="198.4" height="148.2"/></clipPath>
<g clip-path="url(#cl1)" fill="none" stroke-width="0.72" stroke-linejoin="round" stroke-linecap="round">
<path d="M493.2 148.2C496 148.2 505.27 148.18 510 148.2C514.73 148.22 517.63 148.18 521.6 148.3C525.57 148.42 530.4 148.73 533.8 148.9C537.2 149.07 539.3 149.2 542 149.3C544.7 149.4 547.33 149.5 550 149.5C552.67 149.5 555.33 149.5 558 149.3C560.67 149.1 563.08 148.77 566 148.3C568.92 147.83 572.08 147.1 575.5 146.5C578.92 145.9 582.42 145.57 586.5 144.7C590.58 143.83 595.98 142.68 600 141.3C604.02 139.92 607.67 138.23 610.6 136.4C613.53 134.57 615.42 132.78 617.6 130.3C619.78 127.82 621.95 124.42 623.7 121.5C625.45 118.58 626.65 116.58 628.1 112.8C629.55 109.02 630.95 104.47 632.4 98.8C633.85 93.13 635.48 86.8 636.8 78.8C638.12 70.8 639.13 59.27 640.3 50.8C641.47 42.33 642.77 33.25 643.8 28C644.83 22.75 645.62 21.33 646.5 19.3C647.38 17.27 647.8 16.6 649.1 15.8C650.4 15 651.97 14.57 654.3 14.5C656.63 14.43 660.47 14.98 663.1 15.4C665.73 15.82 668.28 16.47 670.1 17C671.92 17.53 673.35 18.33 674 18.6" stroke="#1f77b4"/>
<path d="M493.2 148.1C495.17 148.03 501.15 147.9 505 147.7C508.85 147.5 512.08 147.23 516.3 146.9C520.52 146.57 525.57 146.28 530.3 145.7C535.03 145.12 540.6 144.22 544.7 143.4C548.8 142.58 551.45 141.97 554.9 140.8C558.35 139.63 562.55 137.63 565.4 136.4C568.25 135.17 569.73 134.18 572 133.4C574.27 132.62 576.58 132.22 579 131.7C581.42 131.18 583.58 130.97 586.5 130.3C589.42 129.63 593.08 128.87 596.5 127.7C599.92 126.53 603.78 125.05 607 123.3C610.22 121.55 613.45 119.4 615.8 117.2C618.15 115 619.5 112.88 621.1 110.1C622.7 107.32 623.98 103.68 625.4 100.5C626.82 97.32 628.45 94.17 629.6 91C630.75 87.83 631.38 85.28 632.3 81.5C633.22 77.72 634.05 74 635.1 68.3C636.15 62.6 637.43 54.02 638.6 47.3C639.77 40.58 641.08 32.38 642.1 28C643.12 23.62 643.83 22.55 644.7 21C645.57 19.45 645.4 19.28 647.3 18.7C649.2 18.12 653.17 17.85 656.1 17.5C659.03 17.15 662.57 16.63 664.9 16.6C667.23 16.57 668.58 16.97 670.1 17.3C671.62 17.63 673.35 18.38 674 18.6" stroke="#ff7f0e"/>
</g>
<line x1="483.95" y1="8.4" x2="683.05" y2="8.4" stroke="#555555" stroke-width="0.7"/>
<line x1="483.95" y1="156.6" x2="683.05" y2="156.6" stroke="#555555" stroke-width="0.7"/>
<line x1="484.3" y1="8.4" x2="484.3" y2="156.6" stroke="#555555" stroke-width="0.7"/>
<line x1="682.7" y1="8.4" x2="682.7" y2="156.6" stroke="#555555" stroke-width="0.7"/>
<line x1="482.4" y1="148" x2="484.3" y2="148" stroke="#222222" stroke-width="0.75"/>
<text x="480.4" y="150.1" font-size="5.4" fill="#2a2a2a" text-anchor="end" textLength="3.18" lengthAdjust="spacingAndGlyphs" stroke="#2a2a2a" stroke-width="0.09">0</text>
<line x1="482.4" y1="130.82" x2="484.3" y2="130.82" stroke="#222222" stroke-width="0.75"/>
<text x="480.4" y="132.92" font-size="5.4" fill="#2a2a2a" text-anchor="end" textLength="3.18" lengthAdjust="spacingAndGlyphs" stroke="#2a2a2a" stroke-width="0.09">2</text>
<line x1="482.4" y1="113.64" x2="484.3" y2="113.64" stroke="#222222" stroke-width="0.75"/>
<text x="480.4" y="115.74" font-size="5.4" fill="#2a2a2a" text-anchor="end" textLength="3.18" lengthAdjust="spacingAndGlyphs" stroke="#2a2a2a" stroke-width="0.09">4</text>
<line x1="482.4" y1="96.46" x2="484.3" y2="96.46" stroke="#222222" stroke-width="0.75"/>
<text x="480.4" y="98.56" font-size="5.4" fill="#2a2a2a" text-anchor="end" textLength="3.18" lengthAdjust="spacingAndGlyphs" stroke="#2a2a2a" stroke-width="0.09">6</text>
<line x1="482.4" y1="79.28" x2="484.3" y2="79.28" stroke="#222222" stroke-width="0.75"/>
<text x="480.4" y="81.38" font-size="5.4" fill="#2a2a2a" text-anchor="end" textLength="3.18" lengthAdjust="spacingAndGlyphs" stroke="#2a2a2a" stroke-width="0.09">8</text>
<line x1="482.4" y1="62.1" x2="484.3" y2="62.1" stroke="#222222" stroke-width="0.75"/>
<text x="480.4" y="64.2" font-size="5.4" fill="#2a2a2a" text-anchor="end" textLength="6.36" lengthAdjust="spacingAndGlyphs" stroke="#2a2a2a" stroke-width="0.09">10</text>
<line x1="482.4" y1="44.92" x2="484.3" y2="44.92" stroke="#222222" stroke-width="0.75"/>
<text x="480.4" y="47.02" font-size="5.4" fill="#2a2a2a" text-anchor="end" textLength="6.36" lengthAdjust="spacingAndGlyphs" stroke="#2a2a2a" stroke-width="0.09">12</text>
<line x1="482.4" y1="27.74" x2="484.3" y2="27.74" stroke="#222222" stroke-width="0.75"/>
<text x="480.4" y="29.84" font-size="5.4" fill="#2a2a2a" text-anchor="end" textLength="6.36" lengthAdjust="spacingAndGlyphs" stroke="#2a2a2a" stroke-width="0.09">14</text>
<line x1="482.4" y1="10.56" x2="484.3" y2="10.56" stroke="#222222" stroke-width="0.75"/>
<text x="480.4" y="12.66" font-size="5.4" fill="#2a2a2a" text-anchor="end" textLength="6.36" lengthAdjust="spacingAndGlyphs" stroke="#2a2a2a" stroke-width="0.09">16</text>
<line x1="501.4" y1="156.6" x2="501.4" y2="158.5" stroke="#222222" stroke-width="0.75"/>
<text x="495.3" y="166.2" font-size="5.72" fill="#2a2a2a" textLength="6.74" lengthAdjust="spacingAndGlyphs" stroke="#2a2a2a" stroke-width="0.09">10</text>
<text x="502.14" y="163.6" font-size="4" fill="#2a2a2a" textLength="5.45" lengthAdjust="spacingAndGlyphs" stroke="#2a2a2a" stroke-width="0.09">−5</text>
<line x1="544.2" y1="156.6" x2="544.2" y2="158.5" stroke="#222222" stroke-width="0.75"/>
<text x="538.1" y="166.2" font-size="5.72" fill="#2a2a2a" textLength="6.74" lengthAdjust="spacingAndGlyphs" stroke="#2a2a2a" stroke-width="0.09">10</text>
<text x="544.94" y="163.6" font-size="4" fill="#2a2a2a" textLength="5.45" lengthAdjust="spacingAndGlyphs" stroke="#2a2a2a" stroke-width="0.09">−4</text>
<line x1="586.5" y1="156.6" x2="586.5" y2="158.5" stroke="#222222" stroke-width="0.75"/>
<text x="580.4" y="166.2" font-size="5.72" fill="#2a2a2a" textLength="6.74" lengthAdjust="spacingAndGlyphs" stroke="#2a2a2a" stroke-width="0.09">10</text>
<text x="587.24" y="163.6" font-size="4" fill="#2a2a2a" textLength="5.45" lengthAdjust="spacingAndGlyphs" stroke="#2a2a2a" stroke-width="0.09">−3</text>
<line x1="628.6" y1="156.6" x2="628.6" y2="158.5" stroke="#222222" stroke-width="0.75"/>
<text x="622.5" y="166.2" font-size="5.72" fill="#2a2a2a" textLength="6.74" lengthAdjust="spacingAndGlyphs" stroke="#2a2a2a" stroke-width="0.09">10</text>
<text x="629.34" y="163.6" font-size="4" fill="#2a2a2a" textLength="5.45" lengthAdjust="spacingAndGlyphs" stroke="#2a2a2a" stroke-width="0.09">−2</text>
<line x1="671.2" y1="156.6" x2="671.2" y2="158.5" stroke="#222222" stroke-width="0.75"/>
<text x="665.1" y="166.2" font-size="5.72" fill="#2a2a2a" textLength="6.74" lengthAdjust="spacingAndGlyphs" stroke="#2a2a2a" stroke-width="0.09">10</text>
<text x="671.94" y="163.6" font-size="4" fill="#2a2a2a" textLength="5.45" lengthAdjust="spacingAndGlyphs" stroke="#2a2a2a" stroke-width="0.09">−1</text>
<line x1="484.51" y1="156.6" x2="484.51" y2="157.7" stroke="#222222" stroke-width="0.5"/>
<line x1="488.62" y1="156.6" x2="488.62" y2="157.7" stroke="#222222" stroke-width="0.5"/>
<line x1="491.98" y1="156.6" x2="491.98" y2="157.7" stroke="#222222" stroke-width="0.5"/>
<line x1="494.82" y1="156.6" x2="494.82" y2="157.7" stroke="#222222" stroke-width="0.5"/>
<line x1="497.29" y1="156.6" x2="497.29" y2="157.7" stroke="#222222" stroke-width="0.5"/>
<line x1="499.46" y1="156.6" x2="499.46" y2="157.7" stroke="#222222" stroke-width="0.5"/>
<line x1="514.18" y1="156.6" x2="514.18" y2="157.7" stroke="#222222" stroke-width="0.5"/>
<line x1="521.65" y1="156.6" x2="521.65" y2="157.7" stroke="#222222" stroke-width="0.5"/>
<line x1="526.96" y1="156.6" x2="526.96" y2="157.7" stroke="#222222" stroke-width="0.5"/>
<line x1="531.07" y1="156.6" x2="531.07" y2="157.7" stroke="#222222" stroke-width="0.5"/>
<line x1="534.43" y1="156.6" x2="534.43" y2="157.7" stroke="#222222" stroke-width="0.5"/>
<line x1="537.27" y1="156.6" x2="537.27" y2="157.7" stroke="#222222" stroke-width="0.5"/>
<line x1="539.74" y1="156.6" x2="539.74" y2="157.7" stroke="#222222" stroke-width="0.5"/>
<line x1="541.91" y1="156.6" x2="541.91" y2="157.7" stroke="#222222" stroke-width="0.5"/>
<line x1="556.63" y1="156.6" x2="556.63" y2="157.7" stroke="#222222" stroke-width="0.5"/>
<line x1="564.1" y1="156.6" x2="564.1" y2="157.7" stroke="#222222" stroke-width="0.5"/>
<line x1="569.41" y1="156.6" x2="569.41" y2="157.7" stroke="#222222" stroke-width="0.5"/>
<line x1="573.52" y1="156.6" x2="573.52" y2="157.7" stroke="#222222" stroke-width="0.5"/>
<line x1="576.88" y1="156.6" x2="576.88" y2="157.7" stroke="#222222" stroke-width="0.5"/>
<line x1="579.72" y1="156.6" x2="579.72" y2="157.7" stroke="#222222" stroke-width="0.5"/>
<line x1="582.19" y1="156.6" x2="582.19" y2="157.7" stroke="#222222" stroke-width="0.5"/>
<line x1="584.36" y1="156.6" x2="584.36" y2="157.7" stroke="#222222" stroke-width="0.5"/>
<line x1="599.08" y1="156.6" x2="599.08" y2="157.7" stroke="#222222" stroke-width="0.5"/>
<line x1="606.55" y1="156.6" x2="606.55" y2="157.7" stroke="#222222" stroke-width="0.5"/>
<line x1="611.86" y1="156.6" x2="611.86" y2="157.7" stroke="#222222" stroke-width="0.5"/>
<line x1="615.97" y1="156.6" x2="615.97" y2="157.7" stroke="#222222" stroke-width="0.5"/>
<line x1="619.33" y1="156.6" x2="619.33" y2="157.7" stroke="#222222" stroke-width="0.5"/>
<line x1="622.17" y1="156.6" x2="622.17" y2="157.7" stroke="#222222" stroke-width="0.5"/>
<line x1="624.64" y1="156.6" x2="624.64" y2="157.7" stroke="#222222" stroke-width="0.5"/>
<line x1="626.81" y1="156.6" x2="626.81" y2="157.7" stroke="#222222" stroke-width="0.5"/>
<line x1="641.53" y1="156.6" x2="641.53" y2="157.7" stroke="#222222" stroke-width="0.5"/>
<line x1="649" y1="156.6" x2="649" y2="157.7" stroke="#222222" stroke-width="0.5"/>
<line x1="654.31" y1="156.6" x2="654.31" y2="157.7" stroke="#222222" stroke-width="0.5"/>
<line x1="658.42" y1="156.6" x2="658.42" y2="157.7" stroke="#222222" stroke-width="0.5"/>
<line x1="661.78" y1="156.6" x2="661.78" y2="157.7" stroke="#222222" stroke-width="0.5"/>
<line x1="664.62" y1="156.6" x2="664.62" y2="157.7" stroke="#222222" stroke-width="0.5"/>
<line x1="667.09" y1="156.6" x2="667.09" y2="157.7" stroke="#222222" stroke-width="0.5"/>
<line x1="669.26" y1="156.6" x2="669.26" y2="157.7" stroke="#222222" stroke-width="0.5"/>
<text x="583" y="174.2" font-size="5.72" fill="#2a2a2a" text-anchor="middle" textLength="33.7" lengthAdjust="spacingAndGlyphs" stroke="#2a2a2a" stroke-width="0.09">wallDistance</text>
<text x="469" y="83.9" font-size="5.72" fill="#2a2a2a" text-anchor="middle" textLength="9.67" lengthAdjust="spacingAndGlyphs" stroke="#2a2a2a" stroke-width="0.09" transform="rotate(-90 469 83.9)">U_x</text>
<text x="583.5" y="5.3" font-size="7.13" fill="#2a2a2a" text-anchor="middle" textLength="53.52" lengthAdjust="spacingAndGlyphs" stroke="#2a2a2a" stroke-width="0.09">x = 0.38738766</text>
<rect x="487" y="11.7" width="48.2" height="17.6" rx="1.2" fill="#ffffff" fill-opacity="0.8" stroke="#d0d0d0" stroke-width="0.5"/>
<line x1="489.2" y1="15.8" x2="500.9" y2="15.8" stroke="#1f77b4" stroke-width="0.75"/>
<line x1="489.2" y1="24" x2="500.9" y2="24" stroke="#ff7f0e" stroke-width="0.75"/>
<text x="505.3" y="17.7" font-size="5.72" fill="#2a2a2a" textLength="13.05" lengthAdjust="spacingAndGlyphs" stroke="#2a2a2a" stroke-width="0.09">truth</text>
<text x="505.3" y="25.9" font-size="5.72" fill="#2a2a2a" textLength="26.59" lengthAdjust="spacingAndGlyphs" stroke="#2a2a2a" stroke-width="0.09">prediction</text>
</g>
<g id="line2">
<rect x="488.8" y="258.5" width="193.9" height="143.9" fill="#ffffff"/>
<line x1="505.8" y1="258.5" x2="505.8" y2="402.4" stroke="#9a9a9a" stroke-width="0.75"/>
<line x1="547" y1="258.5" x2="547" y2="402.4" stroke="#c4c4c4" stroke-width="0.6"/>
<line x1="588.7" y1="258.5" x2="588.7" y2="402.4" stroke="#9a9a9a" stroke-width="0.75"/>
<line x1="630.7" y1="258.5" x2="630.7" y2="402.4" stroke="#c4c4c4" stroke-width="0.6"/>
<line x1="672.2" y1="258.5" x2="672.2" y2="402.4" stroke="#c4c4c4" stroke-width="0.6"/>
<line x1="488.8" y1="394.8" x2="682.7" y2="394.8" stroke="#c4c4c4" stroke-width="0.6"/>
<line x1="488.8" y1="376.35" x2="682.7" y2="376.35" stroke="#c4c4c4" stroke-width="0.6"/>
<line x1="488.8" y1="357.9" x2="682.7" y2="357.9" stroke="#c4c4c4" stroke-width="0.6"/>
<line x1="488.8" y1="339.45" x2="682.7" y2="339.45" stroke="#c4c4c4" stroke-width="0.6"/>
<line x1="488.8" y1="321" x2="682.7" y2="321" stroke="#c4c4c4" stroke-width="0.6"/>
<line x1="488.8" y1="302.55" x2="682.7" y2="302.55" stroke="#c4c4c4" stroke-width="0.6"/>
<line x1="488.8" y1="284.1" x2="682.7" y2="284.1" stroke="#c4c4c4" stroke-width="0.6"/>
<line x1="488.8" y1="265.65" x2="682.7" y2="265.65" stroke="#c4c4c4" stroke-width="0.6"/>
<clipPath id="cl2"><rect x="488.8" y="258.5" width="193.9" height="143.9"/></clipPath>
<g clip-path="url(#cl2)" fill="none" stroke-width="0.72" stroke-linejoin="round" stroke-linecap="round">
<path d="M497 394.7C500.22 394.72 510.17 394.7 516.3 394.8C522.43 394.9 528.25 395.13 533.8 395.3C539.35 395.47 545.22 395.75 549.6 395.8C553.98 395.85 557.18 395.78 560.1 395.6C563.02 395.42 564.53 395.08 567.1 394.7C569.67 394.32 571.9 393.9 575.5 393.3C579.1 392.7 584.62 391.97 588.7 391.1C592.78 390.23 596.35 389.42 600 388.1C603.65 386.78 607.38 385.18 610.6 383.2C613.82 381.22 616.83 378.98 619.3 376.2C621.77 373.42 623.65 369.87 625.4 366.5C627.15 363.13 628.48 359.78 629.8 356C631.12 352.22 632.33 347.3 633.3 343.8C634.27 340.3 634.72 339.8 635.6 335C636.48 330.2 637.52 322.12 638.6 315C639.68 307.88 641.08 298.42 642.1 292.3C643.12 286.18 643.83 282.23 644.7 278.3C645.57 274.37 646.42 270.83 647.3 268.7C648.18 266.57 648.53 266.18 650 265.5C651.47 264.82 653.62 264.6 656.1 264.6C658.58 264.6 662.57 265.15 664.9 265.5C667.23 265.85 668.58 266.17 670.1 266.7C671.62 267.23 673.35 268.37 674 268.7" stroke="#1f77b4"/>
<path d="M497 394.7C499.17 394.63 505.32 394.53 510 394.3C514.68 394.07 520.55 393.7 525.1 393.3C529.65 392.9 533.65 392.48 537.3 391.9C540.95 391.32 543.78 390.67 547 389.8C550.22 388.93 553.53 387.95 556.6 386.7C559.67 385.45 562.83 383.62 565.4 382.3C567.97 380.98 569.73 379.77 572 378.8C574.27 377.83 576.22 377.23 579 376.5C581.78 375.77 585.2 375.33 588.7 374.4C592.2 373.47 596.35 372.27 600 370.9C603.65 369.53 607.53 368.1 610.6 366.2C613.67 364.3 616.22 361.93 618.4 359.5C620.58 357.07 622.08 354.52 623.7 351.6C625.32 348.68 626.97 344.6 628.1 342C629.23 339.4 629.63 338.67 630.5 336C631.37 333.33 632.25 330.37 633.3 326C634.35 321.63 635.63 316 636.8 309.8C637.97 303.6 639.27 294.48 640.3 288.8C641.33 283.12 642.12 278.77 643 275.7C643.88 272.63 644.73 271.57 645.6 270.4C646.47 269.23 646.15 269.2 648.2 268.7C650.25 268.2 654.98 267.7 657.9 267.4C660.82 267.1 663.52 266.87 665.7 266.9C667.88 266.93 669.62 267.3 671 267.6C672.38 267.9 673.5 268.52 674 268.7" stroke="#ff7f0e"/>
</g>
<line x1="488.2" y1="258.5" x2="683.05" y2="258.5" stroke="#555555" stroke-width="0.7"/>
<line x1="488.2" y1="402.4" x2="683.05" y2="402.4" stroke="#555555" stroke-width="0.7"/>
<line x1="489" y1="258.5" x2="489" y2="402.4" stroke="#bdbdbd" stroke-width="1.6"/>
<line x1="682.7" y1="258.5" x2="682.7" y2="402.4" stroke="#555555" stroke-width="0.7"/>
<line x1="486.9" y1="394.8" x2="488.8" y2="394.8" stroke="#222222" stroke-width="0.75"/>
<text x="484.9" y="396.9" font-size="5.4" fill="#2a2a2a" text-anchor="end" textLength="7.95" lengthAdjust="spacingAndGlyphs" stroke="#2a2a2a" stroke-width="0.09">0.0</text>
<line x1="486.9" y1="376.35" x2="488.8" y2="376.35" stroke="#222222" stroke-width="0.75"/>
<text x="484.9" y="378.45" font-size="5.4" fill="#2a2a2a" text-anchor="end" textLength="7.95" lengthAdjust="spacingAndGlyphs" stroke="#2a2a2a" stroke-width="0.09">2.5</text>
<line x1="486.9" y1="357.9" x2="488.8" y2="357.9" stroke="#222222" stroke-width="0.75"/>
<text x="484.9" y="360" font-size="5.4" fill="#2a2a2a" text-anchor="end" textLength="7.95" lengthAdjust="spacingAndGlyphs" stroke="#2a2a2a" stroke-width="0.09">5.0</text>
<line x1="486.9" y1="339.45" x2="488.8" y2="339.45" stroke="#222222" stroke-width="0.75"/>
<text x="484.9" y="341.55" font-size="5.4" fill="#2a2a2a" text-anchor="end" textLength="7.95" lengthAdjust="spacingAndGlyphs" stroke="#2a2a2a" stroke-width="0.09">7.5</text>
<line x1="486.9" y1="321" x2="488.8" y2="321" stroke="#222222" stroke-width="0.75"/>
<text x="484.9" y="323.1" font-size="5.4" fill="#2a2a2a" text-anchor="end" textLength="11.13" lengthAdjust="spacingAndGlyphs" stroke="#2a2a2a" stroke-width="0.09">10.0</text>
<line x1="486.9" y1="302.55" x2="488.8" y2="302.55" stroke="#222222" stroke-width="0.75"/>
<text x="484.9" y="304.65" font-size="5.4" fill="#2a2a2a" text-anchor="end" textLength="11.13" lengthAdjust="spacingAndGlyphs" stroke="#2a2a2a" stroke-width="0.09">12.5</text>
<line x1="486.9" y1="284.1" x2="488.8" y2="284.1" stroke="#222222" stroke-width="0.75"/>
<text x="484.9" y="286.2" font-size="5.4" fill="#2a2a2a" text-anchor="end" textLength="11.13" lengthAdjust="spacingAndGlyphs" stroke="#2a2a2a" stroke-width="0.09">15.0</text>
<line x1="486.9" y1="265.65" x2="488.8" y2="265.65" stroke="#222222" stroke-width="0.75"/>
<text x="484.9" y="267.75" font-size="5.4" fill="#2a2a2a" text-anchor="end" textLength="11.13" lengthAdjust="spacingAndGlyphs" stroke="#2a2a2a" stroke-width="0.09">17.5</text>
<line x1="505.8" y1="402.4" x2="505.8" y2="404.3" stroke="#222222" stroke-width="0.75"/>
<text x="499.7" y="412.6" font-size="5.72" fill="#2a2a2a" textLength="6.74" lengthAdjust="spacingAndGlyphs" stroke="#2a2a2a" stroke-width="0.09">10</text>
<text x="506.54" y="410" font-size="4" fill="#2a2a2a" textLength="5.45" lengthAdjust="spacingAndGlyphs" stroke="#2a2a2a" stroke-width="0.09">−5</text>
<line x1="547" y1="402.4" x2="547" y2="404.3" stroke="#222222" stroke-width="0.75"/>
<text x="540.9" y="412.6" font-size="5.72" fill="#2a2a2a" textLength="6.74" lengthAdjust="spacingAndGlyphs" stroke="#2a2a2a" stroke-width="0.09">10</text>
<text x="547.74" y="410" font-size="4" fill="#2a2a2a" textLength="5.45" lengthAdjust="spacingAndGlyphs" stroke="#2a2a2a" stroke-width="0.09">−4</text>
<line x1="588.7" y1="402.4" x2="588.7" y2="404.3" stroke="#222222" stroke-width="0.75"/>
<text x="582.6" y="412.6" font-size="5.72" fill="#2a2a2a" textLength="6.74" lengthAdjust="spacingAndGlyphs" stroke="#2a2a2a" stroke-width="0.09">10</text>
<text x="589.44" y="410" font-size="4" fill="#2a2a2a" textLength="5.45" lengthAdjust="spacingAndGlyphs" stroke="#2a2a2a" stroke-width="0.09">−3</text>
<line x1="630.7" y1="402.4" x2="630.7" y2="404.3" stroke="#222222" stroke-width="0.75"/>
<text x="624.6" y="412.6" font-size="5.72" fill="#2a2a2a" textLength="6.74" lengthAdjust="spacingAndGlyphs" stroke="#2a2a2a" stroke-width="0.09">10</text>
<text x="631.44" y="410" font-size="4" fill="#2a2a2a" textLength="5.45" lengthAdjust="spacingAndGlyphs" stroke="#2a2a2a" stroke-width="0.09">−2</text>
<line x1="672.2" y1="402.4" x2="672.2" y2="404.3" stroke="#222222" stroke-width="0.75"/>
<text x="666.1" y="412.6" font-size="5.72" fill="#2a2a2a" textLength="6.74" lengthAdjust="spacingAndGlyphs" stroke="#2a2a2a" stroke-width="0.09">10</text>
<text x="672.94" y="410" font-size="4" fill="#2a2a2a" textLength="5.45" lengthAdjust="spacingAndGlyphs" stroke="#2a2a2a" stroke-width="0.09">−1</text>
<line x1="489.25" y1="402.4" x2="489.25" y2="403.5" stroke="#222222" stroke-width="0.5"/>
<line x1="493.28" y1="402.4" x2="493.28" y2="403.5" stroke="#222222" stroke-width="0.5"/>
<line x1="496.57" y1="402.4" x2="496.57" y2="403.5" stroke="#222222" stroke-width="0.5"/>
<line x1="499.36" y1="402.4" x2="499.36" y2="403.5" stroke="#222222" stroke-width="0.5"/>
<line x1="501.77" y1="402.4" x2="501.77" y2="403.5" stroke="#222222" stroke-width="0.5"/>
<line x1="503.9" y1="402.4" x2="503.9" y2="403.5" stroke="#222222" stroke-width="0.5"/>
<line x1="518.32" y1="402.4" x2="518.32" y2="403.5" stroke="#222222" stroke-width="0.5"/>
<line x1="525.65" y1="402.4" x2="525.65" y2="403.5" stroke="#222222" stroke-width="0.5"/>
<line x1="530.85" y1="402.4" x2="530.85" y2="403.5" stroke="#222222" stroke-width="0.5"/>
<line x1="534.88" y1="402.4" x2="534.88" y2="403.5" stroke="#222222" stroke-width="0.5"/>
<line x1="538.17" y1="402.4" x2="538.17" y2="403.5" stroke="#222222" stroke-width="0.5"/>
<line x1="540.96" y1="402.4" x2="540.96" y2="403.5" stroke="#222222" stroke-width="0.5"/>
<line x1="543.37" y1="402.4" x2="543.37" y2="403.5" stroke="#222222" stroke-width="0.5"/>
<line x1="545.5" y1="402.4" x2="545.5" y2="403.5" stroke="#222222" stroke-width="0.5"/>
<line x1="559.92" y1="402.4" x2="559.92" y2="403.5" stroke="#222222" stroke-width="0.5"/>
<line x1="567.25" y1="402.4" x2="567.25" y2="403.5" stroke="#222222" stroke-width="0.5"/>
<line x1="572.45" y1="402.4" x2="572.45" y2="403.5" stroke="#222222" stroke-width="0.5"/>
<line x1="576.48" y1="402.4" x2="576.48" y2="403.5" stroke="#222222" stroke-width="0.5"/>
<line x1="579.77" y1="402.4" x2="579.77" y2="403.5" stroke="#222222" stroke-width="0.5"/>
<line x1="582.56" y1="402.4" x2="582.56" y2="403.5" stroke="#222222" stroke-width="0.5"/>
<line x1="584.97" y1="402.4" x2="584.97" y2="403.5" stroke="#222222" stroke-width="0.5"/>
<line x1="587.1" y1="402.4" x2="587.1" y2="403.5" stroke="#222222" stroke-width="0.5"/>
<line x1="601.52" y1="402.4" x2="601.52" y2="403.5" stroke="#222222" stroke-width="0.5"/>
<line x1="608.85" y1="402.4" x2="608.85" y2="403.5" stroke="#222222" stroke-width="0.5"/>
<line x1="614.05" y1="402.4" x2="614.05" y2="403.5" stroke="#222222" stroke-width="0.5"/>
<line x1="618.08" y1="402.4" x2="618.08" y2="403.5" stroke="#222222" stroke-width="0.5"/>
<line x1="621.37" y1="402.4" x2="621.37" y2="403.5" stroke="#222222" stroke-width="0.5"/>
<line x1="624.16" y1="402.4" x2="624.16" y2="403.5" stroke="#222222" stroke-width="0.5"/>
<line x1="626.57" y1="402.4" x2="626.57" y2="403.5" stroke="#222222" stroke-width="0.5"/>
<line x1="628.7" y1="402.4" x2="628.7" y2="403.5" stroke="#222222" stroke-width="0.5"/>
<line x1="643.12" y1="402.4" x2="643.12" y2="403.5" stroke="#222222" stroke-width="0.5"/>
<line x1="650.45" y1="402.4" x2="650.45" y2="403.5" stroke="#222222" stroke-width="0.5"/>
<line x1="655.65" y1="402.4" x2="655.65" y2="403.5" stroke="#222222" stroke-width="0.5"/>
<line x1="659.68" y1="402.4" x2="659.68" y2="403.5" stroke="#222222" stroke-width="0.5"/>
<line x1="662.97" y1="402.4" x2="662.97" y2="403.5" stroke="#222222" stroke-width="0.5"/>
<line x1="665.76" y1="402.4" x2="665.76" y2="403.5" stroke="#222222" stroke-width="0.5"/>
<line x1="668.17" y1="402.4" x2="668.17" y2="403.5" stroke="#222222" stroke-width="0.5"/>
<line x1="670.3" y1="402.4" x2="670.3" y2="403.5" stroke="#222222" stroke-width="0.5"/>
<text x="585.5" y="420.1" font-size="5.72" fill="#2a2a2a" text-anchor="middle" textLength="33.7" lengthAdjust="spacingAndGlyphs" stroke="#2a2a2a" stroke-width="0.09">wallDistance</text>
<text x="469.4" y="331.5" font-size="5.72" fill="#2a2a2a" text-anchor="middle" textLength="9.67" lengthAdjust="spacingAndGlyphs" stroke="#2a2a2a" stroke-width="0.09" transform="rotate(-90 469.4 331.5)">U_x</text>
<text x="585.75" y="255.2" font-size="7.13" fill="#2a2a2a" text-anchor="middle" textLength="53.52" lengthAdjust="spacingAndGlyphs" stroke="#2a2a2a" stroke-width="0.09">x = 0.38738766</text>
<rect x="491.4" y="261.1" width="46.8" height="18.1" rx="1.2" fill="#ffffff" fill-opacity="0.8" stroke="#d0d0d0" stroke-width="0.5"/>
<line x1="493.5" y1="265.7" x2="504.9" y2="265.7" stroke="#1f77b4" stroke-width="0.75"/>
<line x1="493.5" y1="273.6" x2="504.9" y2="273.6" stroke="#ff7f0e" stroke-width="0.75"/>
<text x="509.3" y="267.6" font-size="5.72" fill="#2a2a2a" textLength="13.05" lengthAdjust="spacingAndGlyphs" stroke="#2a2a2a" stroke-width="0.09">truth</text>
<text x="509.3" y="275.5" font-size="5.72" fill="#2a2a2a" textLength="26.59" lengthAdjust="spacingAndGlyphs" stroke="#2a2a2a" stroke-width="0.09">prediction</text>
</g>
<g id="line3">
<rect x="488.8" y="504.5" width="193.9" height="143.8" fill="#ffffff"/>
<line x1="505.8" y1="504.5" x2="505.8" y2="648.3" stroke="#9a9a9a" stroke-width="0.75"/>
<line x1="547" y1="504.5" x2="547" y2="648.3" stroke="#c4c4c4" stroke-width="0.6"/>
<line x1="588.7" y1="504.5" x2="588.7" y2="648.3" stroke="#9a9a9a" stroke-width="0.75"/>
<line x1="630.7" y1="504.5" x2="630.7" y2="648.3" stroke="#c4c4c4" stroke-width="0.6"/>
<line x1="672.2" y1="504.5" x2="672.2" y2="648.3" stroke="#c4c4c4" stroke-width="0.6"/>
<line x1="488.8" y1="641.8" x2="682.7" y2="641.8" stroke="#c4c4c4" stroke-width="0.6"/>
<line x1="488.8" y1="625.02" x2="682.7" y2="625.02" stroke="#c4c4c4" stroke-width="0.6"/>
<line x1="488.8" y1="608.25" x2="682.7" y2="608.25" stroke="#c4c4c4" stroke-width="0.6"/>
<line x1="488.8" y1="591.47" x2="682.7" y2="591.47" stroke="#c4c4c4" stroke-width="0.6"/>
<line x1="488.8" y1="574.7" x2="682.7" y2="574.7" stroke="#c4c4c4" stroke-width="0.6"/>
<line x1="488.8" y1="557.92" x2="682.7" y2="557.92" stroke="#c4c4c4" stroke-width="0.6"/>
<line x1="488.8" y1="541.15" x2="682.7" y2="541.15" stroke="#c4c4c4" stroke-width="0.6"/>
<line x1="488.8" y1="524.38" x2="682.7" y2="524.38" stroke="#c4c4c4" stroke-width="0.6"/>
<line x1="488.8" y1="507.6" x2="682.7" y2="507.6" stroke="#c4c4c4" stroke-width="0.6"/>
<clipPath id="cl3"><rect x="488.8" y="504.5" width="193.9" height="143.8"/></clipPath>
<g clip-path="url(#cl3)" fill="none" stroke-width="0.72" stroke-linejoin="round" stroke-linecap="round">
<path d="M497 641.8C502.5 641.8 521.23 641.82 530 641.8C538.77 641.78 544.58 641.93 549.6 641.7C554.62 641.47 557.18 640.9 560.1 640.4C563.02 639.9 564.53 639.18 567.1 638.7C569.67 638.22 571.9 638.08 575.5 637.5C579.1 636.92 584.62 636.08 588.7 635.2C592.78 634.32 596.35 633.52 600 632.2C603.65 630.88 607.38 629.43 610.6 627.3C613.82 625.17 616.83 622.32 619.3 619.4C621.77 616.48 623.65 613.3 625.4 609.8C627.15 606.3 628.48 602.2 629.8 598.4C631.12 594.6 632.42 590.07 633.3 587C634.18 583.93 634.52 583.03 635.1 580C635.68 576.97 635.93 574.75 636.8 568.8C637.67 562.85 639.27 551.02 640.3 544.3C641.33 537.58 642.12 533.02 643 528.5C643.88 523.98 644.73 519.88 645.6 517.2C646.47 514.52 647.18 513.43 648.2 512.4C649.22 511.37 650.08 511.32 651.7 511C653.32 510.68 655.7 510.5 657.9 510.5C660.1 510.5 662.87 510.72 664.9 511C666.93 511.28 668.58 511.73 670.1 512.2C671.62 512.67 673.35 513.53 674 513.8" stroke="#1f77b4"/>
<path d="M497 641.8C499.17 641.73 505.32 641.63 510 641.4C514.68 641.17 520.55 640.85 525.1 640.4C529.65 639.95 533.65 639.42 537.3 638.7C540.95 637.98 543.78 637.22 547 636.1C550.22 634.98 553.53 633.57 556.6 632C559.67 630.43 562.83 628.22 565.4 626.7C567.97 625.18 569.73 624.03 572 622.9C574.27 621.77 576.22 620.72 579 619.9C581.78 619.08 585.2 618.87 588.7 618C592.2 617.13 596.35 616.07 600 614.7C603.65 613.33 607.67 611.55 610.6 609.8C613.53 608.05 615.42 606.53 617.6 604.2C619.78 601.87 621.95 598.82 623.7 595.8C625.45 592.78 627.05 588.57 628.1 586.1C629.15 583.63 629.28 583.27 630 581C630.72 578.73 631.55 575.98 632.4 572.5C633.25 569.02 634.07 565.38 635.1 560.1C636.13 554.82 637.43 546.65 638.6 540.8C639.77 534.95 641.08 528.8 642.1 525C643.12 521.2 643.83 519.53 644.7 518C645.57 516.47 645.7 516.38 647.3 515.8C648.9 515.22 651.95 514.95 654.3 514.5C656.65 514.05 659.05 513.38 661.4 513.1C663.75 512.82 666.3 512.62 668.4 512.8C670.5 512.98 673.07 513.97 674 514.2" stroke="#ff7f0e"/>
</g>
<line x1="488.2" y1="504.5" x2="683.05" y2="504.5" stroke="#555555" stroke-width="0.7"/>
<line x1="488.2" y1="648.3" x2="683.05" y2="648.3" stroke="#555555" stroke-width="0.7"/>
<line x1="489" y1="504.5" x2="489" y2="648.3" stroke="#bdbdbd" stroke-width="1.6"/>
<line x1="682.7" y1="504.5" x2="682.7" y2="648.3" stroke="#555555" stroke-width="0.7"/>
<line x1="486.9" y1="641.8" x2="488.8" y2="641.8" stroke="#222222" stroke-width="0.75"/>
<text x="484.9" y="643.9" font-size="5.4" fill="#2a2a2a" text-anchor="end" textLength="7.95" lengthAdjust="spacingAndGlyphs" stroke="#2a2a2a" stroke-width="0.09">0.0</text>
<line x1="486.9" y1="625.02" x2="488.8" y2="625.02" stroke="#222222" stroke-width="0.75"/>
<text x="484.9" y="627.12" font-size="5.4" fill="#2a2a2a" text-anchor="end" textLength="7.95" lengthAdjust="spacingAndGlyphs" stroke="#2a2a2a" stroke-width="0.09">2.5</text>
<line x1="486.9" y1="608.25" x2="488.8" y2="608.25" stroke="#222222" stroke-width="0.75"/>
<text x="484.9" y="610.35" font-size="5.4" fill="#2a2a2a" text-anchor="end" textLength="7.95" lengthAdjust="spacingAndGlyphs" stroke="#2a2a2a" stroke-width="0.09">5.0</text>
<line x1="486.9" y1="591.47" x2="488.8" y2="591.47" stroke="#222222" stroke-width="0.75"/>
<text x="484.9" y="593.57" font-size="5.4" fill="#2a2a2a" text-anchor="end" textLength="7.95" lengthAdjust="spacingAndGlyphs" stroke="#2a2a2a" stroke-width="0.09">7.5</text>
<line x1="486.9" y1="574.7" x2="488.8" y2="574.7" stroke="#222222" stroke-width="0.75"/>
<text x="484.9" y="576.8" font-size="5.4" fill="#2a2a2a" text-anchor="end" textLength="11.13" lengthAdjust="spacingAndGlyphs" stroke="#2a2a2a" stroke-width="0.09">10.0</text>
<line x1="486.9" y1="557.92" x2="488.8" y2="557.92" stroke="#222222" stroke-width="0.75"/>
<text x="484.9" y="560.02" font-size="5.4" fill="#2a2a2a" text-anchor="end" textLength="11.13" lengthAdjust="spacingAndGlyphs" stroke="#2a2a2a" stroke-width="0.09">12.5</text>
<line x1="486.9" y1="541.15" x2="488.8" y2="541.15" stroke="#222222" stroke-width="0.75"/>
<text x="484.9" y="543.25" font-size="5.4" fill="#2a2a2a" text-anchor="end" textLength="11.13" lengthAdjust="spacingAndGlyphs" stroke="#2a2a2a" stroke-width="0.09">15.0</text>
<line x1="486.9" y1="524.38" x2="488.8" y2="524.38" stroke="#222222" stroke-width="0.75"/>
<text x="484.9" y="526.48" font-size="5.4" fill="#2a2a2a" text-anchor="end" textLength="11.13" lengthAdjust="spacingAndGlyphs" stroke="#2a2a2a" stroke-width="0.09">17.5</text>
<line x1="486.9" y1="507.6" x2="488.8" y2="507.6" stroke="#222222" stroke-width="0.75"/>
<text x="484.9" y="509.7" font-size="5.4" fill="#2a2a2a" text-anchor="end" textLength="11.13" lengthAdjust="spacingAndGlyphs" stroke="#2a2a2a" stroke-width="0.09">20.0</text>
<line x1="505.8" y1="648.3" x2="505.8" y2="650.2" stroke="#222222" stroke-width="0.75"/>
<text x="499.7" y="658.2" font-size="5.72" fill="#2a2a2a" textLength="6.74" lengthAdjust="spacingAndGlyphs" stroke="#2a2a2a" stroke-width="0.09">10</text>
<text x="506.54" y="655.6" font-size="4" fill="#2a2a2a" textLength="5.45" lengthAdjust="spacingAndGlyphs" stroke="#2a2a2a" stroke-width="0.09">−5</text>
<line x1="547" y1="648.3" x2="547" y2="650.2" stroke="#222222" stroke-width="0.75"/>
<text x="540.9" y="658.2" font-size="5.72" fill="#2a2a2a" textLength="6.74" lengthAdjust="spacingAndGlyphs" stroke="#2a2a2a" stroke-width="0.09">10</text>
<text x="547.74" y="655.6" font-size="4" fill="#2a2a2a" textLength="5.45" lengthAdjust="spacingAndGlyphs" stroke="#2a2a2a" stroke-width="0.09">−4</text>
<line x1="588.7" y1="648.3" x2="588.7" y2="650.2" stroke="#222222" stroke-width="0.75"/>
<text x="582.6" y="658.2" font-size="5.72" fill="#2a2a2a" textLength="6.74" lengthAdjust="spacingAndGlyphs" stroke="#2a2a2a" stroke-width="0.09">10</text>
<text x="589.44" y="655.6" font-size="4" fill="#2a2a2a" textLength="5.45" lengthAdjust="spacingAndGlyphs" stroke="#2a2a2a" stroke-width="0.09">−3</text>
<line x1="630.7" y1="648.3" x2="630.7" y2="650.2" stroke="#222222" stroke-width="0.75"/>
<text x="624.6" y="658.2" font-size="5.72" fill="#2a2a2a" textLength="6.74" lengthAdjust="spacingAndGlyphs" stroke="#2a2a2a" stroke-width="0.09">10</text>
<text x="631.44" y="655.6" font-size="4" fill="#2a2a2a" textLength="5.45" lengthAdjust="spacingAndGlyphs" stroke="#2a2a2a" stroke-width="0.09">−2</text>
<line x1="672.2" y1="648.3" x2="672.2" y2="650.2" stroke="#222222" stroke-width="0.75"/>
<text x="666.1" y="658.2" font-size="5.72" fill="#2a2a2a" textLength="6.74" lengthAdjust="spacingAndGlyphs" stroke="#2a2a2a" stroke-width="0.09">10</text>
<text x="672.94" y="655.6" font-size="4" fill="#2a2a2a" textLength="5.45" lengthAdjust="spacingAndGlyphs" stroke="#2a2a2a" stroke-width="0.09">−1</text>
<line x1="489.25" y1="648.3" x2="489.25" y2="649.4" stroke="#222222" stroke-width="0.5"/>
<line x1="493.28" y1="648.3" x2="493.28" y2="649.4" stroke="#222222" stroke-width="0.5"/>
<line x1="496.57" y1="648.3" x2="496.57" y2="649.4" stroke="#222222" stroke-width="0.5"/>
<line x1="499.36" y1="648.3" x2="499.36" y2="649.4" stroke="#222222" stroke-width="0.5"/>
<line x1="501.77" y1="648.3" x2="501.77" y2="649.4" stroke="#222222" stroke-width="0.5"/>
<line x1="503.9" y1="648.3" x2="503.9" y2="649.4" stroke="#222222" stroke-width="0.5"/>
<line x1="518.32" y1="648.3" x2="518.32" y2="649.4" stroke="#222222" stroke-width="0.5"/>
<line x1="525.65" y1="648.3" x2="525.65" y2="649.4" stroke="#222222" stroke-width="0.5"/>
<line x1="530.85" y1="648.3" x2="530.85" y2="649.4" stroke="#222222" stroke-width="0.5"/>
<line x1="534.88" y1="648.3" x2="534.88" y2="649.4" stroke="#222222" stroke-width="0.5"/>
<line x1="538.17" y1="648.3" x2="538.17" y2="649.4" stroke="#222222" stroke-width="0.5"/>
<line x1="540.96" y1="648.3" x2="540.96" y2="649.4" stroke="#222222" stroke-width="0.5"/>
<line x1="543.37" y1="648.3" x2="543.37" y2="649.4" stroke="#222222" stroke-width="0.5"/>
<line x1="545.5" y1="648.3" x2="545.5" y2="649.4" stroke="#222222" stroke-width="0.5"/>
<line x1="559.92" y1="648.3" x2="559.92" y2="649.4" stroke="#222222" stroke-width="0.5"/>
<line x1="567.25" y1="648.3" x2="567.25" y2="649.4" stroke="#222222" stroke-width="0.5"/>
<line x1="572.45" y1="648.3" x2="572.45" y2="649.4" stroke="#222222" stroke-width="0.5"/>
<line x1="576.48" y1="648.3" x2="576.48" y2="649.4" stroke="#222222" stroke-width="0.5"/>
<line x1="579.77" y1="648.3" x2="579.77" y2="649.4" stroke="#222222" stroke-width="0.5"/>
<line x1="582.56" y1="648.3" x2="582.56" y2="649.4" stroke="#222222" stroke-width="0.5"/>
<line x1="584.97" y1="648.3" x2="584.97" y2="649.4" stroke="#222222" stroke-width="0.5"/>
<line x1="587.1" y1="648.3" x2="587.1" y2="649.4" stroke="#222222" stroke-width="0.5"/>
<line x1="601.52" y1="648.3" x2="601.52" y2="649.4" stroke="#222222" stroke-width="0.5"/>
<line x1="608.85" y1="648.3" x2="608.85" y2="649.4" stroke="#222222" stroke-width="0.5"/>
<line x1="614.05" y1="648.3" x2="614.05" y2="649.4" stroke="#222222" stroke-width="0.5"/>
<line x1="618.08" y1="648.3" x2="618.08" y2="649.4" stroke="#222222" stroke-width="0.5"/>
<line x1="621.37" y1="648.3" x2="621.37" y2="649.4" stroke="#222222" stroke-width="0.5"/>
<line x1="624.16" y1="648.3" x2="624.16" y2="649.4" stroke="#222222" stroke-width="0.5"/>
<line x1="626.57" y1="648.3" x2="626.57" y2="649.4" stroke="#222222" stroke-width="0.5"/>
<line x1="628.7" y1="648.3" x2="628.7" y2="649.4" stroke="#222222" stroke-width="0.5"/>
<line x1="643.12" y1="648.3" x2="643.12" y2="649.4" stroke="#222222" stroke-width="0.5"/>
<line x1="650.45" y1="648.3" x2="650.45" y2="649.4" stroke="#222222" stroke-width="0.5"/>
<line x1="655.65" y1="648.3" x2="655.65" y2="649.4" stroke="#222222" stroke-width="0.5"/>
<line x1="659.68" y1="648.3" x2="659.68" y2="649.4" stroke="#222222" stroke-width="0.5"/>
<line x1="662.97" y1="648.3" x2="662.97" y2="649.4" stroke="#222222" stroke-width="0.5"/>
<line x1="665.76" y1="648.3" x2="665.76" y2="649.4" stroke="#222222" stroke-width="0.5"/>
<line x1="668.17" y1="648.3" x2="668.17" y2="649.4" stroke="#222222" stroke-width="0.5"/>
<line x1="670.3" y1="648.3" x2="670.3" y2="649.4" stroke="#222222" stroke-width="0.5"/>
<text x="585.5" y="666.3" font-size="5.72" fill="#2a2a2a" text-anchor="middle" textLength="33.7" lengthAdjust="spacingAndGlyphs" stroke="#2a2a2a" stroke-width="0.09">wallDistance</text>
<text x="468.9" y="578.3" font-size="5.72" fill="#2a2a2a" text-anchor="middle" textLength="9.67" lengthAdjust="spacingAndGlyphs" stroke="#2a2a2a" stroke-width="0.09" transform="rotate(-90 468.9 578.3)">U_x</text>
<text x="585.75" y="501.1" font-size="7.13" fill="#2a2a2a" text-anchor="middle" textLength="53.52" lengthAdjust="spacingAndGlyphs" stroke="#2a2a2a" stroke-width="0.09">x = 0.38738766</text>
<rect x="491.4" y="506.6" width="46.8" height="18.4" rx="1.2" fill="#ffffff" fill-opacity="0.8" stroke="#d0d0d0" stroke-width="0.5"/>
<line x1="493.5" y1="511.5" x2="504.9" y2="511.5" stroke="#1f77b4" stroke-width="0.75"/>
<line x1="493.5" y1="519.4" x2="504.9" y2="519.4" stroke="#ff7f0e" stroke-width="0.75"/>
<text x="509.3" y="513.4" font-size="5.72" fill="#2a2a2a" textLength="13.05" lengthAdjust="spacingAndGlyphs" stroke="#2a2a2a" stroke-width="0.09">truth</text>
<text x="509.3" y="521.3" font-size="5.72" fill="#2a2a2a" textLength="26.59" lengthAdjust="spacingAndGlyphs" stroke="#2a2a2a" stroke-width="0.09">prediction</text>
</g>
<g class="caption">
<text x="-0.2" y="204.5" font-size="17.3" fill="#111111" textLength="20" lengthAdjust="spacingAndGlyphs" font-family="Liberation Serif" stroke="#111111" stroke-width="0.32">(a)</text>
<text x="37.3" y="204.5" font-size="17.3" fill="#111111" textLength="47.3" lengthAdjust="spacingAndGlyphs" font-family="Liberation Serif" stroke="#111111" stroke-width="0.32">Model</text>
<text x="100.4" y="204.5" font-size="17.3" fill="#111111" textLength="92.1" lengthAdjust="spacingAndGlyphs" font-family="Liberation Serif" stroke="#111111" stroke-width="0.32">performance</text>
<text x="209" y="204.5" font-size="17.3" fill="#111111" textLength="14.3" lengthAdjust="spacingAndGlyphs" font-family="Liberation Serif" stroke="#111111" stroke-width="0.32">at</text>
<text x="-0.2" y="224.8" font-size="17.3" fill="#111111" textLength="19.1" lengthAdjust="spacingAndGlyphs" font-family="Liberation Serif" stroke="#111111" stroke-width="0.32">Re</text>
<text x="19.9" y="227.8" font-size="14.6" fill="#111111" textLength="10.9" lengthAdjust="spacingAndGlyphs" font-family="Liberation Serif" font-style="italic" stroke="#111111" stroke-width="0.32">C</text>
<text x="37.65" y="226" font-size="13" fill="#111111" textLength="13.71" lengthAdjust="spacingAndGlyphs" font-family="Liberation Serif" stroke="#111111" stroke-width="0.42">=</text>
<text x="57.3" y="224.8" font-size="17.3" fill="#111111" textLength="30.36" lengthAdjust="spacingAndGlyphs" font-family="Liberation Serif" stroke="#111111" stroke-width="0.32">1.73</text>
<text x="87.11" y="224.8" font-size="17.3" fill="#111111" textLength="8.69" lengthAdjust="spacingAndGlyphs" font-family="Liberation Serif" font-style="italic" stroke="#111111" stroke-width="0.32">e</text>
<text x="99.05" y="227.9" font-size="23" fill="#111111" textLength="13.71" lengthAdjust="spacingAndGlyphs" font-family="Liberation Serif" stroke="#111111" stroke-width="0.06">+</text>
<text x="116.4" y="224.8" font-size="17.3" fill="#111111" textLength="8.7" lengthAdjust="spacingAndGlyphs" font-family="Liberation Serif" stroke="#111111" stroke-width="0.32">5</text>
<text x="230.8" y="204.5" font-size="17.3" fill="#111111" textLength="21" lengthAdjust="spacingAndGlyphs" font-family="Liberation Serif" stroke="#111111" stroke-width="0.32">(b)</text>
<text x="257.1" y="204.5" font-size="17.3" fill="#111111" textLength="74.6" lengthAdjust="spacingAndGlyphs" font-family="Liberation Serif" stroke="#111111" stroke-width="0.32">x-Velocity</text>
<text x="337.3" y="204.5" font-size="17.3" fill="#111111" textLength="60.9" lengthAdjust="spacingAndGlyphs" font-family="Liberation Serif" stroke="#111111" stroke-width="0.32">Contour</text>
<text x="403.2" y="204.5" font-size="17.3" fill="#111111" textLength="14.3" lengthAdjust="spacingAndGlyphs" font-family="Liberation Serif" stroke="#111111" stroke-width="0.32">at</text>
<text x="422.5" y="204.5" font-size="17.3" fill="#111111" textLength="19.6" lengthAdjust="spacingAndGlyphs" font-family="Liberation Serif" stroke="#111111" stroke-width="0.32">Re</text>
<text x="442.9" y="207.5" font-size="14.6" fill="#111111" textLength="11.2" lengthAdjust="spacingAndGlyphs" font-family="Liberation Serif" font-style="italic" stroke="#111111" stroke-width="0.32">C</text>
<text x="229.83" y="226" font-size="13" fill="#111111" textLength="14.04" lengthAdjust="spacingAndGlyphs" font-family="Liberation Serif" stroke="#111111" stroke-width="0.42">=</text>
<text x="249" y="224.8" font-size="17.3" fill="#111111" textLength="31.22" lengthAdjust="spacingAndGlyphs" font-family="Liberation Serif" stroke="#111111" stroke-width="0.32">1.73</text>
<text x="279.69" y="224.8" font-size="17.3" fill="#111111" textLength="8.91" lengthAdjust="spacingAndGlyphs" font-family="Liberation Serif" font-style="italic" stroke="#111111" stroke-width="0.32">e</text>
<text x="291.41" y="227.9" font-size="23" fill="#111111" textLength="14.38" lengthAdjust="spacingAndGlyphs" font-family="Liberation Serif" stroke="#111111" stroke-width="0.06">+</text>
<text x="309" y="224.8" font-size="17.3" fill="#111111" textLength="8.7" lengthAdjust="spacingAndGlyphs" font-family="Liberation Serif" stroke="#111111" stroke-width="0.32">5</text>
<text x="462" y="204.5" font-size="17.3" fill="#111111" textLength="19.6" lengthAdjust="spacingAndGlyphs" font-family="Liberation Serif" stroke="#111111" stroke-width="0.32">(c)</text>
<text x="489" y="204.5" font-size="17.3" fill="#111111" textLength="75.6" lengthAdjust="spacingAndGlyphs" font-family="Liberation Serif" stroke="#111111" stroke-width="0.32">y-Velocity</text>
<text x="571.8" y="204.5" font-size="17.3" fill="#111111" textLength="14.4" lengthAdjust="spacingAndGlyphs" font-family="Liberation Serif" stroke="#111111" stroke-width="0.32">at</text>
<text x="595.9" y="204.5" font-size="17.3" fill="#111111" textLength="9" lengthAdjust="spacingAndGlyphs" font-family="Liberation Serif" stroke="#111111" stroke-width="0.32">x</text>
<text x="611.54" y="205.7" font-size="13" fill="#111111" textLength="13.82" lengthAdjust="spacingAndGlyphs" font-family="Liberation Serif" stroke="#111111" stroke-width="0.42">=</text>
<text x="632.7" y="204.5" font-size="17.3" fill="#111111" textLength="30" lengthAdjust="spacingAndGlyphs" font-family="Liberation Serif" stroke="#111111" stroke-width="0.32">0.38</text>
<text x="671.5" y="204.5" font-size="17.3" fill="#111111" textLength="14.3" lengthAdjust="spacingAndGlyphs" font-family="Liberation Serif" stroke="#111111" stroke-width="0.32">at</text>
<text x="462" y="224.8" font-size="17.3" fill="#111111" textLength="19.7" lengthAdjust="spacingAndGlyphs" font-family="Liberation Serif" stroke="#111111" stroke-width="0.32">Re</text>
<text x="482.3" y="227.8" font-size="14.6" fill="#111111" textLength="10.8" lengthAdjust="spacingAndGlyphs" font-family="Liberation Serif" font-style="italic" stroke="#111111" stroke-width="0.32">C</text>
<text x="500.25" y="226" font-size="13" fill="#111111" textLength="13.71" lengthAdjust="spacingAndGlyphs" font-family="Liberation Serif" stroke="#111111" stroke-width="0.42">=</text>
<text x="518.7" y="224.8" font-size="17.3" fill="#111111" textLength="30.44" lengthAdjust="spacingAndGlyphs" font-family="Liberation Serif" stroke="#111111" stroke-width="0.32">1.73</text>
<text x="548.59" y="224.8" font-size="17.3" fill="#111111" textLength="8.71" lengthAdjust="spacingAndGlyphs" font-family="Liberation Serif" font-style="italic" stroke="#111111" stroke-width="0.32">e</text>
<text x="561.2" y="227.9" font-size="23" fill="#111111" textLength="14.61" lengthAdjust="spacingAndGlyphs" font-family="Liberation Serif" stroke="#111111" stroke-width="0.06">+</text>
<text x="578.2" y="224.8" font-size="17.3" fill="#111111" textLength="8.2" lengthAdjust="spacingAndGlyphs" font-family="Liberation Serif" stroke="#111111" stroke-width="0.32">5</text>
</g>
<g class="caption">
<text x="-0.2" y="450.3" font-size="17.3" fill="#111111" textLength="20" lengthAdjust="spacingAndGlyphs" font-family="Liberation Serif" stroke="#111111" stroke-width="0.32">(d)</text>
<text x="37.3" y="450.3" font-size="17.3" fill="#111111" textLength="47.3" lengthAdjust="spacingAndGlyphs" font-family="Liberation Serif" stroke="#111111" stroke-width="0.32">Model</text>
<text x="100.4" y="450.3" font-size="17.3" fill="#111111" textLength="92.1" lengthAdjust="spacingAndGlyphs" font-family="Liberation Serif" stroke="#111111" stroke-width="0.32">performance</text>
<text x="209" y="450.3" font-size="17.3" fill="#111111" textLength="14.3" lengthAdjust="spacingAndGlyphs" font-family="Liberation Serif" stroke="#111111" stroke-width="0.32">at</text>
<text x="-0.2" y="470.6" font-size="17.3" fill="#111111" textLength="19.1" lengthAdjust="spacingAndGlyphs" font-family="Liberation Serif" stroke="#111111" stroke-width="0.32">Re</text>
<text x="19.9" y="473.6" font-size="14.6" fill="#111111" textLength="10.9" lengthAdjust="spacingAndGlyphs" font-family="Liberation Serif" font-style="italic" stroke="#111111" stroke-width="0.32">C</text>
<text x="37.65" y="471.8" font-size="13" fill="#111111" textLength="13.71" lengthAdjust="spacingAndGlyphs" font-family="Liberation Serif" stroke="#111111" stroke-width="0.42">=</text>
<text x="57.3" y="470.6" font-size="17.3" fill="#111111" textLength="30.36" lengthAdjust="spacingAndGlyphs" font-family="Liberation Serif" stroke="#111111" stroke-width="0.32">1.97</text>
<text x="87.11" y="470.6" font-size="17.3" fill="#111111" textLength="8.69" lengthAdjust="spacingAndGlyphs" font-family="Liberation Serif" font-style="italic" stroke="#111111" stroke-width="0.32">e</text>
<text x="99.05" y="473.7" font-size="23" fill="#111111" textLength="13.71" lengthAdjust="spacingAndGlyphs" font-family="Liberation Serif" stroke="#111111" stroke-width="0.06">+</text>
<text x="116.4" y="470.6" font-size="17.3" fill="#111111" textLength="8.7" lengthAdjust="spacingAndGlyphs" font-family="Liberation Serif" stroke="#111111" stroke-width="0.32">5</text>
<text x="230.8" y="450.3" font-size="17.3" fill="#111111" textLength="21" lengthAdjust="spacingAndGlyphs" font-family="Liberation Serif" stroke="#111111" stroke-width="0.32">(e)</text>
<text x="257.1" y="450.3" font-size="17.3" fill="#111111" textLength="74.6" lengthAdjust="spacingAndGlyphs" font-family="Liberation Serif" stroke="#111111" stroke-width="0.32">x-Velocity</text>
<text x="337.3" y="450.3" font-size="17.3" fill="#111111" textLength="60.9" lengthAdjust="spacingAndGlyphs" font-family="Liberation Serif" stroke="#111111" stroke-width="0.32">Contour</text>
<text x="403.2" y="450.3" font-size="17.3" fill="#111111" textLength="14.3" lengthAdjust="spacingAndGlyphs" font-family="Liberation Serif" stroke="#111111" stroke-width="0.32">at</text>
<text x="422.5" y="450.3" font-size="17.3" fill="#111111" textLength="19.6" lengthAdjust="spacingAndGlyphs" font-family="Liberation Serif" stroke="#111111" stroke-width="0.32">Re</text>
<text x="442.9" y="453.3" font-size="14.6" fill="#111111" textLength="11.2" lengthAdjust="spacingAndGlyphs" font-family="Liberation Serif" font-style="italic" stroke="#111111" stroke-width="0.32">C</text>
<text x="229.83" y="471.8" font-size="13" fill="#111111" textLength="14.04" lengthAdjust="spacingAndGlyphs" font-family="Liberation Serif" stroke="#111111" stroke-width="0.42">=</text>
<text x="249" y="470.6" font-size="17.3" fill="#111111" textLength="31.22" lengthAdjust="spacingAndGlyphs" font-family="Liberation Serif" stroke="#111111" stroke-width="0.32">1.97</text>
<text x="279.69" y="470.6" font-size="17.3" fill="#111111" textLength="8.91" lengthAdjust="spacingAndGlyphs" font-family="Liberation Serif" font-style="italic" stroke="#111111" stroke-width="0.32">e</text>
<text x="291.41" y="473.7" font-size="23" fill="#111111" textLength="14.38" lengthAdjust="spacingAndGlyphs" font-family="Liberation Serif" stroke="#111111" stroke-width="0.06">+</text>
<text x="309" y="470.6" font-size="17.3" fill="#111111" textLength="8.7" lengthAdjust="spacingAndGlyphs" font-family="Liberation Serif" stroke="#111111" stroke-width="0.32">5</text>
<text x="462" y="450.3" font-size="17.3" fill="#111111" textLength="19.6" lengthAdjust="spacingAndGlyphs" font-family="Liberation Serif" stroke="#111111" stroke-width="0.32">(f)</text>
<text x="489" y="450.3" font-size="17.3" fill="#111111" textLength="75.6" lengthAdjust="spacingAndGlyphs" font-family="Liberation Serif" stroke="#111111" stroke-width="0.32">y-Velocity</text>
<text x="571.8" y="450.3" font-size="17.3" fill="#111111" textLength="14.4" lengthAdjust="spacingAndGlyphs" font-family="Liberation Serif" stroke="#111111" stroke-width="0.32">at</text>
<text x="595.9" y="450.3" font-size="17.3" fill="#111111" textLength="9" lengthAdjust="spacingAndGlyphs" font-family="Liberation Serif" stroke="#111111" stroke-width="0.32">x</text>
<text x="611.54" y="451.5" font-size="13" fill="#111111" textLength="13.82" lengthAdjust="spacingAndGlyphs" font-family="Liberation Serif" stroke="#111111" stroke-width="0.42">=</text>
<text x="632.7" y="450.3" font-size="17.3" fill="#111111" textLength="30" lengthAdjust="spacingAndGlyphs" font-family="Liberation Serif" stroke="#111111" stroke-width="0.32">0.38</text>
<text x="671.5" y="450.3" font-size="17.3" fill="#111111" textLength="14.3" lengthAdjust="spacingAndGlyphs" font-family="Liberation Serif" stroke="#111111" stroke-width="0.32">at</text>
<text x="462" y="470.6" font-size="17.3" fill="#111111" textLength="19.7" lengthAdjust="spacingAndGlyphs" font-family="Liberation Serif" stroke="#111111" stroke-width="0.32">Re</text>
<text x="482.3" y="473.6" font-size="14.6" fill="#111111" textLength="10.8" lengthAdjust="spacingAndGlyphs" font-family="Liberation Serif" font-style="italic" stroke="#111111" stroke-width="0.32">C</text>
<text x="500.25" y="471.8" font-size="13" fill="#111111" textLength="13.71" lengthAdjust="spacingAndGlyphs" font-family="Liberation Serif" stroke="#111111" stroke-width="0.42">=</text>
<text x="518.7" y="470.6" font-size="17.3" fill="#111111" textLength="30.44" lengthAdjust="spacingAndGlyphs" font-family="Liberation Serif" stroke="#111111" stroke-width="0.32">1.97</text>
<text x="548.59" y="470.6" font-size="17.3" fill="#111111" textLength="8.71" lengthAdjust="spacingAndGlyphs" font-family="Liberation Serif" font-style="italic" stroke="#111111" stroke-width="0.32">e</text>
<text x="561.2" y="473.7" font-size="23" fill="#111111" textLength="14.61" lengthAdjust="spacingAndGlyphs" font-family="Liberation Serif" stroke="#111111" stroke-width="0.06">+</text>
<text x="578.2" y="470.6" font-size="17.3" fill="#111111" textLength="8.2" lengthAdjust="spacingAndGlyphs" font-family="Liberation Serif" stroke="#111111" stroke-width="0.32">5</text>
</g>
<g class="caption">
<text x="-0.2" y="696.1" font-size="17.3" fill="#111111" textLength="20" lengthAdjust="spacingAndGlyphs" font-family="Liberation Serif" stroke="#111111" stroke-width="0.32">(g)</text>
<text x="37.3" y="696.1" font-size="17.3" fill="#111111" textLength="47.3" lengthAdjust="spacingAndGlyphs" font-family="Liberation Serif" stroke="#111111" stroke-width="0.32">Model</text>
<text x="100.4" y="696.1" font-size="17.3" fill="#111111" textLength="92.1" lengthAdjust="spacingAndGlyphs" font-family="Liberation Serif" stroke="#111111" stroke-width="0.32">performance</text>
<text x="209" y="696.1" font-size="17.3" fill="#111111" textLength="14.3" lengthAdjust="spacingAndGlyphs" font-family="Liberation Serif" stroke="#111111" stroke-width="0.32">at</text>
<text x="-0.2" y="716.4" font-size="17.3" fill="#111111" textLength="19.1" lengthAdjust="spacingAndGlyphs" font-family="Liberation Serif" stroke="#111111" stroke-width="0.32">Re</text>
<text x="19.9" y="719.4" font-size="14.6" fill="#111111" textLength="10.9" lengthAdjust="spacingAndGlyphs" font-family="Liberation Serif" font-style="italic" stroke="#111111" stroke-width="0.32">C</text>
<text x="37.65" y="717.6" font-size="13" fill="#111111" textLength="13.71" lengthAdjust="spacingAndGlyphs" font-family="Liberation Serif" stroke="#111111" stroke-width="0.42">=</text>
<text x="57.3" y="716.4" font-size="17.3" fill="#111111" textLength="30.36" lengthAdjust="spacingAndGlyphs" font-family="Liberation Serif" stroke="#111111" stroke-width="0.32">2.21</text>
<text x="87.11" y="716.4" font-size="17.3" fill="#111111" textLength="8.69" lengthAdjust="spacingAndGlyphs" font-family="Liberation Serif" font-style="italic" stroke="#111111" stroke-width="0.32">e</text>
<text x="99.05" y="719.5" font-size="23" fill="#111111" textLength="13.71" lengthAdjust="spacingAndGlyphs" font-family="Liberation Serif" stroke="#111111" stroke-width="0.06">+</text>
<text x="116.4" y="716.4" font-size="17.3" fill="#111111" textLength="8.7" lengthAdjust="spacingAndGlyphs" font-family="Liberation Serif" stroke="#111111" stroke-width="0.32">5</text>
<text x="230.8" y="696.1" font-size="17.3" fill="#111111" textLength="21" lengthAdjust="spacingAndGlyphs" font-family="Liberation Serif" stroke="#111111" stroke-width="0.32">(h)</text>
<text x="257.1" y="696.1" font-size="17.3" fill="#111111" textLength="74.6" lengthAdjust="spacingAndGlyphs" font-family="Liberation Serif" stroke="#111111" stroke-width="0.32">x-Velocity</text>
<text x="337.3" y="696.1" font-size="17.3" fill="#111111" textLength="60.9" lengthAdjust="spacingAndGlyphs" font-family="Liberation Serif" stroke="#111111" stroke-width="0.32">Contour</text>
<text x="403.2" y="696.1" font-size="17.3" fill="#111111" textLength="14.3" lengthAdjust="spacingAndGlyphs" font-family="Liberation Serif" stroke="#111111" stroke-width="0.32">at</text>
<text x="422.5" y="696.1" font-size="17.3" fill="#111111" textLength="19.6" lengthAdjust="spacingAndGlyphs" font-family="Liberation Serif" stroke="#111111" stroke-width="0.32">Re</text>
<text x="442.9" y="699.1" font-size="14.6" fill="#111111" textLength="11.2" lengthAdjust="spacingAndGlyphs" font-family="Liberation Serif" font-style="italic" stroke="#111111" stroke-width="0.32">C</text>
<text x="229.83" y="717.6" font-size="13" fill="#111111" textLength="14.04" lengthAdjust="spacingAndGlyphs" font-family="Liberation Serif" stroke="#111111" stroke-width="0.42">=</text>
<text x="249" y="716.4" font-size="17.3" fill="#111111" textLength="31.22" lengthAdjust="spacingAndGlyphs" font-family="Liberation Serif" stroke="#111111" stroke-width="0.32">2.21</text>
<text x="279.69" y="716.4" font-size="17.3" fill="#111111" textLength="8.91" lengthAdjust="spacingAndGlyphs" font-family="Liberation Serif" font-style="italic" stroke="#111111" stroke-width="0.32">e</text>
<text x="291.41" y="719.5" font-size="23" fill="#111111" textLength="14.38" lengthAdjust="spacingAndGlyphs" font-family="Liberation Serif" stroke="#111111" stroke-width="0.06">+</text>
<text x="309" y="716.4" font-size="17.3" fill="#111111" textLength="8.7" lengthAdjust="spacingAndGlyphs" font-family="Liberation Serif" stroke="#111111" stroke-width="0.32">5</text>
<text x="462" y="696.1" font-size="17.3" fill="#111111" textLength="19.6" lengthAdjust="spacingAndGlyphs" font-family="Liberation Serif" stroke="#111111" stroke-width="0.32">(i)</text>
<text x="489" y="696.1" font-size="17.3" fill="#111111" textLength="75.6" lengthAdjust="spacingAndGlyphs" font-family="Liberation Serif" stroke="#111111" stroke-width="0.32">y-Velocity</text>
<text x="571.8" y="696.1" font-size="17.3" fill="#111111" textLength="14.4" lengthAdjust="spacingAndGlyphs" font-family="Liberation Serif" stroke="#111111" stroke-width="0.32">at</text>
<text x="595.9" y="696.1" font-size="17.3" fill="#111111" textLength="9" lengthAdjust="spacingAndGlyphs" font-family="Liberation Serif" stroke="#111111" stroke-width="0.32">x</text>
<text x="611.54" y="697.3" font-size="13" fill="#111111" textLength="13.82" lengthAdjust="spacingAndGlyphs" font-family="Liberation Serif" stroke="#111111" stroke-width="0.42">=</text>
<text x="632.7" y="696.1" font-size="17.3" fill="#111111" textLength="30" lengthAdjust="spacingAndGlyphs" font-family="Liberation Serif" stroke="#111111" stroke-width="0.32">0.38</text>
<text x="671.5" y="696.1" font-size="17.3" fill="#111111" textLength="14.3" lengthAdjust="spacingAndGlyphs" font-family="Liberation Serif" stroke="#111111" stroke-width="0.32">at</text>
<text x="462" y="716.4" font-size="17.3" fill="#111111" textLength="19.7" lengthAdjust="spacingAndGlyphs" font-family="Liberation Serif" stroke="#111111" stroke-width="0.32">Re</text>
<text x="482.3" y="719.4" font-size="14.6" fill="#111111" textLength="10.8" lengthAdjust="spacingAndGlyphs" font-family="Liberation Serif" font-style="italic" stroke="#111111" stroke-width="0.32">C</text>
<text x="500.25" y="717.6" font-size="13" fill="#111111" textLength="13.71" lengthAdjust="spacingAndGlyphs" font-family="Liberation Serif" stroke="#111111" stroke-width="0.42">=</text>
<text x="518.7" y="716.4" font-size="17.3" fill="#111111" textLength="30.44" lengthAdjust="spacingAndGlyphs" font-family="Liberation Serif" stroke="#111111" stroke-width="0.32">2.21</text>
<text x="548.59" y="716.4" font-size="17.3" fill="#111111" textLength="8.71" lengthAdjust="spacingAndGlyphs" font-family="Liberation Serif" font-style="italic" stroke="#111111" stroke-width="0.32">e</text>
<text x="561.2" y="719.5" font-size="23" fill="#111111" textLength="14.61" lengthAdjust="spacingAndGlyphs" font-family="Liberation Serif" stroke="#111111" stroke-width="0.06">+</text>
<text x="578.2" y="716.4" font-size="17.3" fill="#111111" textLength="8.2" lengthAdjust="spacingAndGlyphs" font-family="Liberation Serif" stroke="#111111" stroke-width="0.32">5</text>
</g>
</svg>
</body>
</html>
